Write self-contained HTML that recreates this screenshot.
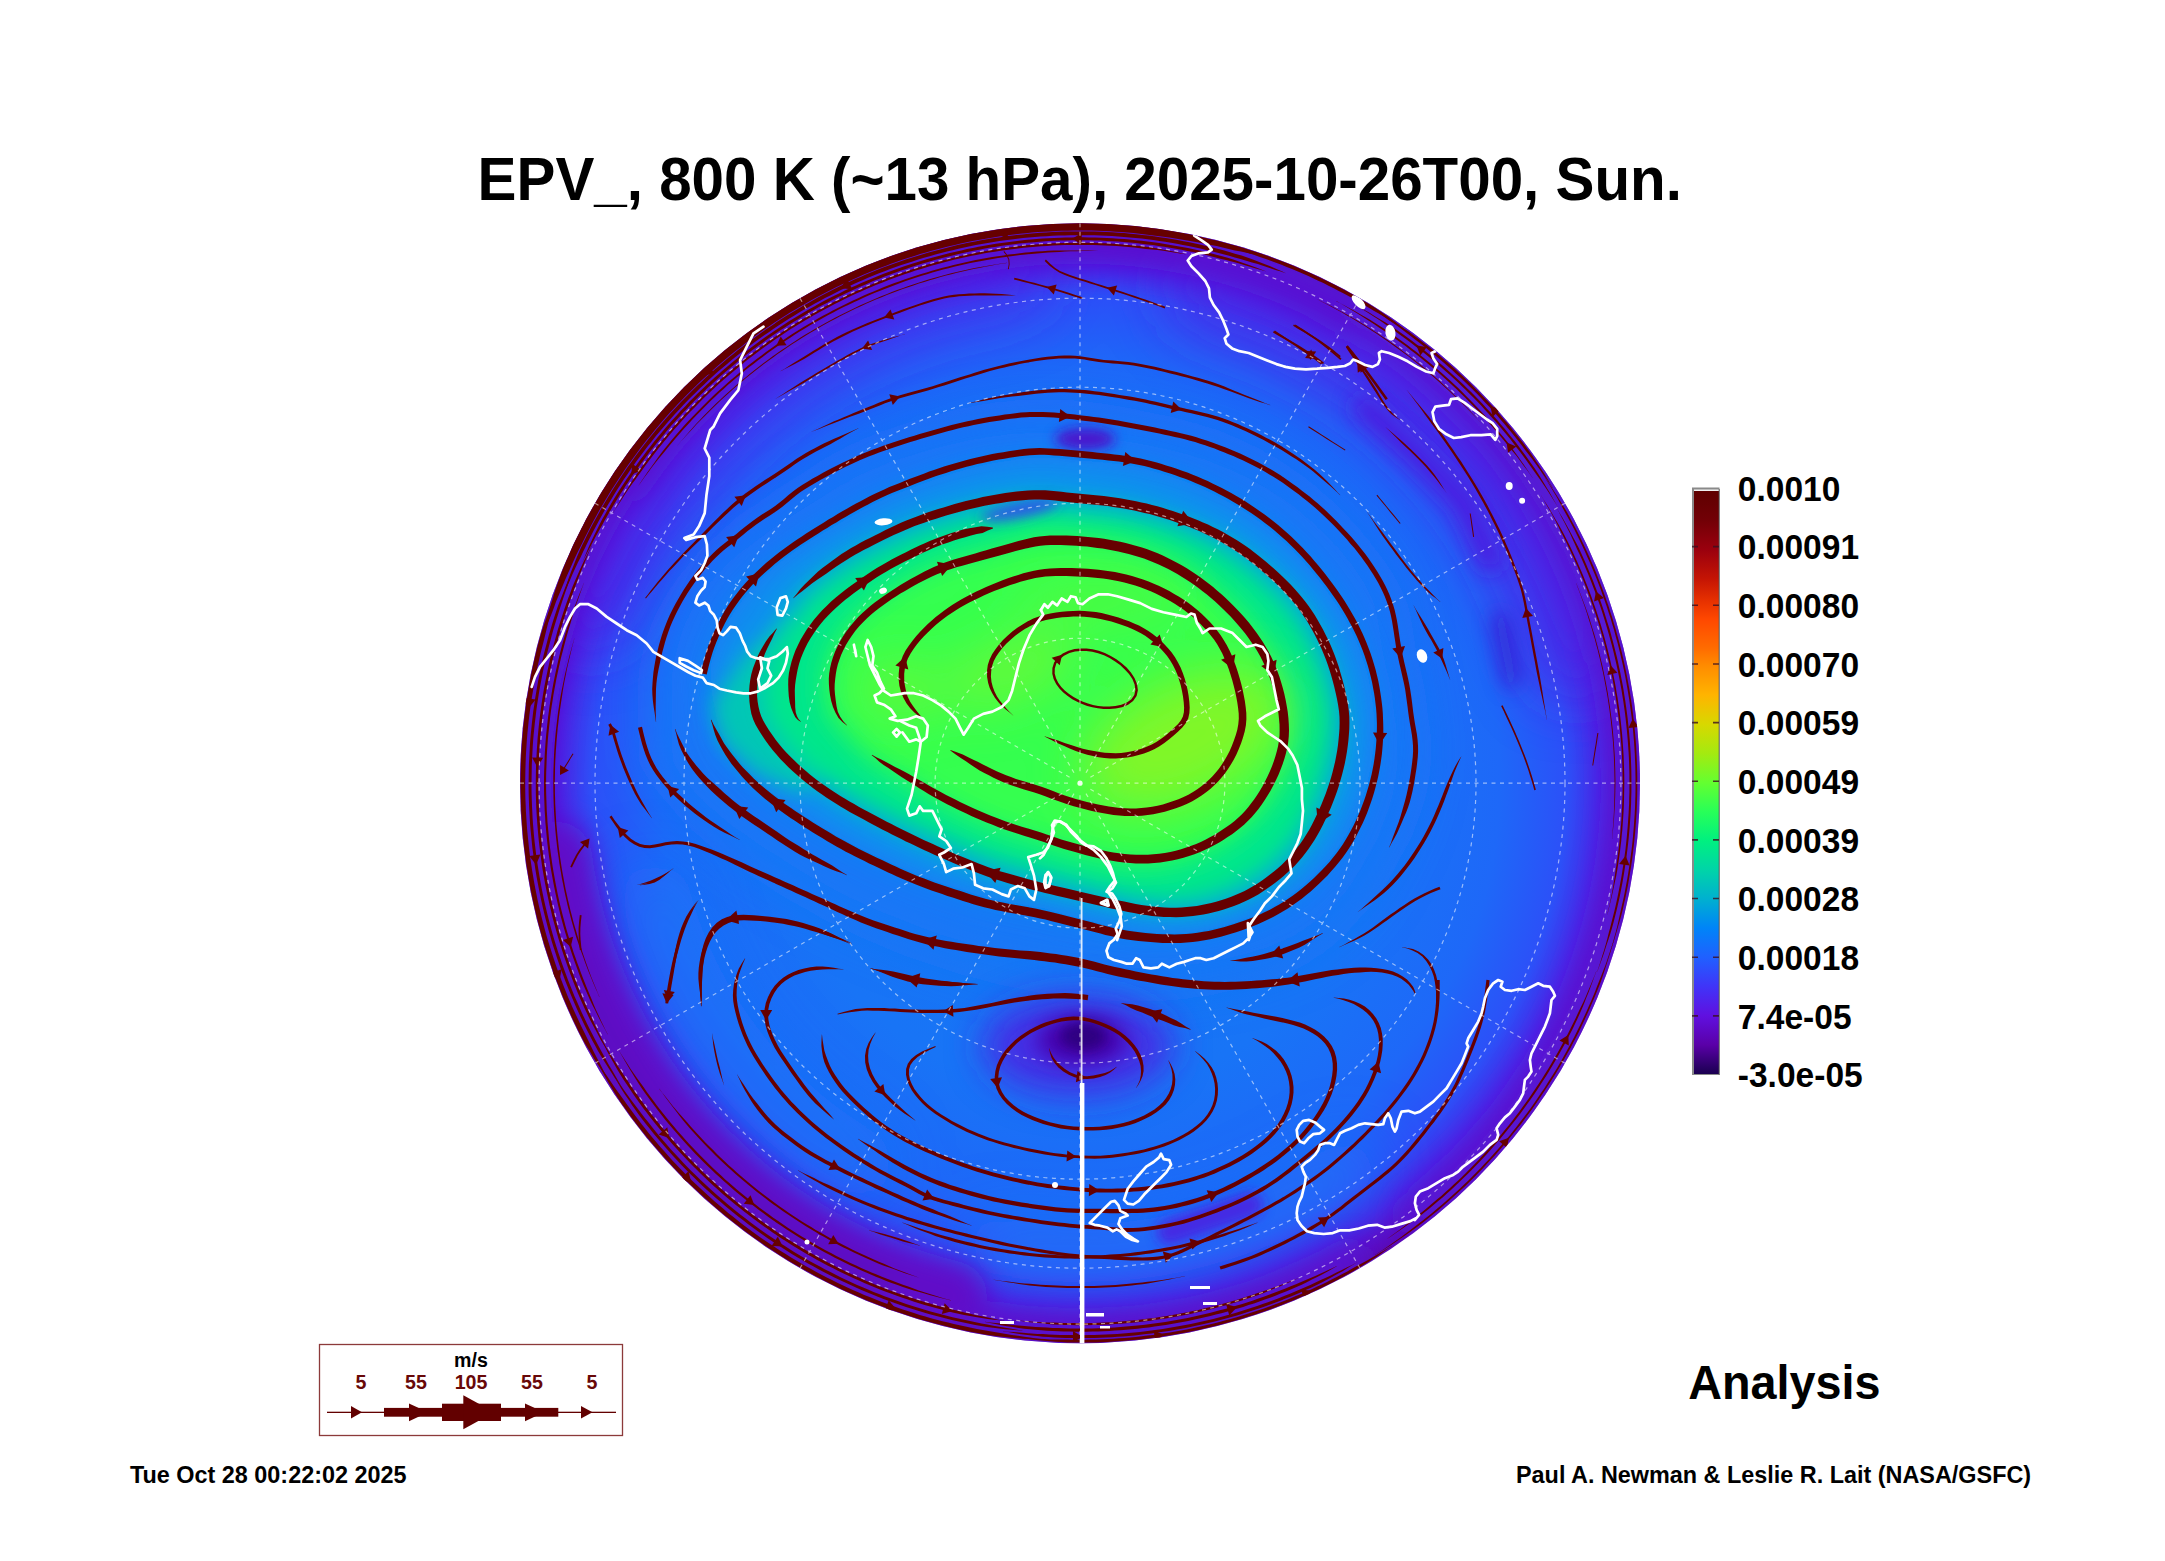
<!DOCTYPE html>
<html lang="en"><head><meta charset="utf-8"><title>EPV_, 800 K (~13 hPa), 2025-10-26T00, Sun.</title>
<style>
html,body{margin:0;padding:0;background:#fff;}
body{width:2165px;height:1561px;overflow:hidden;position:relative;font-family:"Liberation Sans",sans-serif;}
svg{position:absolute;left:0;top:0;display:block}
text{font-family:"Liberation Sans",sans-serif;font-weight:bold;fill:#000}
.title{font-size:61.2px}
.cb{font-size:35.8px}
.an{font-size:48.4px}
.ft{font-size:23.4px}
.lg{font-size:19.6px}
.lgr{fill:#680808}
</style></head><body>
<svg width="2165" height="1561" viewBox="0 0 2165 1561">
<defs>
<linearGradient id="cbg" x1="0" y1="0" x2="0" y2="1"><stop offset="0.00" stop-color="#5f0000"/><stop offset="0.05" stop-color="#720006"/><stop offset="0.10" stop-color="#9a000e"/><stop offset="0.15" stop-color="#c41404"/><stop offset="0.19" stop-color="#e83200"/><stop offset="0.22" stop-color="#ff4800"/><stop offset="0.27" stop-color="#ff6c00"/><stop offset="0.30" stop-color="#ff8c00"/><stop offset="0.35" stop-color="#ffb400"/><stop offset="0.40" stop-color="#d8d800"/><stop offset="0.45" stop-color="#a4ea10"/><stop offset="0.50" stop-color="#64ff30"/><stop offset="0.55" stop-color="#28ff58"/><stop offset="0.60" stop-color="#00f080"/><stop offset="0.65" stop-color="#00d4a8"/><stop offset="0.70" stop-color="#00b0d0"/><stop offset="0.75" stop-color="#0084f8"/><stop offset="0.80" stop-color="#2060ff"/><stop offset="0.85" stop-color="#4034f8"/><stop offset="0.90" stop-color="#6010e0"/><stop offset="0.95" stop-color="#5a00a8"/><stop offset="1.00" stop-color="#1a0050"/></linearGradient>
</defs>
<rect width="2165" height="1561" fill="#fff"/>
<text transform="translate(477.6 200) scale(.9533 1)" class="title">EPV_, 800 K (~13 hPa), 2025-10-26T00, Sun.</text>
<defs>
<clipPath id="disc"><circle cx="1080.0" cy="783.2" r="560.0"/></clipPath>
<radialGradient id="base" gradientUnits="userSpaceOnUse" cx="1080.0" cy="783.2" r="560.0">
<stop offset="0" stop-color="#1478f4"/><stop offset=".55" stop-color="#1874f6"/><stop offset=".75" stop-color="#1e68f8"/>
<stop offset=".87" stop-color="#2c50f8"/><stop offset=".93" stop-color="#4a26e6"/><stop offset=".965" stop-color="#5a10cc"/><stop offset="1" stop-color="#5c08b4"/>
</radialGradient>
<filter id="b6" x="-50%" y="-50%" width="200%" height="200%"><feGaussianBlur stdDeviation="6"/></filter>
<filter id="b10" x="-50%" y="-50%" width="200%" height="200%"><feGaussianBlur stdDeviation="10"/></filter>
<filter id="b14" x="-50%" y="-50%" width="200%" height="200%"><feGaussianBlur stdDeviation="14"/></filter>
<filter id="b18" x="-50%" y="-50%" width="200%" height="200%"><feGaussianBlur stdDeviation="18"/></filter>
<filter id="b25" x="-50%" y="-50%" width="200%" height="200%"><feGaussianBlur stdDeviation="25"/></filter>
<filter id="b30" x="-50%" y="-50%" width="200%" height="200%"><feGaussianBlur stdDeviation="30"/></filter>
</defs>
<g id="map" clip-path="url(#disc)">
<circle cx="1080.0" cy="783.2" r="561.0" fill="url(#base)"/>
<g filter="url(#b30)">
<path d="M591 605A520 520 0 0 1 1008 268" fill="none" stroke="#4a28e8" stroke-width="90" opacity="0.75" stroke-linecap="round"/>
<path d="M1213 286A515 515 0 0 1 1577 650" fill="none" stroke="#4a26e6" stroke-width="95" opacity="0.8" stroke-linecap="round"/>
<path d="M1350 1168A470 470 0 0 1 998 1246" fill="none" stroke="#1484f8" stroke-width="60" opacity="0.55" stroke-linecap="round"/>
<path d="M860 1164A440 440 0 0 1 655 897" fill="none" stroke="#1a7cf8" stroke-width="70" opacity="0.5" stroke-linecap="round"/>
</g><g filter="url(#b14)">
<path d="M952 1296A528 528 0 0 1 557 857" fill="none" stroke="#600cc8" stroke-width="70" opacity="1" stroke-linecap="round"/>
<path d="M878 1284A540 540 0 0 1 573 968" fill="none" stroke="#5c08c0" stroke-width="40" opacity="0.8" stroke-linecap="round"/>
<path d="M1612 651A548 548 0 0 1 1417 1215" fill="none" stroke="#5616d6" stroke-width="36" opacity="0.9" stroke-linecap="round"/>
<path d="M535 821A546 546 0 0 1 633 470" fill="none" stroke="#5a12d2" stroke-width="34" opacity="0.9" stroke-linecap="round"/>
<path d="M632 481A540 540 0 0 1 1350 316" fill="none" stroke="#5a12d2" stroke-width="40" opacity="0.95" stroke-linecap="round"/>
<path d="M1352 312A544 544 0 0 1 1608 652" fill="none" stroke="#5814d4" stroke-width="34" opacity="0.9" stroke-linecap="round"/>
<path d="M1354 1258A548 548 0 0 1 985 1323" fill="none" stroke="#5a14d4" stroke-width="28" opacity="0.9" stroke-linecap="round"/>
</g>
<g filter="url(#b25)">
<path d="M656.0 722.0C655.0 708.4 653.4 699.5 653.9 688.7C654.3 677.9 656.2 667.7 658.5 657.3C660.8 646.8 663.7 636.0 667.7 625.8C671.7 615.7 677.3 605.2 682.5 596.3C687.7 587.4 693.3 579.7 699.1 572.3C705.0 564.9 711.7 557.5 717.6 551.9C723.4 546.4 728.1 543.9 734.2 539.0C740.4 534.1 746.9 527.9 754.5 522.4C762.2 516.8 763.8 516.1 780.4 505.8C797.0 495.4 830.7 471.6 854.0 460.0C877.3 448.4 896.7 442.8 920.0 436.0C943.3 429.2 970.0 422.3 994.0 419.0C1018.0 415.7 1046.3 415.8 1064.0 416.0C1081.7 416.2 1084.9 417.7 1100.0 420.0C1115.1 422.3 1136.8 426.2 1154.5 430.0C1172.3 433.8 1188.4 436.8 1206.3 442.9C1224.1 449.1 1244.8 457.7 1261.7 467.0C1278.6 476.2 1294.0 487.3 1307.9 498.4C1321.8 509.4 1334.1 521.8 1344.8 533.5C1355.6 545.2 1364.9 556.6 1372.6 568.6C1380.3 580.6 1386.6 591.7 1391.0 605.5C1395.5 619.4 1396.6 637.9 1399.4 651.7C1402.1 665.6 1405.7 677.6 1407.7 688.7C1409.7 699.7 1410.0 708.5 1411.4 718.0C1412.7 727.5 1415.7 736.5 1416.0 745.7C1416.3 754.9 1414.6 764.2 1413.2 773.4C1411.8 782.7 1410.1 792.2 1407.7 801.1C1405.2 810.1 1401.5 819.3 1398.4 827.0C1395.4 834.7 1397.3 833.5 1389.2 847.3C1381.1 861.2 1368.2 891.2 1350.0 910.0C1331.8 928.8 1313.3 947.5 1280.0 960.0C1246.7 972.5 1196.7 983.7 1150.0 985.0C1103.3 986.3 1050.0 979.7 1000.0 968.0C950.0 956.3 896.7 937.2 850.0 915.0C803.3 892.8 751.7 859.2 720.0 835.0C688.3 810.8 670.7 788.8 660.0 770.0C649.3 751.2 657.0 735.6 656.0 722.0Z" fill="#1a78f6" opacity=".9"/>
</g><g filter="url(#b14)">
<path d="M709.7 674.3C709.4 663.2 712.9 659.5 715.2 652.5C717.5 645.6 720.6 638.9 723.5 632.6C726.4 626.2 729.0 620.5 732.6 614.5C736.3 608.4 740.9 602.1 745.5 596.4C750.0 590.6 754.6 585.5 760.1 580.1C765.6 574.7 771.7 569.3 778.4 563.9C785.1 558.4 792.4 553.1 800.3 547.7C808.2 542.3 817.1 536.9 825.9 531.5C834.7 526.1 843.5 520.8 853.2 515.4C862.9 510.0 873.7 504.0 884.0 499.3C894.3 494.5 904.3 490.8 914.8 486.8C925.4 482.8 935.9 478.8 947.3 475.2C958.8 471.6 971.4 468.0 983.4 465.3C995.5 462.6 1010.0 460.4 1019.5 459.0C1029.0 457.7 1030.8 457.1 1040.2 457.2C1049.7 457.4 1061.9 458.6 1076.3 460.0C1090.7 461.3 1113.3 463.2 1126.8 465.3C1140.3 467.3 1146.4 469.1 1157.5 472.4C1168.7 475.6 1181.6 479.8 1193.7 484.9C1205.8 489.9 1218.5 496.2 1229.9 502.8C1241.4 509.4 1252.3 516.5 1262.6 524.3C1272.9 532.1 1282.6 540.5 1291.7 549.5C1300.8 558.6 1309.3 568.5 1317.2 578.4C1325.1 588.4 1332.7 598.9 1339.1 609.1C1345.5 619.4 1351.0 629.7 1355.6 639.9C1360.2 650.2 1363.8 661.1 1366.6 670.7C1369.3 680.4 1370.9 690.1 1372.1 697.9C1373.3 705.7 1373.6 711.1 1374.0 717.7C1374.3 724.3 1374.4 730.1 1374.0 737.6C1373.6 745.2 1372.8 754.2 1371.3 763.0C1369.8 771.8 1367.8 780.9 1365.0 790.2C1362.1 799.6 1358.6 809.6 1354.1 819.3C1349.5 828.9 1344.0 839.2 1337.7 848.3C1331.3 857.3 1323.7 865.8 1315.8 873.6C1307.9 881.4 1299.1 889.0 1290.3 895.3C1281.5 901.6 1272.1 907.0 1263.0 911.5C1253.9 915.9 1245.1 919.1 1235.7 922.2C1226.3 925.3 1216.3 928.2 1206.6 930.1C1196.9 932.0 1187.2 933.1 1177.5 933.5C1167.9 933.9 1158.2 933.2 1148.5 932.3C1138.8 931.5 1129.2 930.3 1119.5 928.4C1109.9 926.5 1100.3 923.4 1090.6 920.9C1081.0 918.4 1070.2 915.6 1061.8 913.4C1053.4 911.2 1051.8 910.3 1040.3 907.8C1028.7 905.4 1006.6 902.1 992.7 898.8C978.8 895.5 968.7 892.0 956.7 888.1C944.7 884.3 932.7 880.5 920.7 875.7C908.6 871.0 896.6 865.4 884.5 859.8C872.4 854.2 860.3 848.5 848.1 842.0C836.0 835.5 822.6 827.4 811.6 820.6C800.7 813.7 790.9 807.1 782.3 800.9C773.8 794.6 767.3 789.5 760.3 782.8C753.3 776.2 745.9 768.4 740.1 761.2C734.3 753.9 729.2 746.4 725.4 739.4C721.6 732.5 719.7 730.3 717.1 719.5C714.5 708.6 710.0 685.5 709.7 674.3Z" fill="#0c90ee"/>
</g><g filter="url(#b10)">
<path d="M789.6 596.6C794.6 589.3 797.4 588.2 802.7 583.4C808.0 578.7 814.2 573.7 821.3 568.4C828.5 563.0 836.9 556.7 845.6 551.4C854.3 546.0 863.6 541.3 873.6 536.2C883.6 531.2 894.8 525.5 905.4 521.1C916.0 516.7 926.4 513.2 937.3 509.7C948.3 506.2 959.9 502.9 971.1 500.2C982.4 497.5 993.6 495.1 1005.0 493.5C1016.5 491.9 1027.8 490.5 1039.8 490.7C1051.9 490.8 1065.0 493.1 1077.5 494.4C1090.1 495.7 1102.6 496.3 1115.1 498.3C1127.7 500.2 1140.5 502.7 1152.7 505.9C1164.9 509.1 1177.4 513.2 1188.4 517.3C1199.3 521.5 1208.7 525.6 1218.3 530.6C1228.0 535.7 1237.0 541.0 1246.4 547.6C1255.7 554.2 1265.7 562.4 1274.4 570.2C1283.1 578.1 1291.5 586.2 1298.6 594.7C1305.8 603.2 1311.7 611.6 1317.3 621.0C1322.9 630.4 1328.1 641.3 1332.2 651.0C1336.2 660.7 1339.0 670.4 1341.4 679.1C1343.9 687.8 1345.8 696.9 1347.0 703.4C1348.2 710.0 1348.9 711.1 1348.8 718.2C1348.8 725.4 1348.2 736.9 1347.0 746.3C1345.7 755.6 1343.8 765.0 1341.3 774.4C1338.9 783.7 1336.0 792.5 1332.0 802.5C1327.9 812.5 1322.6 824.6 1317.0 834.3C1311.4 844.0 1305.2 852.7 1298.3 860.5C1291.5 868.4 1284.0 874.9 1275.9 881.2C1267.9 887.5 1259.1 893.4 1249.8 898.2C1240.5 902.9 1229.9 906.7 1219.9 909.5C1210.0 912.4 1200.0 914.3 1190.0 915.3C1180.1 916.3 1170.1 916.2 1160.1 915.5C1150.1 914.8 1140.8 913.0 1130.1 911.1C1119.5 909.2 1107.3 906.3 1096.4 903.9C1085.4 901.5 1073.8 898.7 1064.3 896.6C1054.9 894.4 1049.1 893.4 1039.8 891.0C1030.5 888.7 1017.0 885.0 1008.6 882.6C1000.3 880.3 999.2 880.5 989.8 877.0C980.3 873.5 964.6 867.2 952.0 861.8C939.5 856.5 926.9 850.7 914.4 844.7C901.9 838.7 889.4 832.3 876.9 825.6C864.5 819.0 850.5 811.4 839.6 804.7C828.8 798.1 820.4 792.4 811.7 785.8C803.1 779.2 794.7 772.0 787.6 765.1C780.5 758.2 774.0 750.7 769.1 744.5C764.1 738.2 760.7 732.0 758.0 727.6C755.2 723.2 753.9 723.5 752.4 718.2C750.9 712.9 749.0 703.1 748.7 696.0C748.4 688.8 749.3 681.9 750.6 675.4C751.8 668.8 754.0 662.2 756.1 656.6C758.3 651.0 760.8 646.5 763.6 641.6C766.4 636.8 768.5 635.1 772.9 627.6C777.2 620.1 784.7 604.0 789.6 596.6Z" fill="#04b4d0"/>
<path d="M712 705L745 655L790 615L835 640L840 760L800 792L755 772L722 742Z" fill="#06ccb0" opacity=".9"/>
</g><g filter="url(#b10)">
<path d="M806.3 603.5C811.1 596.6 813.8 595.6 818.9 591.3C824.0 587.0 829.9 582.4 836.8 577.6C843.7 572.7 851.7 567.0 860.0 562.2C868.3 557.4 877.2 553.2 886.6 548.7C896.0 544.2 906.6 539.1 916.6 535.2C926.5 531.3 936.1 528.3 946.3 525.3C956.5 522.2 967.2 519.3 977.6 517.0C987.9 514.6 998.2 512.5 1008.7 511.1C1019.2 509.8 1029.5 508.5 1040.6 508.7C1051.6 508.8 1063.5 511.1 1075.0 512.2C1086.5 513.3 1098.0 513.8 1109.6 515.4C1121.1 517.0 1133.0 519.1 1144.3 521.8C1155.6 524.5 1167.3 528.1 1177.5 531.7C1187.8 535.3 1196.6 538.9 1205.7 543.4C1214.8 547.9 1223.4 552.7 1232.2 558.7C1241.1 564.7 1250.6 572.2 1258.9 579.4C1267.2 586.5 1275.3 594.0 1282.1 601.8C1289.0 609.7 1294.7 617.5 1300.0 626.2C1305.4 635.0 1310.5 645.2 1314.5 654.2C1318.4 663.3 1321.1 672.4 1323.5 680.6C1325.9 688.8 1327.8 697.3 1329.0 703.4C1330.2 709.5 1330.8 710.6 1330.9 717.3C1330.9 724.0 1330.3 734.9 1329.1 743.7C1328.0 752.5 1326.2 761.3 1323.9 770.1C1321.5 778.9 1318.8 787.1 1315.0 796.5C1311.2 805.9 1306.2 817.3 1300.9 826.4C1295.5 835.5 1289.6 843.7 1283.1 850.9C1276.6 858.2 1269.5 864.3 1261.8 870.1C1254.1 875.9 1245.8 881.4 1236.9 885.6C1228.0 889.9 1217.9 893.2 1208.4 895.7C1199.0 898.1 1189.5 899.7 1180.0 900.3C1170.6 901.0 1161.1 900.6 1151.7 899.6C1142.3 898.6 1133.5 896.5 1123.6 894.3C1113.6 892.1 1102.3 889.0 1092.2 886.4C1082.1 883.8 1071.5 880.9 1062.9 878.6C1054.3 876.4 1049.0 875.3 1040.6 873.1C1032.3 870.8 1020.1 867.3 1012.5 865.1C1005.0 862.9 1004.0 863.0 995.5 859.9C987.0 856.8 972.8 851.2 961.4 846.4C949.9 841.7 938.4 836.8 926.8 831.6C915.1 826.4 903.4 821.0 891.6 815.2C879.7 809.4 866.3 802.7 855.8 796.9C845.3 791.0 837.2 785.9 828.7 779.9C820.3 773.9 812.1 767.3 805.1 760.9C798.1 754.6 791.7 747.6 786.9 741.8C782.0 736.0 778.6 730.1 775.9 726.1C773.1 722.0 771.9 722.2 770.4 717.3C768.8 712.3 767.0 703.1 766.7 696.4C766.4 689.7 767.3 683.2 768.5 677.0C769.7 670.9 771.8 664.7 773.9 659.4C776.0 654.2 778.5 649.9 781.2 645.4C783.9 640.9 786.0 639.3 790.2 632.3C794.4 625.3 801.5 610.3 806.3 603.5Z" fill="#02e68c"/>
</g><g filter="url(#b14)">
<path d="M841.0 726.0C835.2 719.6 834.2 723.8 831.7 718.4C829.2 713.1 827.1 701.5 826.2 693.9C825.2 686.4 825.3 680.0 826.2 673.1C827.1 666.1 829.0 659.2 831.8 652.2C834.7 645.3 838.4 638.0 843.1 631.3C847.8 624.7 853.1 618.6 860.0 612.2C866.8 605.9 875.6 599.1 884.4 593.1C893.1 587.0 903.2 580.8 912.6 575.7C922.1 570.5 930.9 566.0 941.0 562.1C951.1 558.2 962.2 555.5 973.3 552.2C984.5 549.0 996.7 545.4 1007.7 542.5C1018.7 539.6 1027.7 536.2 1039.3 534.9C1051.0 533.6 1064.9 534.1 1077.6 534.9C1090.4 535.7 1103.2 537.2 1115.9 539.8C1128.6 542.4 1142.0 545.9 1154.0 550.6C1166.1 555.2 1178.1 561.8 1188.3 567.9C1198.4 574.0 1206.3 580.1 1214.8 587.2C1223.3 594.2 1232.1 602.5 1239.3 610.2C1246.5 617.8 1252.5 625.1 1258.1 633.1C1263.8 641.0 1268.8 648.7 1273.1 657.8C1277.5 667.0 1281.5 678.2 1284.3 688.2C1287.1 698.3 1289.0 709.3 1289.9 718.4C1290.8 727.5 1291.1 734.5 1289.8 743.0C1288.5 751.5 1285.7 760.7 1282.2 769.6C1278.8 778.4 1274.4 787.6 1269.1 796.2C1263.7 804.7 1257.4 813.6 1250.2 820.9C1243.0 828.2 1234.5 834.4 1225.7 840.0C1216.9 845.6 1206.9 850.8 1197.4 854.5C1188.0 858.2 1178.9 860.7 1169.1 862.4C1159.3 864.1 1148.9 864.9 1138.8 864.7C1128.6 864.5 1118.5 863.1 1108.3 861.4C1098.2 859.6 1086.7 856.5 1077.7 854.2C1068.8 851.9 1061.1 849.8 1054.6 847.8C1048.2 845.8 1047.1 844.7 1039.2 842.2C1031.3 839.7 1019.0 836.8 1007.3 832.6C995.6 828.4 981.6 822.8 968.9 816.9C956.1 811.1 941.8 803.5 930.8 797.3C919.7 791.1 911.0 784.9 902.5 779.8C894.1 774.6 886.1 770.0 880.1 766.2C874.0 762.3 872.6 763.2 866.1 756.5C859.6 749.8 846.7 732.4 841.0 726.0Z" fill="#36ff50"/>
</g><g filter="url(#b25)">
<ellipse cx="1185" cy="740" rx="110" ry="60" transform="rotate(-25 1185 740)" fill="#88f622" opacity=".9"/>
<ellipse cx="1010" cy="670" rx="70" ry="30" transform="rotate(-20 1010 670)" fill="#7af82c" opacity=".7"/>
<ellipse cx="900" cy="690" rx="40" ry="30" fill="#74f830" opacity=".7"/>
<ellipse cx="1100" cy="600" rx="90" ry="20" fill="#6cfa34" opacity=".5"/>
</g>
<g filter="url(#b18)">
<ellipse cx="1078" cy="1046" rx="95" ry="50" fill="#4a22e2" opacity=".9"/>
</g><g filter="url(#b10)">
<ellipse cx="1082" cy="1040" rx="44" ry="24" fill="#4606ac"/>
<ellipse cx="1086" cy="1036" rx="16" ry="10" fill="#2a0478"/>
<path d="M1365 408L1420 458L1464 502L1490 560" fill="none" stroke="#4a20e0" stroke-width="24" stroke-linecap="round" stroke-linejoin="round" opacity=".9"/>
<path d="M1500 620L1512 680" fill="none" stroke="#3c14c8" stroke-width="14" stroke-linecap="round" opacity=".8"/>
</g><g filter="url(#b6)">
<ellipse cx="1085" cy="439" rx="30" ry="11" fill="#4a12cc"/>
<ellipse cx="1083" cy="1036" rx="22" ry="12" fill="#2e0480" opacity=".9"/>
<path d="M1170 1232L1250 1205" fill="none" stroke="#4a20e0" stroke-width="26" stroke-linecap="round" opacity=".85"/>
<ellipse cx="1020" cy="510" rx="40" ry="8" transform="rotate(-12 1020 510)" fill="#3a40f4" opacity=".8"/>
</g>
<g id="streams" fill="#660000" stroke="none">
<path d="M1054.8 668.5L1056.3 663.6L1059.5 659.3L1064.0 655.7L1069.4 653.1L1075.0 651.6L1080.6 650.9L1086.3 650.9L1092.2 651.7L1098.1 653.2L1104.0 655.3L1109.6 658.1L1115.1 661.4L1120.1 665.1L1124.8 669.4L1129.0 674.0L1132.4 679.1L1134.6 684.6L1135.4 690.1L1134.3 695.1L1131.4 699.3L1126.9 702.6L1121.3 704.8L1115.3 706.1L1109.4 706.5L1103.6 706.4L1098.2 705.9L1093.0 704.9L1088.0 703.6L1083.0 701.8L1078.2 699.6L1073.6 697.1L1069.1 694.1L1065.0 690.7L1061.3 687.0L1058.2 682.8L1056.0 678.3L1054.7 673.4ZM1052.3 673.7L1053.6 679.1L1056.1 684.1L1059.4 688.6L1063.3 692.6L1067.7 696.1L1072.3 699.2L1077.1 701.8L1082.1 704.1L1087.2 705.9L1092.4 707.3L1097.8 708.3L1103.5 708.9L1109.5 709.0L1115.7 708.5L1122.0 707.2L1128.1 704.8L1133.1 701.1L1136.6 696.1L1137.9 690.2L1137.0 684.0L1134.5 678.0L1130.9 672.5L1126.6 667.6L1121.7 663.2L1116.4 659.3L1110.8 655.9L1104.9 653.0L1098.8 650.8L1092.6 649.3L1086.5 648.5L1080.5 648.4L1074.5 649.1L1068.5 650.8L1062.7 653.6L1057.7 657.5L1054.1 662.5L1052.4 668.1Z"/>
<path d="M1062.1 654.7L1059.7 665.2L1051.7 657.7Z"/>
<path d="M1013.3 715.4L1009.9 712.2L1006.6 708.7L1003.2 704.8L999.9 700.7L997.0 696.4L994.6 691.8L992.8 687.0L991.5 682.0L990.9 676.6L991.2 671.2L992.1 666.0L993.8 661.1L996.2 656.6L999.1 652.2L1002.6 647.8L1006.5 643.6L1010.9 639.5L1015.5 635.6L1020.3 632.0L1025.2 628.8L1030.3 626.0L1035.4 623.6L1040.7 621.6L1045.9 620.0L1051.3 618.9L1056.8 618.0L1062.3 617.3L1067.8 616.9L1073.3 616.6L1078.8 616.6L1084.2 616.8L1089.6 617.3L1095.0 618.0L1100.5 619.0L1105.9 620.2L1111.4 621.6L1116.8 623.2L1122.0 625.0L1127.0 626.8L1131.8 628.8L1136.5 630.9L1140.9 633.2L1145.2 635.8L1149.2 638.7L1153.1 641.8L1156.9 645.1L1160.5 648.5L1163.9 652.2L1167.1 656.1L1170.2 660.4L1172.9 665.1L1175.4 670.0L1177.5 675.1L1179.2 680.3L1180.8 685.6L1182.0 691.1L1183.0 696.6L1183.7 702.1L1184.1 707.4L1183.9 712.3L1182.9 716.5L1181.0 720.3L1178.1 723.9L1174.4 727.6L1170.1 731.5L1165.5 735.4L1160.8 738.9L1156.3 741.9L1151.8 744.4L1147.1 746.6L1142.3 748.4L1137.2 750.0L1132.0 751.3L1126.6 752.3L1121.1 752.9L1115.7 753.2L1110.3 753.1L1104.9 752.7L1099.5 752.0L1094.0 751.1L1088.4 750.1L1082.8 748.7L1077.1 746.9L1071.0 745.0L1064.6 743.0L1058.1 740.6L1051.4 738.5L1044.7 736.3L1044.6 736.6L1050.9 739.7L1057.2 742.9L1063.6 745.7L1069.7 748.5L1075.7 750.9L1081.6 752.9L1087.3 754.7L1093.0 756.1L1098.7 757.2L1104.4 758.0L1110.1 758.4L1115.8 758.4L1121.6 758.1L1127.3 757.5L1133.0 756.5L1138.6 755.1L1144.0 753.5L1149.2 751.5L1154.2 749.3L1159.1 746.6L1164.0 743.3L1168.9 739.6L1173.7 735.6L1178.2 731.6L1182.3 727.6L1185.7 723.3L1188.2 718.4L1189.4 713.1L1189.7 707.4L1189.3 701.6L1188.6 695.7L1187.6 690.0L1186.3 684.2L1184.7 678.6L1182.8 673.0L1180.6 667.6L1178.0 662.4L1175.0 657.3L1171.7 652.6L1168.3 648.4L1164.6 644.5L1160.8 640.8L1156.9 637.3L1152.7 634.0L1148.4 631.0L1143.8 628.2L1139.0 625.6L1134.1 623.4L1129.1 621.3L1123.9 619.4L1118.5 617.6L1113.0 615.9L1107.4 614.4L1101.6 613.1L1095.9 612.1L1090.2 611.4L1084.5 611.0L1078.8 610.8L1073.2 610.9L1067.5 611.2L1061.7 611.7L1056.0 612.4L1050.2 613.4L1044.6 614.7L1038.9 616.4L1033.3 618.6L1027.8 621.3L1022.5 624.4L1017.3 627.8L1012.3 631.6L1007.5 635.8L1003.0 640.1L998.9 644.7L995.3 649.4L992.1 654.2L989.6 659.4L987.8 664.9L987.0 670.8L987.1 676.9L988.1 682.7L989.7 688.1L992.1 693.1L994.9 697.7L998.2 702.0L1001.8 706.1L1005.8 709.6L1009.6 712.6L1013.1 715.5Z"/>
<path d="M1163.5 647.2L1150.4 644.5L1159.7 634.4Z"/>
<path d="M926.1 721.9L922.9 718.6L919.7 714.8L916.3 710.6L913.0 706.1L910.0 701.4L907.5 696.2L905.9 690.6L904.8 684.9L904.2 679.4L904.2 674.0L904.8 668.7L906.0 663.5L907.9 658.4L910.6 653.4L913.7 648.7L917.0 644.3L920.5 640.1L924.2 636.1L928.0 632.2L931.9 628.5L935.7 625.0L939.6 621.8L943.5 618.8L947.5 615.8L951.7 612.9L955.9 610.2L960.3 607.5L964.7 605.0L969.3 602.5L974.0 600.2L978.7 597.9L983.7 595.6L988.8 593.3L994.1 591.1L999.6 589.0L1005.0 587.0L1010.3 585.1L1015.4 583.4L1020.4 581.8L1025.3 580.4L1030.3 579.2L1035.3 578.1L1040.4 577.3L1045.4 576.6L1050.5 576.3L1055.6 576.1L1060.9 576.1L1066.2 576.1L1071.5 576.3L1076.8 576.5L1082.1 576.7L1087.3 577.0L1092.6 577.5L1097.8 578.0L1103.0 578.6L1108.2 579.3L1113.5 580.3L1118.9 581.3L1124.3 582.6L1129.8 584.0L1135.2 585.6L1140.4 587.3L1145.6 589.2L1150.7 591.3L1155.7 593.5L1160.6 595.9L1165.4 598.4L1170.1 601.0L1174.7 603.8L1179.2 606.7L1183.7 609.8L1187.9 613.0L1192.1 616.3L1196.1 619.8L1200.0 623.5L1203.8 627.4L1207.4 631.3L1210.8 635.4L1214.0 639.6L1217.0 644.1L1219.7 648.8L1222.3 653.6L1224.6 658.7L1226.7 663.8L1228.7 669.1L1230.5 674.5L1232.2 680.1L1233.7 685.7L1235.1 691.3L1236.3 697.0L1237.3 702.6L1238.1 708.1L1238.7 713.4L1238.8 718.8L1238.3 724.2L1237.3 729.7L1235.8 735.1L1233.9 740.6L1231.8 746.0L1229.5 751.2L1227.0 756.1L1224.4 760.6L1221.7 764.8L1218.9 768.8L1215.8 772.6L1212.5 776.2L1209.0 779.7L1205.3 783.1L1201.4 786.3L1197.3 789.3L1193.0 792.1L1188.4 794.7L1183.6 797.0L1178.5 799.2L1173.4 801.1L1168.2 802.8L1162.9 804.4L1157.5 805.7L1152.1 806.7L1146.7 807.6L1141.3 808.1L1136.0 808.4L1130.6 808.5L1125.2 808.3L1119.8 807.9L1114.4 807.3L1108.9 806.6L1103.5 805.6L1098.1 804.5L1092.6 803.3L1087.0 801.9L1081.4 800.5L1075.8 798.9L1070.2 797.2L1064.8 795.4L1059.2 793.5L1053.6 791.3L1047.8 789.1L1042.2 787.1L1036.8 785.2L1031.5 783.6L1026.3 782.1L1021.1 780.5L1016.0 778.9L1011.0 777.1L1006.1 775.2L1001.3 773.2L996.6 771.2L992.0 769.1L987.5 766.8L982.9 764.5L978.2 762.0L973.3 759.7L968.2 757.2L962.8 754.4L956.8 752.3L950.5 750.1L950.3 750.6L955.7 754.4L960.8 758.1L965.9 761.2L970.5 764.4L975.0 767.6L979.6 770.4L984.3 772.9L988.9 775.3L993.5 777.7L998.3 780.0L1003.3 782.2L1008.3 784.2L1013.5 786.1L1018.8 787.8L1024.1 789.4L1029.3 790.9L1034.4 792.5L1039.7 794.2L1045.2 796.3L1050.9 798.5L1056.6 800.6L1062.3 802.6L1068.0 804.4L1073.7 806.2L1079.4 807.8L1085.1 809.3L1090.8 810.7L1096.5 812.0L1102.1 813.1L1107.8 814.1L1113.4 814.9L1119.1 815.5L1124.8 815.9L1130.5 816.1L1136.2 816.1L1141.9 815.7L1147.7 815.1L1153.4 814.2L1159.1 813.1L1164.8 811.7L1170.4 810.1L1175.9 808.3L1181.4 806.2L1186.7 803.9L1191.9 801.4L1196.9 798.6L1201.6 795.6L1206.1 792.3L1210.3 788.9L1214.3 785.2L1218.1 781.4L1221.6 777.5L1224.9 773.4L1228.0 769.1L1230.9 764.6L1233.7 759.7L1236.4 754.5L1238.8 748.9L1241.1 743.2L1243.0 737.4L1244.7 731.4L1245.9 725.2L1246.4 719.0L1246.3 713.0L1245.7 707.2L1244.9 701.3L1243.8 695.5L1242.6 689.6L1241.2 683.8L1239.6 678.0L1237.9 672.2L1236.0 666.5L1234.0 661.0L1231.8 655.5L1229.4 650.2L1226.7 644.9L1223.7 639.9L1220.5 635.0L1217.1 630.4L1213.5 626.1L1209.7 621.8L1205.7 617.7L1201.6 613.8L1197.3 610.1L1193.0 606.5L1188.5 603.1L1183.8 599.8L1179.1 596.8L1174.2 593.9L1169.3 591.1L1164.3 588.5L1159.2 586.0L1153.9 583.7L1148.6 581.5L1143.1 579.5L1137.6 577.7L1132.0 576.1L1126.3 574.6L1120.6 573.2L1115.0 572.1L1109.5 571.2L1104.1 570.4L1098.7 569.7L1093.3 569.2L1087.9 568.8L1082.5 568.4L1077.1 568.2L1071.7 568.0L1066.2 568.0L1060.8 568.1L1055.3 568.2L1050.0 568.6L1044.6 569.0L1039.2 569.7L1033.9 570.7L1028.5 571.9L1023.3 573.3L1018.2 574.9L1013.1 576.5L1007.9 578.3L1002.5 580.3L997.0 582.4L991.5 584.7L986.1 587.0L980.8 589.4L975.8 591.8L971.0 594.2L966.2 596.7L961.6 599.3L957.0 602.0L952.5 604.8L948.1 607.7L943.9 610.8L939.7 613.9L935.7 617.1L931.8 620.5L927.8 624.1L923.8 628.0L919.9 632.1L916.1 636.3L912.5 640.7L909.0 645.4L905.6 650.5L902.8 656.1L900.6 661.9L899.3 667.8L898.7 673.7L898.7 679.7L899.4 685.8L901.0 692.0L903.5 697.9L906.6 703.4L910.2 708.3L914.4 712.4L918.5 715.9L922.4 719.1L925.9 722.1Z"/>
<path d="M905.1 656.7L908.3 669.5L895.4 665.6Z"/>
<path d="M1232.9 669.0L1221.1 659.8L1235.4 654.2Z"/>
<path d="M847.0 725.3L843.3 721.3L840.2 716.8L837.8 711.8L836.5 706.1L835.7 700.2L835.0 694.4L834.6 689.0L834.7 683.9L835.2 679.1L835.8 674.3L836.6 669.5L837.8 664.6L839.4 659.7L841.2 654.8L843.4 649.9L845.9 645.0L848.8 640.2L852.0 635.4L855.4 630.8L859.2 626.3L863.3 622.1L867.3 618.1L871.2 614.6L875.1 611.3L879.0 608.3L883.1 605.2L887.3 602.2L891.5 599.3L895.9 596.4L900.4 593.6L905.0 590.9L909.6 588.2L914.3 585.6L918.9 583.1L923.4 580.7L927.9 578.5L932.5 576.3L937.0 574.3L941.6 572.4L946.4 570.6L951.3 568.9L956.3 567.3L961.4 565.9L966.7 564.4L972.0 563.0L977.5 561.5L983.0 560.0L988.5 558.4L994.1 557.0L999.7 555.5L1005.1 554.0L1010.5 552.6L1015.7 551.1L1020.8 549.8L1025.7 548.6L1030.6 547.5L1035.5 546.5L1040.4 545.8L1045.4 545.3L1050.4 545.1L1055.5 545.0L1060.7 545.1L1066.0 545.2L1071.3 545.5L1076.6 545.8L1081.8 546.2L1087.0 546.6L1092.2 547.2L1097.4 547.9L1102.6 548.6L1107.8 549.5L1113.0 550.5L1118.2 551.6L1123.4 552.8L1128.7 554.0L1133.9 555.4L1139.0 557.0L1144.0 558.6L1149.0 560.4L1153.9 562.4L1158.7 564.5L1163.5 566.7L1168.2 569.1L1172.8 571.5L1177.3 574.0L1181.7 576.7L1186.1 579.4L1190.4 582.3L1194.7 585.2L1198.8 588.2L1202.9 591.4L1206.9 594.6L1211.0 598.0L1215.1 601.6L1219.1 605.2L1223.0 608.9L1226.8 612.7L1230.6 616.6L1234.4 620.7L1238.1 624.9L1241.7 629.2L1245.2 633.5L1248.5 637.9L1251.6 642.4L1254.7 647.0L1257.5 651.6L1260.2 656.3L1262.6 661.0L1264.9 665.7L1266.9 670.5L1268.8 675.3L1270.6 680.2L1272.2 685.2L1273.7 690.4L1275.1 695.9L1276.4 701.6L1277.5 707.3L1278.4 713.1L1279.0 718.8L1279.5 724.5L1279.6 730.1L1279.5 735.6L1278.9 740.9L1278.1 746.1L1276.9 751.1L1275.5 756.1L1273.9 761.1L1272.0 766.2L1269.9 771.3L1267.6 776.3L1265.1 781.3L1262.5 786.2L1259.7 790.9L1257.0 795.2L1254.1 799.4L1251.2 803.3L1248.2 807.2L1245.0 810.9L1241.7 814.4L1238.2 817.7L1234.6 820.9L1230.8 823.9L1226.8 826.8L1222.7 829.6L1218.6 832.3L1214.3 834.9L1209.9 837.3L1205.4 839.7L1200.8 841.9L1196.2 843.9L1191.3 845.8L1186.3 847.6L1181.1 849.3L1175.7 850.7L1170.3 851.9L1164.8 852.9L1159.2 853.7L1153.5 854.3L1147.8 854.7L1142.0 854.8L1136.2 854.8L1130.5 854.5L1124.7 853.9L1119.0 853.2L1113.3 852.4L1107.8 851.4L1102.5 850.3L1097.4 849.2L1092.4 848.0L1087.5 846.7L1082.5 845.4L1077.3 844.0L1071.9 842.5L1066.5 841.0L1061.2 839.4L1056.3 837.8L1051.5 836.1L1046.7 834.4L1041.8 832.8L1037.0 831.2L1032.1 829.7L1027.0 828.2L1021.8 826.7L1016.4 825.0L1011.1 823.2L1005.9 821.4L1000.7 819.5L995.5 817.5L990.2 815.4L984.9 813.2L979.6 811.0L974.5 808.7L969.6 806.5L964.8 804.2L960.0 801.9L955.3 799.6L950.7 797.3L946.1 794.9L941.6 792.5L937.0 790.0L932.3 787.4L927.6 784.8L922.9 782.1L918.3 779.5L913.7 776.9L909.2 774.3L904.6 771.7L899.8 769.3L895.1 767.0L890.6 764.6L886.0 762.0L881.2 759.4L876.4 757.2L872.0 754.7L871.7 755.2L875.6 758.3L879.6 761.9L884.0 765.2L888.4 768.1L892.7 771.0L897.1 774.0L901.5 776.9L905.9 779.7L910.4 782.5L914.8 785.3L919.2 788.2L923.8 791.1L928.5 794.0L933.3 796.8L937.9 799.3L942.5 801.8L947.1 804.2L951.8 806.6L956.6 808.9L961.4 811.3L966.3 813.6L971.3 815.9L976.5 818.2L981.8 820.4L987.2 822.7L992.6 824.8L997.9 826.9L1003.2 828.9L1008.5 830.8L1014.0 832.6L1019.4 834.3L1024.7 835.9L1029.7 837.4L1034.5 838.9L1039.2 840.4L1044.0 842.1L1048.7 843.8L1053.6 845.6L1058.8 847.2L1064.1 848.9L1069.6 850.5L1075.1 852.1L1080.3 853.5L1085.3 854.9L1090.3 856.2L1095.5 857.5L1100.7 858.7L1106.2 859.8L1111.9 860.8L1117.8 861.7L1123.8 862.5L1129.9 863.1L1135.9 863.4L1142.1 863.5L1148.2 863.4L1154.2 863.0L1160.3 862.5L1166.2 861.6L1172.1 860.6L1177.8 859.3L1183.5 857.8L1189.1 856.1L1194.5 854.3L1199.6 852.2L1204.6 850.0L1209.4 847.7L1214.1 845.3L1218.8 842.7L1223.3 840.0L1227.7 837.1L1232.1 834.2L1236.3 831.1L1240.4 827.8L1244.3 824.4L1248.1 820.8L1251.8 817.0L1255.2 813.0L1258.5 808.9L1261.6 804.7L1264.6 800.3L1267.6 795.6L1270.5 790.7L1273.3 785.6L1275.9 780.3L1278.4 774.9L1280.6 769.6L1282.6 764.2L1284.4 758.8L1285.9 753.4L1287.2 747.9L1288.2 742.2L1288.8 736.2L1289.0 730.2L1288.8 724.0L1288.4 717.9L1287.7 711.8L1286.7 705.8L1285.6 699.7L1284.3 693.7L1282.8 688.0L1281.2 682.4L1279.5 677.1L1277.7 672.0L1275.7 666.9L1273.5 661.8L1271.2 656.8L1268.6 651.7L1265.7 646.7L1262.7 641.8L1259.5 637.0L1256.2 632.3L1252.8 627.7L1249.2 623.1L1245.4 618.6L1241.6 614.2L1237.6 609.9L1233.7 605.9L1229.7 601.9L1225.6 598.1L1221.5 594.3L1217.3 590.7L1213.1 587.1L1208.9 583.7L1204.6 580.5L1200.3 577.3L1195.9 574.2L1191.4 571.2L1186.8 568.3L1182.1 565.6L1177.5 562.9L1172.7 560.4L1167.8 557.9L1162.8 555.5L1157.7 553.3L1152.5 551.2L1147.3 549.3L1142.0 547.5L1136.6 545.9L1131.2 544.4L1125.7 543.0L1120.3 541.8L1114.9 540.7L1109.5 539.7L1104.1 538.8L1098.7 538.1L1093.3 537.4L1088.0 536.9L1082.6 536.5L1077.2 536.1L1071.8 535.8L1066.4 535.6L1060.9 535.5L1055.4 535.5L1050.0 535.6L1044.6 535.9L1039.3 536.5L1033.9 537.3L1028.6 538.4L1023.5 539.7L1018.4 541.1L1013.3 542.5L1008.1 544.0L1002.8 545.4L997.3 547.0L991.8 548.6L986.2 550.2L980.7 551.8L975.2 553.4L969.8 554.9L964.5 556.4L959.1 558.0L953.9 559.6L948.7 561.3L943.6 563.1L938.7 565.1L933.9 567.1L929.2 569.3L924.5 571.6L919.9 574.0L915.3 576.4L910.6 579.0L905.9 581.7L901.2 584.5L896.6 587.4L892.0 590.4L887.5 593.4L883.1 596.4L878.9 599.5L874.7 602.6L870.6 605.8L866.6 609.2L862.4 613.0L858.2 617.1L854.0 621.7L850.0 626.4L846.2 631.4L842.9 636.5L839.8 641.7L837.2 646.9L834.8 652.2L832.9 657.5L831.3 662.8L830.1 668.1L829.2 673.4L828.8 678.6L828.9 684.0L829.3 689.4L830.0 695.1L831.2 701.0L833.0 707.1L835.5 712.8L838.5 718.0L842.4 722.1L846.8 725.5Z"/>
<path d="M951.7 564.4L942.2 576.1L936.9 561.7Z"/>
<path d="M1274.2 675.8L1261.2 666.0L1276.6 659.7Z"/>
<path d="M793.5 598.3L797.8 594.6L802.5 591.1L807.2 587.3L811.9 583.5L816.8 580.1L821.7 576.8L826.5 573.5L831.3 570.0L836.0 566.7L840.9 563.5L845.7 560.4L850.4 557.5L855.0 554.8L859.6 552.2L864.1 549.8L868.8 547.4L873.5 545.0L878.4 542.5L883.4 540.0L888.5 537.6L893.7 535.1L899.0 532.7L904.2 530.4L909.4 528.2L914.6 526.1L919.7 524.2L924.9 522.4L930.1 520.6L935.4 518.9L940.7 517.2L946.1 515.6L951.5 514.0L957.0 512.5L962.5 511.0L968.1 509.6L973.6 508.3L979.1 507.0L984.5 505.8L990.0 504.8L995.5 503.8L1001.0 502.9L1006.5 502.0L1012.0 501.3L1017.6 500.7L1023.1 500.2L1028.7 499.8L1034.2 499.6L1039.6 499.6L1044.8 499.8L1050.0 500.1L1055.2 500.6L1060.5 501.2L1065.8 501.8L1071.1 502.4L1076.4 503.0L1081.8 503.5L1087.1 504.0L1092.4 504.5L1097.6 505.0L1102.8 505.5L1108.0 506.1L1113.2 506.9L1118.5 507.7L1123.7 508.5L1128.9 509.5L1134.2 510.6L1139.4 511.7L1144.5 512.9L1149.6 514.1L1154.7 515.5L1159.8 516.9L1164.9 518.5L1169.8 520.0L1174.8 521.7L1179.6 523.4L1184.5 525.2L1189.4 527.1L1194.3 529.0L1199.2 531.1L1203.9 533.3L1208.6 535.5L1213.3 537.8L1217.9 540.3L1222.5 542.8L1227.0 545.4L1231.5 548.2L1235.9 551.0L1240.2 554.0L1244.3 556.9L1248.3 559.9L1252.3 563.0L1256.2 566.1L1260.1 569.4L1264.0 572.7L1268.0 576.2L1272.0 579.8L1276.0 583.6L1280.0 587.5L1283.9 591.5L1287.6 595.4L1291.1 599.5L1294.5 603.5L1297.7 607.6L1300.7 611.8L1303.6 616.0L1306.5 620.3L1309.2 624.8L1311.9 629.4L1314.5 634.2L1316.9 639.0L1319.3 643.9L1321.6 648.9L1323.7 654.0L1325.8 659.2L1327.7 664.6L1329.5 670.1L1331.2 675.6L1332.8 681.3L1334.3 687.1L1335.7 693.1L1337.0 699.0L1338.1 705.0L1339.0 711.1L1339.5 717.1L1339.6 722.7L1339.5 728.2L1339.1 733.7L1338.6 739.3L1338.0 744.9L1337.2 750.4L1336.2 755.9L1335.2 761.3L1333.9 766.7L1332.6 772.1L1331.1 777.5L1329.4 782.9L1327.6 788.3L1325.7 793.7L1323.6 799.0L1321.5 804.3L1319.2 809.6L1316.8 814.8L1314.3 820.0L1311.8 825.0L1309.1 829.9L1306.3 834.5L1303.5 838.9L1300.6 843.2L1297.5 847.3L1294.4 851.2L1291.2 855.0L1287.9 858.6L1284.5 862.1L1281.0 865.4L1277.3 868.7L1273.6 871.8L1269.7 874.8L1265.8 877.8L1261.7 880.7L1257.6 883.4L1253.4 886.1L1249.1 888.6L1244.6 890.9L1240.1 893.1L1235.4 895.1L1230.6 896.9L1225.8 898.7L1221.0 900.3L1216.1 901.7L1211.3 903.0L1206.5 904.1L1201.7 905.1L1196.9 905.9L1192.0 906.6L1186.9 907.1L1181.5 907.5L1175.9 907.7L1170.2 907.7L1164.4 907.5L1158.7 907.1L1153.0 906.5L1147.2 905.8L1141.5 904.9L1135.7 903.9L1129.9 902.8L1124.3 901.6L1118.7 900.5L1113.2 899.3L1107.6 898.0L1102.0 896.7L1096.5 895.5L1091.1 894.2L1085.7 892.9L1080.3 891.7L1075.1 890.4L1069.8 889.2L1064.4 888.0L1058.8 886.7L1053.0 885.4L1047.3 884.0L1041.7 882.7L1036.3 881.3L1031.0 879.9L1025.7 878.5L1020.5 877.0L1015.3 875.6L1010.0 874.1L1004.6 872.6L999.0 870.9L993.6 869.1L988.3 867.2L983.2 865.3L977.9 863.2L972.5 861.1L967.0 858.8L961.5 856.6L956.3 854.4L951.4 852.3L946.7 850.3L942.1 848.2L937.5 846.2L932.9 844.1L928.3 842.0L923.7 839.9L919.1 837.7L914.5 835.5L909.9 833.3L905.3 831.0L900.7 828.7L896.1 826.4L891.5 824.1L886.8 821.7L882.2 819.3L877.5 816.8L872.8 814.3L868.1 811.8L863.3 809.2L858.7 806.7L854.2 804.1L849.6 801.5L845.1 798.8L840.4 796.0L835.8 793.0L831.2 790.1L826.8 787.1L822.5 784.0L818.2 780.9L814.0 777.7L809.9 774.4L805.9 771.1L802.0 767.7L798.2 764.3L794.4 760.6L790.5 756.8L786.8 752.9L783.1 748.9L779.6 744.7L776.0 740.2L772.5 735.3L769.0 730.2L765.9 725.3L763.3 720.8L761.2 716.3L759.7 711.7L758.5 706.7L757.6 701.4L757.1 696.2L757.1 691.1L757.3 686.1L757.8 681.1L758.8 675.8L759.9 670.2L761.2 664.4L763.0 658.8L765.0 653.5L767.2 648.4L769.7 643.4L772.2 638.4L774.4 633.4L776.9 628.8L776.5 628.5L773.2 632.5L769.4 636.6L766.0 641.2L763.0 646.2L760.1 651.2L757.5 656.6L755.2 662.4L753.0 668.3L751.3 674.2L750.2 679.9L749.5 685.4L749.1 690.9L749.1 696.5L749.5 702.3L750.3 708.2L751.4 713.9L753.2 719.4L755.6 724.7L758.5 729.8L761.8 735.0L765.3 740.3L769.1 745.4L772.8 750.2L776.5 754.6L780.3 758.9L784.3 763.0L788.2 766.9L792.2 770.7L796.2 774.3L800.2 777.8L804.4 781.2L808.6 784.6L812.9 787.9L817.3 791.2L821.7 794.3L826.3 797.4L831.0 800.5L835.8 803.5L840.5 806.4L845.2 809.2L849.7 811.9L854.4 814.5L859.1 817.1L863.8 819.6L868.6 822.2L873.3 824.7L878.1 827.2L882.7 829.7L887.4 832.1L892.0 834.4L896.7 836.8L901.3 839.1L905.9 841.4L910.6 843.6L915.2 845.8L919.8 848.0L924.5 850.2L929.1 852.3L933.8 854.4L938.4 856.5L943.1 858.6L947.8 860.6L952.8 862.8L958.1 865.0L963.5 867.2L969.1 869.5L974.6 871.7L979.9 873.8L985.2 875.8L990.6 877.7L996.3 879.6L1002.0 881.3L1007.5 882.9L1012.8 884.4L1018.0 885.9L1023.3 887.3L1028.6 888.8L1034.0 890.2L1039.5 891.6L1045.1 893.0L1050.9 894.3L1056.7 895.7L1062.3 897.0L1067.7 898.2L1072.9 899.5L1078.2 900.7L1083.5 902.0L1089.0 903.3L1094.4 904.5L1099.9 905.8L1105.5 907.1L1111.1 908.4L1116.8 909.6L1122.4 910.8L1128.1 912.0L1134.0 913.1L1139.9 914.2L1145.9 915.1L1151.9 915.9L1157.9 916.5L1163.9 916.9L1170.0 917.1L1176.0 917.2L1181.9 917.0L1187.7 916.6L1193.1 916.0L1198.3 915.3L1203.5 914.5L1208.5 913.4L1213.6 912.3L1218.7 910.9L1223.8 909.4L1228.9 907.8L1234.0 905.9L1239.1 904.0L1244.1 901.8L1248.9 899.5L1253.7 897.0L1258.3 894.4L1262.8 891.6L1267.2 888.6L1271.5 885.6L1275.6 882.5L1279.7 879.3L1283.7 876.0L1287.5 872.6L1291.3 869.1L1295.0 865.4L1298.5 861.5L1302.0 857.4L1305.3 853.2L1308.5 848.9L1311.7 844.3L1314.7 839.7L1317.6 834.8L1320.4 829.7L1323.1 824.4L1325.7 819.0L1328.2 813.6L1330.6 808.2L1332.8 802.7L1335.0 797.1L1337.0 791.5L1338.8 785.9L1340.5 780.3L1342.1 774.6L1343.5 769.0L1344.8 763.4L1345.9 757.7L1346.9 752.0L1347.7 746.2L1348.4 740.4L1348.9 734.5L1349.3 728.6L1349.4 722.7L1349.3 716.5L1348.7 710.0L1347.8 703.5L1346.6 697.1L1345.3 690.9L1343.8 684.8L1342.2 678.7L1340.5 672.9L1338.8 667.1L1336.9 661.5L1334.9 655.8L1332.7 650.3L1330.5 645.0L1328.1 639.8L1325.6 634.7L1323.0 629.6L1320.3 624.7L1317.5 619.8L1314.7 615.1L1311.7 610.6L1308.6 606.1L1305.4 601.8L1302.0 597.4L1298.4 593.2L1294.7 589.0L1290.8 584.8L1286.8 580.7L1282.7 576.7L1278.5 572.7L1274.4 569.0L1270.3 565.4L1266.3 562.0L1262.3 558.7L1258.3 555.4L1254.1 552.2L1250.0 549.1L1245.7 546.1L1241.2 543.0L1236.6 540.1L1231.9 537.2L1227.2 534.5L1222.5 531.8L1217.7 529.3L1212.8 526.9L1208.0 524.6L1203.0 522.4L1198.0 520.2L1192.9 518.2L1187.9 516.2L1182.8 514.4L1177.8 512.7L1172.8 511.0L1167.7 509.4L1162.5 507.8L1157.3 506.3L1152.0 504.9L1146.7 503.6L1141.4 502.4L1136.1 501.2L1130.7 500.2L1125.3 499.2L1120.0 498.3L1114.6 497.5L1109.2 496.7L1103.9 496.1L1098.5 495.6L1093.2 495.1L1087.9 494.6L1082.7 494.1L1077.4 493.6L1072.2 493.0L1066.9 492.4L1061.5 491.8L1056.2 491.2L1050.8 490.7L1045.3 490.3L1039.7 490.2L1034.0 490.2L1028.1 490.5L1022.3 490.9L1016.6 491.5L1010.9 492.2L1005.2 493.0L999.5 493.9L993.9 494.9L988.3 495.9L982.7 497.1L977.1 498.4L971.5 499.7L965.9 501.1L960.3 502.5L954.7 504.1L949.1 505.7L943.6 507.4L938.1 509.1L932.7 510.8L927.4 512.6L922.1 514.5L916.9 516.4L911.6 518.4L906.3 520.6L900.9 522.8L895.6 525.3L890.3 527.8L885.0 530.3L879.9 532.9L874.8 535.4L869.9 537.9L865.1 540.3L860.4 542.8L855.8 545.4L851.1 548.0L846.4 550.9L841.5 554.0L836.7 557.4L831.9 560.9L827.2 564.4L822.4 568.0L817.8 571.8L813.4 575.9L809.0 580.2L804.6 584.4L800.4 588.9L796.8 593.7L793.2 598.0Z"/>
<path d="M1193.4 523.4L1177.4 526.3L1183.2 510.7Z"/>
<path d="M1318.0 824.0L1316.3 807.5L1331.7 814.7Z"/>
<path d="M985.0 871.0L1000.6 867.7L995.3 883.1Z"/>
<path d="M800.9 721.6L798.7 719.2L797.0 716.3L795.7 712.3L795.2 707.3L795.1 701.7L794.9 696.1L794.8 690.5L795.1 685.1L795.8 679.8L796.7 674.5L797.7 669.2L799.1 663.8L800.8 658.6L802.8 653.4L805.1 648.3L807.6 643.3L810.4 638.4L813.5 633.7L816.7 629.0L820.2 624.5L823.9 620.1L827.9 615.7L832.1 611.5L836.4 607.4L840.9 603.5L845.3 599.8L849.6 596.5L853.7 593.3L857.9 590.3L862.1 587.3L866.6 584.2L871.3 580.9L876.4 577.6L881.3 574.5L886.1 571.7L890.7 569.1L895.3 566.6L900.1 564.1L904.8 561.6L909.6 559.2L914.2 556.9L918.8 554.7L923.4 552.5L928.0 550.4L932.7 548.3L937.7 546.3L942.9 544.3L948.4 542.4L953.9 540.5L959.5 538.8L965.2 537.2L971.0 535.6L976.8 534.1L982.6 532.9L987.8 530.6L993.0 528.4L992.8 527.4L987.3 526.8L981.4 526.2L975.5 527.2L969.3 528.2L963.2 529.6L957.3 531.3L951.5 533.0L945.8 534.9L940.2 536.9L934.8 539.0L929.7 541.0L924.8 543.2L920.1 545.3L915.4 547.6L910.7 549.8L906.0 552.2L901.3 554.6L896.4 557.1L891.6 559.6L886.9 562.2L882.1 564.9L877.2 567.8L872.1 571.0L867.0 574.4L862.1 577.7L857.6 580.9L853.3 583.9L849.1 587.0L844.8 590.2L840.4 593.7L835.8 597.5L831.1 601.6L826.6 605.9L822.2 610.3L818.0 614.9L814.1 619.6L810.4 624.4L806.9 629.3L803.7 634.4L800.7 639.6L798.0 644.9L795.5 650.3L793.4 655.9L791.6 661.6L790.1 667.4L788.9 673.2L788.3 679.0L788.2 684.8L788.4 690.6L788.8 696.5L789.7 702.4L791.2 708.0L793.2 713.1L795.3 717.2L797.9 720.0L800.6 721.8Z"/>
<path d="M870.2 577.0L863.9 590.6L855.2 578.0Z"/>
<path d="M706.7 674.6L707.9 669.6L709.2 664.3L710.7 658.7L712.4 653.1L714.2 647.7L716.2 642.6L718.3 637.6L720.4 632.8L722.6 628.1L724.8 623.5L727.2 619.0L729.8 614.5L732.6 609.9L735.7 605.4L738.9 600.9L742.3 596.5L745.8 592.3L749.3 588.2L753.1 584.1L757.0 580.0L761.2 575.9L765.6 571.9L770.2 567.9L774.7 564.1L779.1 560.5L783.5 557.1L787.9 553.8L792.3 550.6L796.7 547.5L801.0 544.5L805.3 541.7L809.6 538.9L813.9 536.2L818.3 533.4L822.8 530.6L827.2 527.9L831.7 525.1L836.3 522.4L840.9 519.6L845.5 516.9L850.1 514.3L854.6 511.7L859.1 509.3L863.6 506.8L868.1 504.4L872.6 502.1L877.2 499.8L881.9 497.5L886.8 495.3L891.9 493.1L897.0 491.0L902.2 488.9L907.4 486.9L912.4 484.9L917.3 483.1L922.0 481.3L926.7 479.5L931.4 477.8L936.2 476.1L941.0 474.5L946.0 472.9L951.0 471.3L956.1 469.8L961.4 468.3L966.6 466.8L971.9 465.4L977.3 464.1L982.6 462.9L988.0 461.7L993.5 460.6L998.9 459.6L1004.3 458.7L1009.6 457.8L1014.7 457.1L1019.7 456.3L1024.7 455.7L1029.6 455.2L1034.5 454.9L1039.4 454.8L1044.2 454.8L1049.0 455.0L1054.0 455.4L1059.3 455.8L1064.8 456.2L1070.4 456.8L1076.0 457.3L1081.3 457.8L1086.6 458.3L1091.9 458.8L1097.3 459.3L1102.8 459.8L1108.3 460.4L1113.6 461.0L1118.7 461.6L1123.8 462.3L1128.9 463.1L1134.1 464.0L1139.3 465.0L1144.3 466.1L1149.2 467.3L1154.1 468.7L1159.1 470.1L1164.2 471.7L1169.3 473.3L1174.6 475.0L1179.8 476.9L1185.1 478.8L1190.3 480.8L1195.4 482.9L1200.3 485.0L1205.0 487.1L1209.6 489.3L1214.3 491.5L1218.9 493.9L1223.4 496.3L1228.0 498.8L1232.6 501.4L1237.3 504.2L1242.1 507.2L1246.8 510.2L1251.5 513.3L1256.2 516.6L1260.7 519.8L1265.2 523.2L1269.6 526.6L1273.9 530.1L1278.2 533.7L1282.4 537.4L1286.5 541.1L1290.5 544.9L1294.4 548.8L1298.3 552.7L1302.1 556.8L1305.9 560.9L1309.5 565.1L1313.1 569.4L1316.6 573.7L1320.1 578.0L1323.5 582.4L1326.8 586.8L1330.0 591.2L1333.2 595.7L1336.2 600.1L1339.2 604.6L1342.0 609.0L1344.7 613.5L1347.3 617.9L1349.7 622.4L1352.1 626.8L1354.3 631.2L1356.5 635.8L1358.6 640.5L1360.7 645.4L1362.7 650.5L1364.6 655.7L1366.3 660.9L1367.9 666.1L1369.4 671.4L1370.8 676.9L1372.1 682.4L1373.1 687.9L1374.1 693.2L1374.9 698.5L1375.5 703.6L1376.1 708.5L1376.5 713.4L1376.7 718.2L1376.9 723.1L1376.9 728.0L1376.8 732.9L1376.6 737.9L1376.2 743.0L1375.8 748.0L1375.2 753.2L1374.5 758.4L1373.7 763.7L1372.7 769.0L1371.6 774.4L1370.3 779.8L1368.9 785.2L1367.3 790.5L1365.8 795.5L1364.1 800.5L1362.3 805.3L1360.4 810.2L1358.4 815.1L1356.2 820.0L1353.8 824.9L1351.3 829.8L1348.7 834.6L1345.8 839.4L1342.9 844.2L1339.8 848.8L1336.5 853.2L1333.1 857.6L1329.5 861.9L1325.8 866.0L1322.0 870.1L1318.0 874.1L1314.0 878.0L1309.9 881.8L1305.6 885.5L1301.4 889.0L1297.0 892.5L1292.6 895.7L1288.2 898.8L1283.7 901.7L1279.2 904.5L1274.6 907.1L1269.9 909.7L1265.0 912.1L1259.9 914.5L1254.6 916.7L1249.3 918.8L1243.9 920.8L1238.6 922.6L1233.5 924.3L1228.6 925.8L1223.7 927.3L1218.8 928.6L1213.8 929.7L1208.6 930.9L1203.2 931.8L1197.5 932.7L1191.8 933.4L1186.0 933.9L1180.2 934.2L1174.5 934.4L1168.7 934.3L1162.9 934.2L1157.0 933.9L1151.2 933.4L1145.4 932.9L1139.5 932.3L1133.7 931.6L1128.1 930.8L1122.6 929.8L1117.5 928.8L1112.5 927.7L1107.6 926.4L1102.7 925.2L1097.7 923.9L1092.7 922.6L1087.7 921.3L1082.7 920.0L1077.6 918.8L1072.7 917.5L1067.8 916.3L1063.0 915.1L1058.0 913.8L1052.9 912.5L1047.5 911.2L1041.9 910.0L1036.5 908.8L1031.1 907.8L1025.7 906.8L1020.0 905.8L1014.2 904.8L1008.4 903.7L1002.7 902.6L997.2 901.5L991.8 900.2L986.3 898.9L981.0 897.4L975.8 895.9L970.6 894.4L965.6 892.7L960.5 891.1L955.3 889.4L950.1 887.7L944.9 886.0L939.6 884.2L934.4 882.4L929.2 880.5L924.1 878.6L919.1 876.7L914.3 874.7L909.6 872.7L905.0 870.7L900.4 868.7L895.8 866.6L891.2 864.4L886.6 862.3L882.0 860.1L877.4 857.9L872.8 855.7L868.2 853.5L863.6 851.2L859.0 848.9L854.4 846.6L849.8 844.1L845.2 841.6L840.6 839.1L835.9 836.4L831.2 833.6L826.6 830.8L821.9 828.0L817.4 825.2L812.9 822.4L808.4 819.6L804.0 816.7L799.5 813.8L795.2 811.0L791.0 808.1L786.9 805.3L782.8 802.4L778.6 799.3L774.3 796.0L769.9 792.6L765.6 789.1L761.4 785.5L757.5 781.9L753.7 778.4L750.1 774.8L746.6 771.3L743.1 767.7L739.8 763.9L736.6 760.0L733.4 755.9L730.1 751.8L727.0 747.6L724.0 743.2L721.4 738.5L718.7 733.6L715.9 728.7L713.4 724.2L711.4 719.8L710.9 719.9L712.3 724.6L713.7 729.7L715.3 735.1L717.5 740.4L720.1 745.4L722.7 750.2L725.5 755.0L728.5 759.5L731.6 763.9L734.9 768.0L738.2 772.0L741.5 775.9L744.9 779.8L748.5 783.6L752.3 787.4L756.4 791.2L760.6 794.9L764.9 798.7L769.4 802.3L773.8 805.7L778.0 808.9L782.1 811.9L786.3 814.9L790.5 817.9L794.9 820.8L799.3 823.8L803.8 826.7L808.3 829.6L812.9 832.5L817.5 835.3L822.2 838.1L826.9 841.0L831.7 843.8L836.4 846.5L841.1 849.1L845.8 851.7L850.5 854.1L855.2 856.5L859.8 858.8L864.5 861.1L869.1 863.4L873.7 865.6L878.4 867.8L883.0 870.0L887.6 872.2L892.2 874.3L896.9 876.5L901.5 878.6L906.2 880.6L911.0 882.6L915.9 884.6L921.0 886.6L926.2 888.6L931.5 890.5L936.9 892.3L942.2 894.1L947.4 895.9L952.7 897.6L957.8 899.3L963.0 900.9L968.1 902.6L973.3 904.2L978.7 905.7L984.2 907.2L989.8 908.6L995.4 909.9L1001.0 911.0L1006.8 912.2L1012.7 913.3L1018.5 914.3L1024.1 915.3L1029.5 916.3L1034.8 917.3L1040.1 918.4L1045.5 919.6L1050.8 920.9L1055.9 922.2L1060.8 923.5L1065.7 924.7L1070.6 925.9L1075.5 927.2L1080.6 928.5L1085.6 929.7L1090.6 931.0L1095.5 932.3L1100.5 933.6L1105.4 934.9L1110.5 936.1L1115.6 937.3L1121.0 938.4L1126.7 939.4L1132.6 940.2L1138.5 941.0L1144.5 941.6L1150.5 942.1L1156.5 942.6L1162.5 942.9L1168.5 943.1L1174.6 943.1L1180.6 942.9L1186.7 942.6L1192.7 942.0L1198.7 941.2L1204.6 940.3L1210.3 939.2L1215.7 938.0L1220.9 936.7L1226.0 935.3L1231.0 933.8L1236.1 932.2L1241.3 930.5L1246.7 928.6L1252.2 926.5L1257.8 924.2L1263.2 921.8L1268.5 919.3L1273.6 916.8L1278.5 914.1L1283.2 911.3L1287.9 908.4L1292.6 905.3L1297.2 902.1L1301.8 898.7L1306.3 895.1L1310.7 891.4L1315.0 887.5L1319.3 883.6L1323.4 879.5L1327.5 875.4L1331.4 871.1L1335.2 866.8L1338.9 862.3L1342.5 857.7L1345.9 853.0L1349.1 848.2L1352.2 843.2L1355.1 838.2L1357.8 833.1L1360.3 828.1L1362.8 823.0L1365.0 817.9L1367.1 812.9L1369.0 807.8L1370.8 802.8L1372.5 797.7L1374.1 792.5L1375.6 787.0L1377.0 781.5L1378.3 775.9L1379.4 770.3L1380.4 764.8L1381.2 759.3L1381.9 753.9L1382.4 748.6L1382.8 743.4L1383.1 738.3L1383.3 733.1L1383.3 728.0L1383.2 722.9L1383.0 717.9L1382.8 713.0L1382.4 708.0L1381.8 702.8L1381.1 697.6L1380.3 692.2L1379.4 686.7L1378.3 681.1L1377.0 675.4L1375.6 669.8L1374.0 664.3L1372.4 658.9L1370.6 653.6L1368.6 648.3L1366.6 643.0L1364.5 637.9L1362.3 633.1L1360.1 628.4L1357.8 623.8L1355.4 619.3L1352.8 614.8L1350.2 610.2L1347.5 605.7L1344.6 601.1L1341.6 596.5L1338.5 592.0L1335.3 587.4L1332.0 582.9L1328.6 578.4L1325.2 574.0L1321.6 569.6L1318.1 565.2L1314.4 560.9L1310.7 556.6L1306.9 552.4L1303.0 548.3L1299.0 544.2L1295.0 540.2L1290.9 536.3L1286.7 532.5L1282.4 528.8L1278.1 525.1L1273.7 521.5L1269.2 518.0L1264.6 514.6L1259.9 511.2L1255.2 508.0L1250.4 504.8L1245.6 501.6L1240.7 498.6L1235.9 495.8L1231.2 493.1L1226.5 490.5L1221.9 488.1L1217.2 485.7L1212.5 483.4L1207.7 481.1L1202.9 479.0L1197.9 476.8L1192.8 474.7L1187.4 472.6L1182.1 470.7L1176.7 468.8L1171.4 467.1L1166.1 465.4L1161.0 463.8L1155.9 462.3L1150.9 461.0L1145.9 459.7L1140.7 458.5L1135.4 457.5L1130.0 456.5L1124.7 455.7L1119.6 455.0L1114.3 454.4L1109.0 453.8L1103.5 453.2L1098.0 452.7L1092.5 452.1L1087.2 451.6L1081.9 451.1L1076.6 450.6L1071.0 450.1L1065.4 449.6L1059.8 449.1L1054.5 448.7L1049.4 448.4L1044.4 448.2L1039.4 448.1L1034.3 448.2L1029.1 448.5L1023.9 449.1L1018.8 449.8L1013.7 450.5L1008.5 451.3L1003.3 452.2L997.8 453.1L992.2 454.1L986.7 455.2L981.2 456.4L975.7 457.7L970.3 459.0L964.9 460.5L959.6 461.9L954.3 463.5L949.1 465.0L944.0 466.6L939.0 468.3L934.0 469.9L929.2 471.6L924.4 473.4L919.7 475.2L914.9 477.0L910.0 478.8L905.0 480.8L899.8 482.9L894.6 485.0L889.3 487.1L884.2 489.4L879.2 491.7L874.3 494.0L869.7 496.3L865.1 498.7L860.5 501.2L856.0 503.6L851.5 506.1L846.9 508.7L842.3 511.3L837.6 514.1L833.0 516.9L828.4 519.6L823.9 522.4L819.4 525.2L814.9 528.0L810.5 530.8L806.1 533.5L801.8 536.4L797.5 539.2L793.1 542.2L788.6 545.4L784.1 548.7L779.6 552.0L775.2 555.5L770.6 559.2L766.0 563.1L761.4 567.2L756.9 571.4L752.6 575.6L748.5 579.8L744.6 584.0L740.9 588.3L737.4 592.7L733.9 597.2L730.6 601.8L727.4 606.5L724.5 611.3L721.8 616.0L719.3 620.7L717.0 625.4L714.8 630.2L712.6 635.2L710.4 640.3L708.4 645.6L706.5 651.2L704.8 657.0L703.3 662.8L701.9 668.1L700.8 673.2Z"/>
<path d="M759.4 573.2L756.0 586.5L746.1 576.6Z"/>
<path d="M1136.0 460.9L1122.9 466.0L1125.3 451.9Z"/>
<path d="M1379.5 744.7L1373.0 732.4L1387.2 733.1Z"/>
<path d="M770.5 798.2L785.5 799.9L776.2 812.2Z"/>
<path d="M656.1 722.0L655.9 717.4L655.7 712.4L655.7 706.8L655.8 700.8L655.9 694.8L656.0 689.1L656.4 683.6L657.0 678.3L657.8 673.2L658.8 668.1L659.9 662.9L661.0 657.8L662.2 652.6L663.6 647.4L665.0 642.2L666.6 637.0L668.3 631.9L670.2 626.8L672.3 621.8L674.6 616.8L677.0 611.8L679.5 607.0L682.2 602.1L685.0 597.3L687.9 592.5L691.1 587.7L694.4 583.0L697.7 578.4L701.2 573.9L704.7 569.6L708.4 565.4L712.1 561.3L715.8 557.5L719.5 553.9L723.4 550.5L727.4 547.3L731.5 544.2L735.5 541.0L739.5 537.7L743.5 534.5L747.6 531.1L751.7 527.9L755.9 524.7L760.3 521.7L764.7 518.8L769.1 516.0L773.6 513.1L778.0 510.1L782.4 506.8L786.9 503.0L791.4 499.2L795.9 495.5L800.5 492.1L805.2 489.0L810.1 485.9L815.2 483.0L820.3 480.0L825.4 477.2L830.4 474.5L835.3 471.9L840.2 469.4L845.1 467.0L850.0 464.7L854.9 462.5L859.7 460.3L864.5 458.3L869.3 456.3L874.1 454.4L879.1 452.5L884.2 450.7L889.3 448.9L894.4 447.2L899.7 445.5L905.0 443.8L910.4 442.1L915.7 440.5L921.1 438.8L926.4 437.3L931.7 435.7L936.9 434.2L942.2 432.7L947.5 431.3L952.7 429.9L958.0 428.6L963.2 427.3L968.5 426.2L973.7 425.1L979.0 424.0L984.2 423.0L989.5 422.1L994.8 421.2L1000.1 420.4L1005.4 419.6L1010.7 418.8L1016.0 418.2L1021.2 417.6L1026.4 417.2L1031.8 416.9L1037.3 416.9L1042.9 416.9L1048.4 417.2L1053.8 417.5L1059.0 417.9L1064.2 418.4L1069.4 419.0L1074.4 419.6L1079.1 420.2L1083.6 420.7L1088.2 421.2L1093.1 421.8L1098.2 422.5L1103.1 423.2L1107.7 424.0L1112.4 424.7L1117.2 425.6L1122.4 426.5L1127.6 427.4L1133.0 428.4L1138.4 429.4L1143.7 430.4L1149.0 431.4L1154.1 432.5L1159.3 433.6L1164.5 434.7L1169.6 435.8L1174.7 436.9L1179.8 438.1L1184.9 439.3L1190.0 440.7L1195.1 442.1L1200.1 443.7L1205.1 445.3L1209.9 446.9L1214.6 448.6L1219.2 450.4L1223.9 452.2L1228.6 454.2L1233.3 456.1L1238.0 458.2L1242.7 460.3L1247.2 462.5L1251.8 464.7L1256.2 466.9L1260.6 469.3L1265.0 471.8L1269.4 474.4L1273.8 477.1L1278.1 479.8L1282.4 482.6L1286.5 485.5L1290.6 488.4L1294.7 491.4L1298.6 494.3L1302.5 497.4L1306.4 500.5L1310.4 503.7L1314.3 507.1L1318.2 510.5L1322.0 514.0L1325.7 517.5L1329.3 521.0L1332.9 524.6L1336.3 528.1L1339.8 531.8L1343.3 535.6L1347.0 539.6L1350.6 543.9L1354.3 548.1L1357.8 552.5L1361.1 556.8L1364.3 561.2L1367.4 565.5L1370.3 569.9L1373.1 574.3L1375.8 578.7L1378.3 583.1L1380.6 587.6L1382.8 592.1L1384.9 596.7L1386.7 601.4L1388.4 606.2L1389.8 611.1L1391.0 616.0L1392.0 621.1L1392.9 626.4L1393.7 631.6L1394.5 636.9L1395.3 642.1L1396.1 647.4L1397.1 652.7L1398.2 658.1L1399.4 663.6L1400.7 669.0L1401.9 674.2L1403.1 679.4L1404.2 684.5L1405.2 689.8L1406.0 695.4L1406.8 701.2L1407.6 707.0L1408.3 712.7L1409.1 718.4L1410.0 724.0L1411.0 729.6L1411.9 735.1L1412.6 740.5L1413.0 745.8L1413.1 751.2L1412.8 756.6L1412.2 762.1L1411.5 767.5L1410.7 773.1L1409.8 778.6L1408.8 784.1L1407.7 789.6L1406.5 795.0L1405.1 800.4L1403.6 805.8L1402.1 811.1L1400.5 816.4L1398.8 821.7L1396.8 827.0L1394.7 832.4L1392.7 837.8L1391.0 842.8L1389.1 847.3L1389.3 847.4L1391.6 843.0L1394.2 838.4L1396.9 833.4L1399.4 828.1L1401.7 822.8L1403.9 817.6L1406.1 812.5L1408.1 807.2L1409.9 801.8L1411.3 796.2L1412.6 790.7L1413.7 785.1L1414.7 779.4L1415.6 773.8L1416.5 768.2L1417.2 762.6L1417.8 757.0L1418.1 751.3L1418.0 745.6L1417.6 740.0L1416.9 734.3L1415.9 728.8L1414.9 723.2L1414.0 717.6L1413.2 712.0L1412.5 706.3L1411.8 700.5L1411.0 694.7L1410.1 689.0L1409.1 683.5L1408.0 678.3L1406.8 673.1L1405.6 667.9L1404.3 662.5L1403.1 657.0L1402.0 651.7L1401.1 646.5L1400.2 641.4L1399.4 636.2L1398.6 630.9L1397.8 625.6L1396.9 620.2L1395.8 615.0L1394.6 609.8L1393.1 604.7L1391.4 599.7L1389.5 594.8L1387.4 590.0L1385.1 585.3L1382.7 580.7L1380.1 576.2L1377.4 571.7L1374.5 567.2L1371.5 562.7L1368.4 558.2L1365.1 553.8L1361.7 549.4L1358.1 545.0L1354.4 540.6L1350.7 536.3L1347.0 532.2L1343.4 528.4L1339.9 524.7L1336.4 521.1L1332.8 517.5L1329.2 513.9L1325.4 510.3L1321.5 506.8L1317.6 503.3L1313.6 499.9L1309.6 496.6L1305.6 493.4L1301.6 490.4L1297.6 487.3L1293.6 484.4L1289.4 481.4L1285.2 478.5L1280.9 475.6L1276.5 472.8L1272.0 470.1L1267.5 467.5L1263.0 464.9L1258.5 462.5L1254.0 460.2L1249.4 458.0L1244.8 455.8L1240.1 453.6L1235.3 451.6L1230.5 449.5L1225.8 447.6L1221.0 445.7L1216.3 443.9L1211.6 442.2L1206.7 440.5L1201.6 438.9L1196.5 437.3L1191.3 435.8L1186.1 434.5L1180.9 433.2L1175.8 432.0L1170.7 430.9L1165.5 429.8L1160.3 428.7L1155.1 427.6L1149.9 426.5L1144.7 425.5L1139.3 424.5L1133.9 423.4L1128.5 422.5L1123.2 421.5L1118.1 420.6L1113.2 419.8L1108.5 419.0L1103.8 418.3L1098.9 417.6L1093.8 416.9L1088.8 416.3L1084.2 415.8L1079.7 415.2L1075.0 414.6L1070.0 414.0L1064.7 413.4L1059.5 412.9L1054.1 412.5L1048.7 412.2L1043.0 411.9L1037.3 411.9L1031.6 411.9L1026.1 412.2L1020.7 412.6L1015.4 413.2L1010.0 413.9L1004.7 414.6L999.3 415.4L993.9 416.3L988.6 417.1L983.3 418.1L978.0 419.1L972.7 420.2L967.4 421.3L962.1 422.5L956.8 423.7L951.5 425.0L946.2 426.4L940.9 427.9L935.6 429.4L930.3 430.9L925.0 432.5L919.6 434.1L914.3 435.7L908.9 437.3L903.5 439.0L898.1 440.7L892.8 442.5L887.6 444.2L882.5 446.0L877.4 447.9L872.3 449.8L867.4 451.7L862.5 453.7L857.7 455.7L852.8 457.9L847.9 460.2L843.0 462.5L838.0 464.9L833.0 467.5L828.1 470.1L823.0 472.8L817.9 475.7L812.7 478.6L807.5 481.7L802.5 484.8L797.6 488.0L792.9 491.5L788.2 495.3L783.7 499.2L779.3 502.8L775.1 506.1L770.8 509.0L766.4 511.8L761.9 514.6L757.5 517.6L753.0 520.7L748.7 523.9L744.5 527.2L740.4 530.6L736.4 533.9L732.4 537.1L728.4 540.2L724.3 543.4L720.2 546.7L716.2 550.2L712.3 553.9L708.4 557.9L704.6 562.0L700.9 566.3L697.3 570.8L693.7 575.4L690.3 580.0L686.9 584.9L683.7 589.8L680.7 594.7L677.8 599.7L675.1 604.6L672.5 609.6L670.0 614.6L667.7 619.8L665.6 625.0L663.6 630.2L661.8 635.5L660.2 640.8L658.7 646.1L657.4 651.4L656.1 656.7L655.1 662.0L654.2 667.2L653.4 672.5L652.9 677.9L652.5 683.3L652.2 689.0L652.4 694.9L652.9 701.0L653.7 706.9L654.6 712.5L655.3 717.5L655.9 722.0Z"/>
<path d="M738.7 535.3L734.2 547.2L726.1 537.0Z"/>
<path d="M1070.5 416.5L1058.9 421.9L1060.2 408.9Z"/>
<path d="M1400.7 658.1L1392.3 648.6L1405.0 646.1Z"/>
<path d="M645.9 598.4L648.7 595.0L651.8 591.4L655.3 587.3L658.9 583.1L662.5 578.9L666.0 574.9L669.4 571.1L672.9 567.4L676.4 563.7L679.9 560.0L683.6 556.1L687.5 552.2L691.5 548.3L695.6 544.3L699.8 540.3L703.9 536.3L708.0 532.2L712.1 528.1L716.2 524.1L720.4 520.0L724.6 516.0L728.9 511.9L733.4 507.8L738.0 503.9L742.7 500.1L747.5 496.4L752.4 492.9L757.3 489.5L762.1 486.3L766.9 483.2L771.7 480.1L776.4 477.1L780.9 474.1L785.4 471.1L789.8 468.0L794.2 464.8L798.6 461.8L803.0 459.0L807.3 456.4L811.6 453.9L816.0 451.6L820.5 449.3L825.3 446.8L830.3 444.2L835.4 441.3L840.5 438.4L845.3 435.6L849.7 433.1L853.4 431.1L856.2 429.6L858.4 428.4L858.3 428.2L856.0 429.2L853.1 430.5L849.3 432.3L844.7 434.3L839.5 436.5L834.1 438.8L828.7 441.2L823.7 443.6L818.9 446.1L814.3 448.4L809.9 450.8L805.5 453.2L801.1 455.9L796.6 458.8L792.1 461.9L787.7 465.0L783.3 468.1L778.9 471.1L774.4 474.1L769.7 477.1L764.9 480.1L760.1 483.3L755.2 486.6L750.3 490.0L745.3 493.5L740.5 497.3L735.7 501.2L731.1 505.3L726.6 509.4L722.3 513.6L718.1 517.7L714.0 521.8L709.9 526.0L705.9 530.1L701.8 534.2L697.8 538.3L693.8 542.4L689.8 546.5L685.9 550.6L682.0 554.6L678.4 558.5L674.8 562.3L671.4 566.0L668.0 569.8L664.6 573.7L661.2 577.7L657.6 582.0L654.1 586.4L650.8 590.6L647.9 594.4L645.2 597.8Z"/>
<path d="M745.9 495.3L741.7 506.1L734.4 496.8Z"/>
<path d="M811.1 432.1L814.9 430.5L819.1 428.9L823.8 427.1L828.9 425.1L834.2 423.1L839.3 421.1L844.4 419.0L849.4 417.1L854.4 415.2L859.4 413.4L864.4 411.5L869.5 409.5L874.6 407.4L879.8 405.4L885.0 403.3L890.2 401.4L895.5 399.6L900.7 397.9L906.0 396.4L911.4 395.0L916.9 393.5L922.4 392.0L927.9 390.4L933.4 388.8L938.8 387.1L944.2 385.4L949.6 383.7L954.9 381.9L960.1 380.2L965.3 378.6L970.4 377.0L975.4 375.4L980.3 373.9L985.1 372.5L989.9 371.1L994.7 369.8L999.6 368.6L1004.5 367.4L1009.4 366.2L1014.4 365.2L1019.4 364.1L1024.7 363.1L1030.3 362.1L1036.1 361.1L1041.9 360.2L1047.7 359.5L1053.4 358.9L1059.0 358.6L1064.5 358.4L1069.8 358.4L1074.9 358.6L1079.8 359.0L1084.5 359.6L1089.2 360.4L1094.1 361.3L1098.9 362.0L1103.6 362.6L1108.1 363.0L1112.6 363.4L1117.4 363.7L1122.5 364.2L1127.9 364.8L1133.5 365.5L1138.9 366.4L1144.1 367.4L1149.1 368.4L1154.2 369.5L1159.4 370.8L1164.8 372.0L1170.3 373.4L1175.9 374.8L1181.4 376.2L1186.8 377.6L1192.1 379.1L1197.1 380.5L1202.1 381.9L1207.3 383.5L1212.7 385.2L1218.3 387.0L1223.7 388.9L1228.8 390.7L1233.6 392.5L1238.2 394.2L1243.0 396.0L1248.2 398.0L1254.0 400.0L1259.8 401.9L1265.2 403.6L1270.1 405.2L1270.2 405.0L1265.4 403.2L1260.1 401.1L1254.4 398.8L1248.7 396.6L1243.5 394.6L1238.8 392.6L1234.3 390.7L1229.6 388.7L1224.5 386.6L1219.1 384.6L1213.6 382.6L1208.1 380.8L1202.9 379.2L1197.9 377.8L1192.8 376.4L1187.5 375.0L1182.1 373.6L1176.6 372.1L1171.0 370.7L1165.5 369.4L1160.0 368.1L1154.8 366.8L1149.7 365.7L1144.6 364.7L1139.4 363.7L1133.9 362.8L1128.2 362.0L1122.8 361.4L1117.6 361.0L1112.8 360.6L1108.3 360.3L1103.9 359.9L1099.3 359.3L1094.5 358.5L1089.7 357.7L1084.9 356.9L1080.1 356.3L1075.0 355.8L1069.8 355.6L1064.4 355.6L1058.9 355.8L1053.2 356.2L1047.4 356.7L1041.6 357.5L1035.6 358.4L1029.8 359.4L1024.2 360.4L1018.9 361.4L1013.8 362.5L1008.8 363.5L1003.9 364.7L998.9 365.9L994.0 367.2L989.2 368.5L984.3 369.8L979.5 371.3L974.6 372.8L969.6 374.4L964.4 376.0L959.3 377.6L954.0 379.3L948.7 381.0L943.3 382.8L937.9 384.5L932.6 386.2L927.1 387.8L921.7 389.3L916.2 390.8L910.7 392.3L905.3 393.8L900.0 395.3L894.6 396.9L889.3 398.8L884.0 400.7L878.7 402.8L873.6 404.9L868.4 406.9L863.4 409.0L858.5 411.0L853.6 413.1L848.6 415.2L843.7 417.3L838.6 419.4L833.5 421.6L828.4 423.9L823.5 426.2L818.9 428.4L814.8 430.3L811.0 431.9Z"/>
<path d="M900.0 396.6L892.8 404.9L889.3 394.3Z"/>
<path d="M969.2 403.3L973.4 402.4L978.1 401.7L983.2 400.9L988.8 400.0L994.5 399.0L1000.3 398.1L1006.1 397.3L1012.1 396.6L1018.1 395.9L1024.1 395.2L1030.0 394.4L1036.0 393.8L1041.9 393.2L1047.7 392.8L1053.4 392.5L1059.0 392.3L1064.4 392.3L1069.7 392.5L1074.9 392.7L1079.8 393.0L1084.6 393.4L1089.3 393.9L1094.1 394.5L1099.0 395.1L1103.9 395.8L1108.7 396.5L1113.7 397.3L1118.9 398.1L1124.1 399.0L1129.4 399.9L1134.7 400.8L1139.9 401.8L1145.0 402.8L1150.1 403.9L1155.2 405.0L1160.3 406.2L1165.5 407.4L1170.7 408.7L1176.0 409.9L1181.1 411.1L1186.2 412.2L1191.2 413.3L1196.4 414.4L1201.6 415.7L1206.9 417.0L1212.2 418.4L1217.4 420.0L1222.4 421.7L1227.2 423.4L1231.9 425.2L1236.5 427.2L1241.2 429.2L1245.8 431.3L1250.5 433.5L1255.1 435.7L1259.6 438.0L1264.1 440.3L1268.5 442.7L1273.0 445.2L1277.7 447.8L1282.4 450.6L1287.1 453.5L1291.7 456.4L1296.3 459.3L1300.6 462.3L1304.8 465.3L1309.0 468.3L1313.2 471.6L1317.6 475.2L1322.0 478.9L1326.4 482.7L1330.5 486.3L1334.1 489.5L1337.3 492.5L1340.1 495.2L1340.2 495.1L1337.5 492.3L1334.6 489.1L1331.2 485.5L1327.4 481.6L1323.3 477.5L1319.0 473.5L1314.7 469.8L1310.5 466.4L1306.3 463.2L1302.1 460.1L1297.8 457.1L1293.4 454.0L1288.8 450.9L1284.1 447.9L1279.3 445.0L1274.7 442.3L1270.1 439.8L1265.6 437.4L1261.1 435.1L1256.6 432.8L1251.9 430.5L1247.2 428.3L1242.5 426.2L1237.8 424.1L1233.1 422.2L1228.4 420.3L1223.5 418.5L1218.4 416.8L1213.1 415.2L1207.7 413.8L1202.4 412.4L1197.1 411.2L1191.9 410.1L1186.9 409.0L1181.8 407.8L1176.7 406.7L1171.5 405.4L1166.2 404.2L1161.0 403.0L1155.9 401.8L1150.8 400.7L1145.7 399.6L1140.5 398.5L1135.3 397.6L1130.0 396.6L1124.7 395.7L1119.4 394.9L1114.2 394.0L1109.2 393.3L1104.4 392.5L1099.5 391.8L1094.5 391.2L1089.7 390.6L1084.9 390.1L1080.0 389.7L1075.1 389.4L1069.9 389.2L1064.5 389.0L1058.9 389.0L1053.3 389.1L1047.5 389.5L1041.6 390.0L1035.6 390.6L1029.7 391.3L1023.7 392.0L1017.7 392.9L1011.7 393.9L1005.8 395.0L999.9 396.1L994.1 397.2L988.5 398.3L983.0 399.6L977.9 400.9L973.3 402.1L969.2 403.1Z"/>
<path d="M1181.6 409.5L1170.7 413.0L1173.3 401.6Z"/>
<path d="M674.9 729.1L676.2 733.7L677.4 738.8L678.9 744.2L681.0 749.5L683.5 754.5L686.1 759.4L688.8 764.1L691.9 768.8L695.3 773.3L699.0 777.7L702.9 782.0L706.8 786.3L710.9 790.5L715.2 794.4L719.4 798.3L723.8 802.0L728.2 805.7L732.7 809.3L737.2 812.7L741.5 815.9L745.8 819.0L750.1 821.9L754.5 824.9L758.8 827.8L763.2 830.8L767.6 833.8L772.2 836.8L776.7 839.9L781.4 843.1L786.0 846.1L790.7 849.1L795.4 852.0L800.1 854.7L805.0 857.2L809.8 859.5L814.7 861.7L819.6 864.0L824.8 866.6L830.4 869.1L836.3 871.2L841.8 873.1L846.8 875.2L847.0 874.9L842.3 872.2L837.4 868.9L832.2 865.5L826.9 862.4L821.8 859.7L817.1 857.1L812.5 854.4L808.0 851.7L803.4 848.9L798.9 846.1L794.3 843.3L789.7 840.4L785.2 837.4L780.6 834.3L776.0 831.1L771.5 828.0L767.1 825.0L762.7 822.1L758.4 819.1L754.1 816.2L749.9 813.2L745.7 810.2L741.4 807.1L737.1 803.7L732.7 800.2L728.4 796.6L724.2 792.9L720.0 789.1L715.7 785.3L711.5 781.5L707.3 777.7L703.4 773.7L699.7 769.6L696.2 765.5L692.9 761.3L689.7 757.1L686.8 752.7L684.2 747.9L681.7 743.0L679.2 738.1L677.0 733.5L675.3 729.0Z"/>
<path d="M733.9 805.8L748.2 807.4L739.3 819.1Z"/>
<path d="M638.0 727.7L639.2 732.7L640.5 738.1L642.0 743.8L643.8 749.6L645.7 755.1L648.0 760.4L650.4 765.5L653.2 770.3L656.2 774.8L659.4 779.1L662.8 783.3L666.4 787.4L670.1 791.4L674.0 795.3L677.9 799.1L682.0 802.8L686.2 806.4L690.5 810.0L694.8 813.5L699.2 816.8L703.8 820.1L708.5 823.3L713.5 826.6L718.9 829.8L724.6 832.7L730.1 835.3L735.2 837.7L739.7 840.0L739.8 839.8L735.4 837.2L730.7 834.2L725.7 830.8L720.4 827.2L715.3 823.8L710.4 820.6L705.9 817.2L701.5 813.8L697.3 810.4L693.0 806.9L688.8 803.4L684.7 799.8L680.7 796.1L676.8 792.4L673.0 788.6L669.3 784.7L665.9 780.7L662.6 776.7L659.5 772.5L656.6 768.2L654.0 763.6L651.6 758.7L649.5 753.7L647.6 748.3L645.9 742.7L644.4 737.1L643.1 731.8L642.0 726.8Z"/>
<path d="M667.6 785.9L679.1 789.1L670.3 797.5Z"/>
<path d="M609.5 816.9L612.8 821.8L616.3 826.9L620.2 832.0L624.5 836.8L629.1 841.0L634.0 844.3L639.2 846.7L644.5 848.1L649.9 848.3L655.3 847.6L660.6 846.5L665.9 845.3L671.4 844.5L676.9 844.2L682.6 844.5L688.3 845.6L694.0 847.1L699.6 849.1L705.1 851.3L710.7 853.6L716.2 856.0L721.5 858.4L726.4 860.6L731.0 862.8L735.5 865.0L740.1 867.2L744.7 869.5L749.3 871.7L753.9 873.8L758.5 875.9L763.1 878.0L767.7 880.1L772.4 882.2L777.2 884.4L781.9 886.6L786.6 888.7L791.3 890.8L795.9 892.9L800.5 895.0L805.1 897.1L809.7 899.2L814.3 901.3L818.9 903.4L823.5 905.5L828.1 907.6L832.7 909.7L837.3 911.9L842.0 914.1L846.6 916.2L851.3 918.3L856.0 920.3L860.9 922.4L866.1 924.4L871.4 926.4L876.7 928.4L882.1 930.3L887.3 932.1L892.6 933.9L897.7 935.6L902.9 937.3L908.0 938.9L913.1 940.6L918.3 942.1L923.6 943.6L928.9 944.9L934.2 946.1L939.5 947.1L944.9 948.2L950.4 949.2L955.9 950.1L961.4 951.1L966.8 951.9L972.2 952.8L977.7 953.5L983.1 954.3L988.5 955.1L993.8 955.8L999.0 956.4L1004.2 957.0L1009.3 957.6L1014.4 958.1L1019.4 958.6L1024.4 959.1L1029.3 959.6L1034.3 960.1L1039.4 960.7L1044.5 961.3L1049.6 961.9L1054.9 962.6L1060.2 963.4L1065.5 964.2L1070.8 965.2L1076.1 966.2L1081.3 967.3L1086.5 968.5L1091.7 969.8L1097.0 971.2L1102.3 972.6L1107.6 973.9L1112.9 975.2L1118.3 976.4L1123.6 977.5L1128.9 978.6L1134.2 979.7L1139.5 980.7L1144.8 981.6L1150.1 982.6L1155.4 983.5L1160.7 984.4L1166.0 985.3L1171.4 986.1L1176.7 986.8L1182.0 987.5L1187.4 988.1L1192.7 988.6L1198.1 989.0L1203.4 989.3L1208.7 989.5L1214.1 989.7L1219.4 989.8L1224.8 989.8L1230.2 989.7L1235.6 989.5L1241.0 989.3L1246.4 989.0L1251.7 988.6L1257.0 988.2L1262.2 987.8L1267.5 987.3L1272.8 986.7L1278.0 986.0L1283.2 985.2L1288.5 984.4L1293.8 983.5L1299.3 982.6L1304.9 981.4L1310.5 980.2L1316.1 979.0L1321.6 977.9L1327.1 976.8L1332.6 975.8L1338.1 974.9L1343.6 974.0L1349.0 973.3L1354.4 972.8L1359.9 972.4L1365.5 972.0L1371.0 971.8L1376.4 971.9L1381.8 972.5L1387.0 973.4L1392.1 974.7L1396.8 976.4L1401.2 978.8L1405.2 981.7L1408.7 984.8L1411.2 988.0L1413.2 990.8L1414.6 993.5L1415.5 993.1L1414.6 990.1L1413.1 986.8L1410.4 983.3L1407.0 979.6L1402.8 976.4L1398.1 973.7L1393.1 971.6L1387.8 970.0L1382.3 968.9L1376.7 968.2L1371.1 967.8L1365.4 967.5L1359.7 967.6L1354.1 967.8L1348.5 968.3L1342.9 968.8L1337.3 969.4L1331.7 970.1L1326.1 971.0L1320.5 972.0L1314.9 973.0L1309.3 974.0L1303.7 975.0L1298.2 976.0L1292.8 976.9L1287.5 977.7L1282.3 978.3L1277.2 978.9L1272.0 979.3L1266.8 979.8L1261.6 980.2L1256.4 980.6L1251.2 981.0L1246.0 981.3L1240.7 981.5L1235.4 981.7L1230.1 981.8L1224.8 981.9L1219.5 981.8L1214.3 981.7L1209.1 981.5L1203.9 981.2L1198.7 980.8L1193.4 980.3L1188.2 979.8L1183.0 979.3L1177.8 978.6L1172.6 977.9L1167.3 977.0L1162.1 976.2L1156.8 975.3L1151.6 974.4L1146.3 973.4L1141.1 972.4L1135.8 971.4L1130.6 970.3L1125.3 969.3L1120.1 968.1L1114.9 966.9L1109.6 965.7L1104.4 964.4L1099.1 963.0L1093.8 961.6L1088.5 960.3L1083.2 959.0L1077.8 957.8L1072.3 956.8L1066.9 955.8L1061.5 954.9L1056.1 954.1L1050.8 953.4L1045.5 952.7L1040.4 952.1L1035.2 951.6L1030.1 951.1L1025.1 950.7L1020.1 950.4L1015.1 950.0L1010.1 949.5L1005.0 949.0L999.9 948.4L994.8 947.9L989.5 947.3L984.1 946.6L978.7 945.9L973.3 945.1L967.9 944.3L962.5 943.5L957.1 942.7L951.6 941.8L946.2 940.9L940.9 940.0L935.7 939.0L930.5 937.8L925.3 936.6L920.2 935.3L915.1 933.9L910.0 932.4L905.0 930.8L899.8 929.1L894.7 927.5L889.5 925.8L884.2 924.0L878.9 922.2L873.6 920.4L868.3 918.5L863.3 916.5L858.4 914.5L853.7 912.6L849.1 910.5L844.5 908.5L839.9 906.4L835.3 904.3L830.6 902.2L826.0 900.1L821.4 898.0L816.7 895.9L812.1 893.9L807.5 891.8L802.8 889.8L798.2 887.7L793.6 885.6L788.9 883.5L784.2 881.4L779.5 879.3L774.7 877.2L769.9 875.1L765.3 873.1L760.7 871.0L756.1 869.0L751.6 866.9L746.9 864.8L742.2 862.6L737.6 860.6L733.0 858.5L728.3 856.5L723.3 854.3L717.9 852.0L712.2 849.8L706.5 847.7L700.8 845.7L695.0 843.8L689.0 842.3L683.0 841.4L677.0 841.0L671.1 841.4L665.3 842.2L659.9 843.5L654.7 844.6L649.8 845.3L644.9 845.1L640.2 843.9L635.5 841.8L630.9 838.7L626.6 834.7L622.4 830.2L618.5 825.3L614.8 820.4L611.5 815.6Z"/>
<path d="M617.8 827.1L628.4 830.6L619.8 838.0Z"/>
<path d="M923.0 939.8L936.8 935.4L933.5 949.8Z"/>
<path d="M1286.7 981.3L1297.5 972.2L1299.8 986.4Z"/>
<path d="M1136.1 1088.1L1138.4 1084.8L1140.6 1080.8L1142.5 1076.2L1143.6 1071.0L1143.5 1065.7L1142.5 1060.3L1140.6 1055.0L1137.8 1049.8L1134.4 1044.9L1130.3 1040.2L1125.7 1035.9L1120.9 1032.2L1115.9 1028.9L1110.8 1026.2L1105.8 1023.9L1100.8 1021.9L1095.8 1020.2L1090.6 1018.7L1085.2 1017.5L1079.4 1016.7L1073.3 1016.6L1067.1 1017.1L1061.0 1018.1L1055.5 1019.4L1050.3 1020.9L1045.2 1022.6L1040.2 1024.6L1035.1 1027.0L1029.9 1029.7L1024.7 1032.9L1019.6 1036.4L1014.7 1040.4L1010.1 1044.9L1005.8 1049.7L1002.2 1054.8L999.2 1060.0L996.9 1065.3L995.4 1071.0L994.7 1077.0L995.0 1082.9L996.5 1088.7L999.0 1094.1L1002.4 1099.1L1006.6 1103.8L1011.4 1108.1L1016.5 1111.8L1021.7 1114.9L1026.9 1117.6L1032.2 1119.9L1037.6 1122.0L1043.1 1123.9L1048.8 1125.6L1054.6 1127.1L1060.6 1128.4L1066.9 1129.3L1073.4 1130.0L1080.0 1130.4L1086.6 1130.6L1093.1 1130.6L1099.6 1130.3L1106.0 1129.7L1112.2 1128.9L1118.3 1127.8L1124.1 1126.5L1129.7 1125.0L1135.1 1123.2L1140.4 1121.1L1145.7 1118.6L1151.1 1115.7L1156.5 1112.3L1161.4 1108.5L1165.7 1104.4L1169.2 1099.9L1172.0 1095.1L1173.9 1090.0L1175.0 1084.7L1175.3 1079.3L1174.6 1074.0L1173.0 1068.9L1170.9 1064.4L1168.4 1060.3L1168.3 1060.4L1170.0 1064.8L1171.5 1069.4L1172.4 1074.3L1172.5 1079.3L1172.0 1084.2L1170.7 1088.9L1168.8 1093.5L1166.2 1097.8L1163.0 1101.9L1159.0 1105.8L1154.4 1109.4L1149.3 1112.6L1144.1 1115.4L1138.9 1117.8L1133.8 1119.8L1128.7 1121.6L1123.2 1123.0L1117.6 1124.3L1111.7 1125.3L1105.6 1126.1L1099.4 1126.7L1093.0 1127.0L1086.6 1127.0L1080.1 1126.8L1073.7 1126.4L1067.4 1125.8L1061.2 1124.8L1055.4 1123.6L1049.8 1122.2L1044.3 1120.5L1038.8 1118.6L1033.6 1116.6L1028.4 1114.3L1023.4 1111.8L1018.5 1108.8L1013.7 1105.3L1009.2 1101.3L1005.2 1096.9L1002.1 1092.3L999.9 1087.5L998.6 1082.4L998.3 1077.1L998.9 1071.7L1000.3 1066.5L1002.5 1061.6L1005.2 1056.7L1008.7 1052.0L1012.7 1047.4L1017.1 1043.1L1021.8 1039.3L1026.6 1035.9L1031.7 1032.8L1036.7 1030.2L1041.6 1027.9L1046.5 1026.0L1051.3 1024.3L1056.4 1022.8L1061.7 1021.6L1067.5 1020.7L1073.4 1020.2L1079.2 1020.3L1084.6 1021.0L1089.7 1022.1L1094.7 1023.6L1099.6 1025.3L1104.4 1027.2L1109.2 1029.4L1114.0 1032.0L1118.8 1035.1L1123.4 1038.7L1127.7 1042.7L1131.5 1047.1L1134.8 1051.7L1137.3 1056.5L1139.3 1061.3L1140.6 1066.1L1141.0 1070.9L1140.7 1075.8L1139.7 1080.4L1137.9 1084.5L1135.9 1088.0Z"/>
<path d="M997.6 1088.1L990.2 1079.1L1002.0 1077.3Z"/>
<path d="M1049.1 1048.4L1050.0 1053.1L1051.6 1057.9L1054.4 1062.8L1058.4 1067.4L1063.3 1071.4L1068.8 1074.8L1074.6 1077.3L1080.8 1078.8L1087.2 1079.0L1093.7 1078.4L1100.0 1077.1L1105.6 1075.0L1110.2 1072.5L1113.8 1069.8L1116.7 1066.9L1116.6 1066.8L1113.3 1069.1L1109.5 1071.2L1104.8 1072.9L1099.3 1074.3L1093.3 1075.5L1087.1 1076.2L1081.1 1075.9L1075.5 1074.6L1070.1 1072.2L1065.0 1069.1L1060.3 1065.3L1056.3 1061.3L1053.2 1057.1L1050.9 1052.7L1049.3 1048.3Z"/>
<path d="M1086.1 1078.1L1075.9 1082.3L1077.5 1071.1Z"/>
<path d="M1088.3 994.9L1082.7 994.2L1076.8 993.7L1070.7 993.3L1064.7 993.1L1058.9 993.2L1053.2 993.4L1047.4 993.8L1041.7 994.2L1036.0 994.8L1030.4 995.5L1024.9 996.4L1019.3 997.3L1013.7 998.3L1008.2 999.3L1002.6 1000.5L997.1 1001.7L991.6 1002.9L986.1 1004.0L980.7 1005.1L975.3 1006.1L969.9 1007.1L964.5 1007.9L959.1 1008.5L953.8 1009.0L948.5 1009.3L943.3 1009.5L937.9 1009.7L932.5 1009.8L927.1 1009.8L921.7 1009.7L916.3 1009.6L910.9 1009.4L905.5 1009.2L900.2 1008.9L894.9 1008.6L889.6 1008.4L884.2 1008.1L878.6 1008.0L872.9 1008.0L867.3 1008.1L861.6 1008.4L855.6 1009.1L849.4 1010.4L843.4 1012.1L837.5 1013.8L837.7 1014.6L843.7 1013.3L849.8 1012.3L855.9 1011.4L861.8 1010.8L867.3 1010.6L872.9 1010.7L878.5 1010.8L884.0 1011.0L889.4 1011.3L894.7 1011.6L900.0 1011.9L905.4 1012.2L910.8 1012.5L916.2 1012.8L921.7 1012.9L927.1 1013.0L932.6 1013.0L938.0 1013.0L943.4 1012.9L948.7 1012.7L954.0 1012.4L959.4 1012.0L964.9 1011.3L970.5 1010.6L976.0 1009.7L981.4 1008.7L986.8 1007.7L992.3 1006.6L997.9 1005.5L1003.4 1004.5L1008.9 1003.5L1014.5 1002.5L1020.0 1001.7L1025.5 1000.9L1031.0 1000.3L1036.6 999.8L1042.1 999.3L1047.7 998.9L1053.4 998.6L1059.0 998.5L1064.6 998.5L1070.4 998.7L1076.4 999.1L1082.1 999.6L1087.7 1000.3Z"/>
<path d="M943.2 1011.3L952.8 1004.9L953.4 1016.7Z"/>
<path d="M935.4 1046.1L928.6 1048.7L922.0 1051.5L916.1 1054.9L911.2 1058.9L907.8 1063.7L906.1 1069.0L906.0 1074.7L907.2 1080.3L909.2 1085.5L911.9 1090.4L915.1 1094.9L918.5 1099.0L922.1 1102.9L926.1 1106.7L930.4 1110.3L935.1 1113.8L940.1 1117.1L945.3 1120.3L950.6 1123.4L956.0 1126.4L961.5 1129.2L967.0 1131.9L972.4 1134.3L977.7 1136.5L982.9 1138.5L988.2 1140.4L993.4 1142.1L998.6 1143.8L1003.7 1145.3L1008.7 1146.6L1013.7 1147.9L1018.8 1149.1L1023.8 1150.3L1028.9 1151.4L1034.2 1152.5L1039.5 1153.5L1044.7 1154.4L1049.9 1155.3L1055.0 1156.0L1060.2 1156.7L1065.6 1157.3L1071.1 1157.8L1076.8 1158.1L1082.6 1158.4L1088.5 1158.6L1094.5 1158.7L1100.5 1158.6L1106.4 1158.2L1112.3 1157.7L1118.0 1157.0L1123.4 1156.2L1128.8 1155.3L1134.0 1154.4L1139.3 1153.4L1144.5 1152.2L1149.6 1150.9L1154.6 1149.6L1159.5 1148.0L1164.3 1146.4L1169.3 1144.5L1174.4 1142.3L1179.5 1139.9L1184.4 1137.2L1189.3 1134.4L1193.9 1131.4L1198.3 1128.1L1202.4 1124.6L1206.3 1120.6L1209.8 1116.1L1212.8 1111.2L1215.2 1105.9L1216.9 1100.4L1217.8 1094.7L1218.0 1088.9L1217.5 1083.2L1216.2 1077.6L1214.4 1072.3L1211.8 1067.4L1208.5 1062.9L1204.7 1058.7L1200.1 1054.8L1195.2 1051.1L1195.1 1051.2L1199.5 1055.5L1203.5 1059.8L1207.0 1064.1L1209.6 1068.6L1211.8 1073.4L1213.5 1078.4L1214.6 1083.6L1215.1 1089.0L1214.9 1094.4L1214.1 1099.7L1212.5 1104.9L1210.3 1109.8L1207.4 1114.5L1204.1 1118.7L1200.4 1122.5L1196.5 1125.8L1192.2 1129.0L1187.7 1131.9L1183.0 1134.7L1178.1 1137.3L1173.2 1139.7L1168.2 1141.8L1163.4 1143.6L1158.6 1145.3L1153.8 1146.8L1148.9 1148.1L1143.9 1149.4L1138.7 1150.5L1133.5 1151.5L1128.3 1152.5L1123.0 1153.3L1117.6 1154.1L1112.0 1154.8L1106.2 1155.3L1100.4 1155.7L1094.5 1155.8L1088.6 1155.7L1082.7 1155.5L1076.9 1155.2L1071.3 1154.9L1065.9 1154.4L1060.6 1153.8L1055.4 1153.2L1050.3 1152.4L1045.2 1151.6L1040.0 1150.6L1034.8 1149.6L1029.5 1148.6L1024.4 1147.5L1019.4 1146.3L1014.4 1145.1L1009.5 1143.8L1004.5 1142.5L999.4 1141.0L994.3 1139.4L989.1 1137.7L984.0 1135.8L978.8 1133.8L973.6 1131.6L968.2 1129.2L962.8 1126.6L957.4 1123.8L952.0 1120.9L946.8 1117.8L941.7 1114.7L936.8 1111.4L932.2 1108.0L928.0 1104.5L924.2 1100.9L920.6 1097.1L917.4 1093.1L914.4 1088.9L911.9 1084.3L909.9 1079.4L908.9 1074.4L909.0 1069.5L910.4 1065.0L913.3 1060.9L917.6 1057.0L923.1 1053.4L929.3 1050.0L935.7 1046.9Z"/>
<path d="M1076.4 1156.7L1066.5 1161.6L1067.3 1150.4Z"/>
<path d="M875.4 1032.6L871.8 1037.6L868.5 1043.0L866.2 1049.1L865.0 1055.7L865.2 1062.4L866.7 1069.2L869.3 1075.7L872.6 1081.8L876.4 1087.3L880.5 1092.3L884.7 1096.8L889.1 1101.1L893.8 1105.4L899.0 1109.5L904.4 1113.5L909.9 1117.1L915.2 1120.5L915.3 1120.3L910.5 1116.3L905.6 1112.0L900.7 1107.5L895.9 1103.0L891.3 1098.7L887.1 1094.5L883.1 1090.0L879.2 1085.2L875.5 1080.0L872.4 1074.2L870.0 1068.2L868.5 1062.0L868.1 1055.8L868.6 1049.7L870.3 1043.8L872.7 1038.1L875.6 1032.7Z"/>
<path d="M885.3 1095.3L874.4 1091.6L883.4 1084.0Z"/>
<path d="M821.8 1034.5L821.5 1040.2L821.4 1045.8L822.0 1051.3L822.9 1056.7L824.3 1061.9L826.4 1067.0L828.9 1072.1L831.8 1077.1L835.1 1082.1L838.7 1086.9L842.4 1091.4L846.1 1095.6L849.9 1099.6L853.7 1103.3L857.7 1107.1L861.7 1110.8L865.8 1114.5L870.1 1118.2L874.5 1121.8L879.0 1125.3L883.6 1128.6L888.2 1131.8L892.9 1134.8L897.5 1137.5L902.1 1140.2L906.7 1142.7L911.4 1145.1L916.1 1147.4L920.9 1149.7L925.8 1151.9L930.7 1154.1L935.8 1156.3L940.9 1158.5L946.0 1160.6L951.2 1162.6L956.4 1164.6L961.6 1166.5L966.8 1168.3L971.9 1170.0L977.1 1171.7L982.3 1173.3L987.4 1174.8L992.4 1176.2L997.4 1177.5L1002.3 1178.8L1007.3 1180.0L1012.3 1181.2L1017.3 1182.3L1022.2 1183.4L1027.1 1184.4L1032.1 1185.3L1037.0 1186.2L1042.1 1187.1L1047.3 1187.9L1052.7 1188.6L1058.3 1189.3L1064.0 1190.0L1069.6 1190.6L1075.2 1191.1L1081.1 1191.6L1087.3 1192.0L1093.6 1192.3L1099.8 1192.5L1105.9 1192.6L1111.9 1192.6L1117.6 1192.5L1123.1 1192.3L1128.4 1192.0L1133.7 1191.6L1139.1 1191.2L1144.7 1190.6L1150.4 1189.9L1156.3 1189.1L1162.2 1188.2L1168.1 1187.2L1173.8 1186.0L1179.2 1184.8L1184.3 1183.5L1189.4 1182.2L1194.4 1180.7L1199.4 1179.1L1204.5 1177.4L1209.6 1175.5L1214.9 1173.4L1220.1 1171.1L1225.1 1168.8L1230.1 1166.4L1234.8 1164.0L1239.5 1161.4L1244.0 1158.8L1248.5 1156.0L1253.0 1152.9L1257.6 1149.6L1262.3 1146.0L1266.8 1142.2L1271.0 1138.3L1274.8 1134.2L1278.3 1129.9L1281.6 1125.5L1284.6 1120.7L1287.3 1115.5L1289.7 1110.0L1291.6 1104.3L1292.8 1098.6L1293.5 1092.8L1293.5 1087.0L1292.8 1081.3L1291.5 1075.6L1289.6 1070.0L1287.0 1064.7L1283.9 1059.6L1280.3 1054.9L1276.1 1050.8L1271.4 1047.3L1266.7 1044.1L1261.8 1041.6L1257.0 1039.8L1252.5 1038.1L1252.4 1038.3L1256.6 1040.5L1260.9 1043.3L1265.3 1046.2L1269.7 1049.5L1273.6 1053.3L1277.3 1057.4L1280.7 1061.8L1283.6 1066.5L1286.0 1071.5L1287.8 1076.6L1289.0 1081.9L1289.6 1087.2L1289.6 1092.6L1289.0 1097.9L1287.8 1103.3L1286.1 1108.6L1283.8 1113.8L1281.2 1118.7L1278.4 1123.3L1275.3 1127.5L1271.9 1131.6L1268.2 1135.5L1264.2 1139.3L1259.8 1143.0L1255.3 1146.5L1250.8 1149.8L1246.3 1152.7L1242.0 1155.5L1237.5 1158.0L1233.0 1160.5L1228.3 1163.0L1223.5 1165.3L1218.5 1167.6L1213.4 1169.8L1208.3 1171.9L1203.2 1173.7L1198.2 1175.5L1193.3 1177.0L1188.3 1178.4L1183.4 1179.8L1178.3 1181.0L1173.0 1182.2L1167.4 1183.3L1161.6 1184.4L1155.7 1185.3L1149.9 1186.1L1144.3 1186.7L1138.8 1187.3L1133.4 1187.8L1128.2 1188.1L1122.9 1188.4L1117.5 1188.6L1111.9 1188.7L1106.0 1188.7L1099.9 1188.6L1093.8 1188.4L1087.5 1188.1L1081.4 1187.7L1075.6 1187.3L1070.0 1186.7L1064.4 1186.1L1058.8 1185.5L1053.3 1184.8L1047.9 1184.0L1042.7 1183.2L1037.7 1182.4L1032.8 1181.5L1027.9 1180.6L1023.0 1179.6L1018.1 1178.5L1013.2 1177.4L1008.2 1176.2L1003.3 1175.0L998.4 1173.8L993.4 1172.4L988.4 1171.1L983.4 1169.6L978.3 1168.0L973.2 1166.4L968.1 1164.6L962.9 1162.8L957.8 1161.0L952.6 1159.0L947.5 1157.0L942.4 1154.9L937.3 1152.8L932.3 1150.6L927.4 1148.4L922.6 1146.2L917.8 1143.9L913.2 1141.6L908.5 1139.2L904.0 1136.8L899.4 1134.2L894.9 1131.5L890.4 1128.5L885.8 1125.4L881.3 1122.2L876.9 1118.8L872.6 1115.2L868.4 1111.6L864.3 1107.9L860.3 1104.2L856.4 1100.6L852.7 1096.8L849.0 1093.0L845.3 1088.9L841.7 1084.5L838.3 1079.8L835.1 1075.0L832.2 1070.2L829.8 1065.4L827.8 1060.6L826.0 1055.8L824.4 1050.8L823.5 1045.6L822.6 1040.1L822.0 1034.5Z"/>
<path d="M1099.3 1190.6L1088.8 1196.2L1089.3 1184.1Z"/>
<path d="M843.5 969.3L838.9 968.7L833.9 967.8L828.4 967.0L822.5 966.5L816.4 966.6L810.3 967.3L804.2 968.5L798.4 970.1L792.9 972.2L787.8 974.7L783.1 977.7L778.7 981.4L774.7 985.8L771.0 991.0L768.0 996.9L765.8 1003.0L764.6 1008.9L764.3 1014.6L764.7 1020.0L765.6 1025.3L767.1 1030.7L769.1 1036.1L771.6 1041.7L774.5 1047.4L777.8 1052.9L781.4 1058.4L784.9 1063.6L788.3 1068.6L791.7 1073.4L795.0 1078.0L798.2 1082.6L801.4 1086.9L804.7 1091.2L808.1 1095.4L811.6 1099.5L815.4 1103.4L819.4 1107.0L823.3 1110.4L827.0 1113.8L830.5 1116.8L833.9 1119.6L834.0 1119.4L831.2 1116.1L828.2 1112.6L824.8 1109.0L821.3 1105.1L817.9 1101.0L814.4 1097.0L810.9 1093.0L807.7 1088.9L804.4 1084.7L801.2 1080.3L798.0 1075.9L794.7 1071.3L791.4 1066.5L788.0 1061.5L784.5 1056.3L781.0 1051.0L777.8 1045.5L775.0 1040.1L772.6 1034.7L770.7 1029.5L769.3 1024.5L768.4 1019.5L768.0 1014.6L768.3 1009.4L769.4 1004.0L771.4 998.4L774.2 993.0L777.6 988.1L781.3 984.1L785.3 980.7L789.7 978.0L794.4 975.6L799.6 973.7L805.1 972.0L810.8 970.8L816.7 970.0L822.5 969.6L828.3 969.3L833.8 969.2L838.8 969.2L843.5 969.5Z"/>
<path d="M766.1 1020.2L760.2 1010.0L772.2 1010.1Z"/>
<path d="M745.0 958.3L741.7 963.4L738.7 968.7L736.7 974.0L735.1 979.3L733.9 984.6L733.2 989.9L732.9 995.3L733.2 1000.9L734.1 1006.5L735.4 1012.2L736.9 1018.1L738.7 1024.0L740.7 1029.8L742.9 1035.4L745.2 1040.7L747.6 1045.9L750.3 1051.1L753.3 1056.2L756.4 1061.3L759.6 1066.3L762.8 1071.0L765.8 1075.5L768.8 1079.7L771.8 1083.8L774.9 1087.9L778.2 1092.1L781.6 1096.2L785.2 1100.3L788.9 1104.4L792.8 1108.4L796.7 1112.4L800.6 1116.3L804.6 1120.1L808.7 1123.8L812.9 1127.5L817.2 1131.0L821.5 1134.5L825.9 1137.9L830.4 1141.3L834.8 1144.5L839.3 1147.7L843.8 1150.9L848.2 1153.9L852.7 1156.9L857.1 1159.8L861.6 1162.6L866.0 1165.3L870.5 1168.0L875.0 1170.6L879.6 1173.2L884.5 1175.8L889.6 1178.5L895.0 1181.2L900.3 1183.9L905.4 1186.6L910.1 1189.1L914.6 1191.6L919.0 1194.0L923.6 1196.3L928.3 1198.4L933.1 1200.3L938.0 1201.8L943.0 1203.3L948.1 1204.6L953.1 1205.9L958.1 1207.2L963.1 1208.5L968.0 1209.8L973.0 1211.0L977.9 1212.3L982.9 1213.4L987.8 1214.6L992.8 1215.6L997.7 1216.6L1002.7 1217.5L1007.6 1218.4L1012.7 1219.3L1018.0 1220.3L1023.5 1221.2L1029.2 1222.1L1035.1 1223.0L1041.0 1223.9L1046.8 1224.7L1052.6 1225.5L1058.3 1226.2L1064.0 1226.8L1069.6 1227.4L1075.2 1228.0L1081.0 1228.4L1087.0 1228.8L1093.1 1229.2L1099.1 1229.6L1104.9 1230.1L1110.5 1230.7L1116.2 1231.3L1121.9 1231.7L1127.6 1231.9L1133.3 1231.8L1138.9 1231.4L1144.6 1230.9L1150.1 1230.2L1155.7 1229.4L1161.3 1228.5L1166.9 1227.5L1172.4 1226.3L1178.0 1225.1L1183.6 1223.7L1189.2 1222.1L1194.8 1220.3L1200.4 1218.5L1205.9 1216.5L1211.5 1214.5L1217.1 1212.5L1222.6 1210.3L1228.2 1208.1L1233.6 1205.8L1238.9 1203.4L1244.0 1201.0L1249.0 1198.6L1253.8 1196.1L1258.4 1193.5L1263.1 1190.9L1267.7 1188.1L1272.3 1185.1L1277.0 1182.0L1281.5 1178.7L1286.0 1175.3L1290.5 1171.9L1295.0 1168.3L1299.6 1164.6L1304.2 1160.9L1308.7 1157.2L1313.3 1153.4L1317.7 1149.7L1322.2 1145.9L1326.4 1142.2L1330.5 1138.4L1334.4 1134.7L1338.2 1130.9L1341.8 1127.1L1345.5 1123.0L1349.3 1118.7L1353.0 1114.2L1356.6 1109.5L1360.0 1104.9L1363.1 1100.2L1366.1 1095.4L1368.9 1090.5L1371.5 1085.2L1374.1 1079.6L1376.5 1073.6L1378.5 1067.7L1380.2 1061.8L1381.4 1056.1L1382.3 1050.4L1382.7 1044.7L1382.7 1039.0L1382.0 1033.5L1380.8 1028.1L1378.8 1023.0L1376.2 1018.2L1373.0 1013.9L1369.2 1010.0L1364.9 1006.6L1360.0 1003.8L1354.8 1001.5L1349.5 999.7L1344.0 998.5L1338.7 998.0L1333.7 997.4L1333.7 997.7L1338.6 998.8L1343.6 1000.3L1348.7 1002.0L1353.7 1004.1L1358.4 1006.7L1362.7 1009.6L1366.7 1012.8L1370.1 1016.3L1373.1 1020.3L1375.4 1024.5L1377.2 1029.2L1378.3 1034.1L1378.9 1039.3L1379.0 1044.6L1378.6 1049.9L1377.8 1055.4L1376.6 1060.9L1374.9 1066.5L1373.0 1072.3L1370.7 1078.1L1368.2 1083.6L1365.6 1088.8L1362.9 1093.5L1360.0 1098.1L1356.9 1102.7L1353.6 1107.3L1350.1 1111.8L1346.4 1116.3L1342.7 1120.5L1339.1 1124.5L1335.5 1128.3L1331.8 1132.0L1327.9 1135.7L1323.9 1139.4L1319.7 1143.1L1315.3 1146.8L1310.9 1150.6L1306.4 1154.3L1301.8 1158.0L1297.3 1161.7L1292.7 1165.3L1288.2 1168.9L1283.7 1172.4L1279.3 1175.7L1274.8 1178.9L1270.3 1182.0L1265.7 1184.9L1261.2 1187.6L1256.6 1190.2L1252.0 1192.8L1247.3 1195.2L1242.4 1197.7L1237.4 1200.1L1232.1 1202.4L1226.7 1204.7L1221.3 1206.8L1215.7 1209.0L1210.2 1211.0L1204.7 1213.0L1199.2 1214.9L1193.7 1216.8L1188.2 1218.5L1182.7 1220.0L1177.2 1221.4L1171.7 1222.7L1166.2 1223.8L1160.7 1224.8L1155.1 1225.7L1149.6 1226.5L1144.1 1227.2L1138.6 1227.7L1133.2 1228.1L1127.6 1228.1L1122.1 1228.0L1116.5 1227.5L1110.9 1227.0L1105.2 1226.4L1099.4 1225.9L1093.4 1225.5L1087.2 1225.1L1081.2 1224.7L1075.5 1224.3L1069.9 1223.7L1064.4 1223.1L1058.7 1222.5L1053.1 1221.8L1047.3 1221.0L1041.5 1220.2L1035.6 1219.3L1029.8 1218.4L1024.1 1217.5L1018.6 1216.6L1013.3 1215.7L1008.3 1214.8L1003.3 1213.9L998.4 1212.9L993.5 1211.9L988.6 1210.9L983.7 1209.8L978.8 1208.6L973.9 1207.4L969.0 1206.2L964.0 1204.9L959.1 1203.6L954.0 1202.3L949.0 1201.0L944.0 1199.7L939.1 1198.3L934.4 1196.7L929.7 1195.0L925.2 1193.0L920.8 1190.7L916.4 1188.3L911.9 1185.8L907.1 1183.3L902.0 1180.6L896.7 1177.9L891.4 1175.2L886.2 1172.5L881.4 1169.9L876.9 1167.4L872.4 1164.8L868.0 1162.1L863.6 1159.4L859.2 1156.6L854.7 1153.7L850.3 1150.8L845.9 1147.8L841.5 1144.7L837.0 1141.5L832.6 1138.3L828.2 1135.0L823.8 1131.6L819.5 1128.1L815.3 1124.6L811.2 1121.0L807.2 1117.3L803.2 1113.6L799.3 1109.8L795.5 1105.8L791.7 1101.9L788.0 1097.8L784.5 1093.8L781.1 1089.7L777.9 1085.6L774.8 1081.6L771.9 1077.5L768.9 1073.3L765.9 1068.9L762.7 1064.2L759.6 1059.3L756.5 1054.3L753.6 1049.3L751.0 1044.2L748.6 1039.2L746.3 1034.0L744.2 1028.5L742.3 1022.9L740.5 1017.1L739.0 1011.3L737.8 1005.8L737.0 1000.5L736.6 995.3L736.7 990.1L737.1 985.0L737.8 979.9L738.9 974.7L740.7 969.5L742.8 964.0L745.2 958.4Z"/>
<path d="M934.2 1198.8L922.5 1200.5L927.1 1189.4Z"/>
<path d="M1378.4 1061.8L1381.1 1073.2L1369.6 1069.6Z"/>
<path d="M857.9 1139.0L863.3 1142.9L868.5 1146.7L873.7 1150.1L878.6 1153.6L883.4 1156.8L888.1 1159.7L892.7 1162.7L897.5 1165.6L902.5 1168.5L907.7 1171.3L913.1 1174.1L918.6 1176.8L923.9 1179.2L929.0 1181.5L934.0 1183.5L938.8 1185.4L943.8 1187.2L948.9 1188.9L954.3 1190.7L959.7 1192.4L965.3 1194.1L970.9 1195.7L976.5 1197.2L982.1 1198.7L987.7 1200.1L993.3 1201.4L998.9 1202.6L1004.4 1203.7L1010.0 1204.8L1015.6 1205.8L1021.1 1206.7L1026.7 1207.6L1032.3 1208.4L1038.0 1209.3L1043.7 1210.1L1049.4 1210.8L1055.1 1211.5L1061.0 1212.1L1067.2 1212.5L1073.5 1212.8L1079.9 1213.0L1086.2 1213.1L1092.5 1213.1L1098.6 1213.1L1104.3 1213.1L1109.8 1213.2L1115.3 1213.2L1120.8 1213.3L1126.4 1213.2L1131.9 1213.1L1137.5 1213.0L1143.1 1212.7L1148.7 1212.2L1154.2 1211.7L1159.7 1211.0L1165.1 1210.1L1170.7 1209.1L1176.3 1207.9L1181.9 1206.6L1187.4 1205.2L1192.9 1203.7L1198.3 1202.0L1203.6 1200.2L1208.9 1198.3L1214.2 1196.3L1219.5 1194.1L1224.9 1191.6L1230.4 1189.0L1235.8 1186.2L1240.9 1183.5L1245.8 1180.9L1250.4 1178.2L1254.9 1175.6L1259.3 1172.9L1263.7 1170.2L1267.9 1167.3L1272.1 1164.4L1276.3 1161.4L1280.4 1158.2L1284.7 1154.8L1289.2 1151.1L1293.8 1147.0L1298.3 1142.8L1302.7 1138.4L1306.8 1133.8L1310.7 1129.2L1314.3 1124.5L1317.7 1119.8L1320.9 1115.1L1323.8 1110.4L1326.6 1105.4L1329.2 1100.1L1331.6 1094.4L1333.7 1088.3L1335.3 1082.1L1336.5 1075.7L1337.1 1069.4L1337.0 1063.2L1336.1 1057.1L1334.4 1051.3L1331.8 1045.9L1328.3 1040.9L1324.1 1036.5L1319.6 1032.7L1314.9 1029.5L1310.1 1026.9L1305.1 1024.6L1299.9 1022.6L1294.2 1020.9L1288.4 1019.4L1282.4 1018.0L1276.4 1016.8L1270.5 1015.7L1264.7 1014.7L1259.1 1013.8L1253.4 1012.8L1247.7 1011.6L1242.0 1010.5L1236.4 1009.5L1231.3 1008.6L1226.6 1007.6L1226.5 1007.8L1231.1 1009.3L1236.0 1011.0L1241.4 1012.9L1247.1 1014.4L1252.8 1015.8L1258.4 1017.1L1264.0 1018.4L1269.7 1019.8L1275.5 1021.0L1281.4 1022.2L1287.4 1023.6L1293.1 1025.0L1298.5 1026.7L1303.5 1028.5L1308.2 1030.7L1312.7 1033.2L1317.0 1036.1L1321.2 1039.6L1325.0 1043.6L1328.1 1048.0L1330.4 1052.9L1331.9 1058.0L1332.7 1063.5L1332.8 1069.2L1332.2 1075.1L1331.1 1081.1L1329.6 1087.1L1327.6 1092.9L1325.3 1098.4L1322.8 1103.4L1320.1 1108.2L1317.3 1112.8L1314.2 1117.4L1310.9 1121.9L1307.3 1126.5L1303.6 1131.0L1299.6 1135.4L1295.3 1139.7L1290.9 1143.9L1286.4 1147.8L1282.0 1151.5L1277.8 1154.9L1273.7 1158.0L1269.6 1160.9L1265.5 1163.8L1261.3 1166.6L1257.0 1169.3L1252.7 1171.9L1248.2 1174.5L1243.7 1177.1L1238.9 1179.7L1233.8 1182.4L1228.5 1185.1L1223.1 1187.7L1217.8 1190.1L1212.6 1192.3L1207.4 1194.3L1202.2 1196.2L1197.0 1197.9L1191.7 1199.5L1186.3 1201.1L1180.9 1202.5L1175.4 1203.7L1169.9 1204.9L1164.4 1205.9L1159.1 1206.7L1153.7 1207.4L1148.3 1208.0L1142.8 1208.4L1137.3 1208.7L1131.8 1208.8L1126.4 1208.9L1120.8 1209.0L1115.3 1208.9L1109.9 1208.9L1104.4 1208.8L1098.6 1208.8L1092.5 1208.8L1086.2 1208.8L1080.0 1208.7L1073.7 1208.5L1067.5 1208.2L1061.4 1207.8L1055.5 1207.2L1049.9 1206.6L1044.3 1205.8L1038.6 1205.0L1033.0 1204.2L1027.4 1203.3L1021.8 1202.5L1016.3 1201.5L1010.8 1200.6L1005.3 1199.5L999.8 1198.4L994.2 1197.2L988.7 1195.9L983.2 1194.5L977.6 1193.1L972.1 1191.6L966.5 1190.0L961.0 1188.3L955.6 1186.6L950.3 1184.9L945.3 1183.1L940.3 1181.3L935.5 1179.5L930.7 1177.5L925.7 1175.3L920.5 1172.9L915.1 1170.3L909.7 1167.5L904.5 1164.7L899.6 1162.0L894.7 1159.3L890.0 1156.5L885.3 1153.7L880.3 1150.8L875.1 1148.0L869.7 1144.9L863.9 1141.9L858.0 1138.8Z"/>
<path d="M1218.7 1192.2L1211.3 1201.9L1206.7 1190.3Z"/>
<path d="M736.9 1074.3L739.5 1079.6L742.0 1085.1L745.0 1090.6L748.1 1095.8L751.2 1100.9L754.4 1105.7L757.7 1110.3L761.3 1114.7L764.9 1119.0L768.8 1123.2L772.9 1127.2L777.3 1131.1L781.8 1134.9L786.5 1138.6L791.1 1142.1L795.7 1145.5L800.3 1148.8L805.0 1151.9L809.7 1155.0L814.5 1157.8L819.4 1160.5L824.3 1163.2L829.3 1165.8L834.4 1168.5L839.7 1171.2L845.1 1173.9L850.5 1176.6L855.8 1179.1L860.9 1181.5L865.8 1183.8L870.7 1186.1L875.6 1188.4L880.7 1190.7L886.0 1193.1L891.4 1195.6L896.8 1198.0L902.0 1200.4L907.1 1202.6L912.1 1204.8L917.0 1206.8L921.9 1208.9L927.0 1210.9L932.4 1212.9L937.9 1214.8L943.6 1216.7L949.3 1218.8L955.2 1220.8L961.0 1222.5L966.5 1224.1L971.6 1225.8L971.6 1225.6L966.7 1223.6L961.5 1221.2L956.0 1218.7L950.2 1216.3L944.5 1214.1L939.0 1211.9L933.6 1209.6L928.4 1207.5L923.3 1205.4L918.4 1203.4L913.5 1201.3L908.6 1199.2L903.5 1197.0L898.3 1194.6L892.9 1192.2L887.5 1189.7L882.3 1187.3L877.2 1185.0L872.3 1182.7L867.4 1180.4L862.5 1178.1L857.4 1175.7L852.2 1173.2L846.8 1170.5L841.4 1167.8L836.1 1165.1L831.0 1162.5L826.0 1159.9L821.2 1157.3L816.4 1154.6L811.7 1151.8L807.1 1148.8L802.5 1145.7L797.9 1142.5L793.4 1139.1L788.8 1135.6L784.2 1132.0L779.7 1128.3L775.5 1124.5L771.5 1120.6L767.7 1116.5L764.1 1112.3L760.7 1108.0L757.2 1103.6L753.7 1099.2L750.2 1094.5L746.9 1089.4L743.5 1084.3L740.1 1079.2L737.0 1074.2Z"/>
<path d="M840.2 1169.3L828.5 1170.0L834.0 1159.4Z"/>
<path d="M797.9 1170.4L802.9 1173.4L808.0 1176.7L813.2 1179.8L818.2 1182.5L822.9 1185.2L827.5 1187.7L832.1 1190.1L836.8 1192.3L841.6 1194.6L846.4 1196.8L851.4 1199.1L856.6 1201.3L861.9 1203.6L867.4 1205.8L872.9 1208.1L878.6 1210.2L884.2 1212.3L889.8 1214.3L895.3 1216.3L900.9 1218.1L906.4 1219.9L911.9 1221.7L917.3 1223.4L922.7 1225.0L928.2 1226.7L933.7 1228.3L939.2 1229.8L944.6 1231.3L949.8 1232.6L955.1 1234.0L960.5 1235.3L965.9 1236.7L971.3 1238.0L976.7 1239.3L982.0 1240.5L987.3 1241.8L992.6 1243.0L997.9 1244.2L1003.2 1245.4L1008.5 1246.5L1013.8 1247.6L1019.2 1248.6L1024.6 1249.6L1030.0 1250.6L1035.4 1251.6L1040.7 1252.4L1046.0 1253.3L1051.6 1254.2L1057.3 1255.0L1063.2 1255.8L1069.0 1256.5L1074.8 1257.2L1080.6 1257.7L1086.6 1258.1L1092.7 1258.4L1098.6 1258.7L1104.2 1259.0L1109.6 1259.3L1115.0 1259.7L1120.5 1260.0L1126.1 1260.3L1131.6 1260.4L1137.0 1260.5L1142.4 1260.5L1147.7 1260.5L1153.0 1260.2L1158.4 1259.7L1163.7 1258.8L1169.0 1257.6L1173.9 1256.0L1178.7 1254.2L1183.4 1252.2L1188.1 1250.0L1192.9 1247.6L1197.7 1245.3L1202.4 1242.9L1207.0 1240.5L1211.7 1238.2L1216.4 1235.9L1221.0 1233.6L1225.7 1231.3L1230.3 1229.0L1234.9 1226.8L1239.4 1224.4L1244.0 1222.1L1248.6 1219.7L1253.2 1217.3L1257.9 1214.8L1262.6 1212.3L1267.2 1209.8L1271.9 1207.2L1276.5 1204.6L1281.2 1201.9L1285.9 1199.1L1290.8 1196.0L1295.8 1192.9L1300.8 1189.6L1305.7 1186.3L1310.4 1183.1L1315.0 1179.9L1319.6 1176.5L1324.2 1173.0L1328.8 1169.4L1333.3 1165.8L1337.7 1162.0L1342.2 1158.1L1346.8 1154.1L1351.3 1150.0L1355.6 1146.0L1359.6 1142.1L1363.4 1138.4L1367.2 1134.6L1370.9 1130.8L1374.6 1127.0L1378.3 1123.1L1382.1 1119.1L1385.8 1115.0L1389.5 1110.8L1393.1 1106.6L1396.6 1102.2L1400.0 1097.8L1403.4 1093.3L1406.6 1088.9L1409.7 1084.4L1412.6 1079.9L1415.4 1075.4L1418.0 1070.9L1420.5 1066.3L1423.0 1061.4L1425.5 1056.2L1427.8 1050.8L1430.0 1045.2L1432.0 1039.6L1433.7 1033.9L1435.3 1028.2L1436.6 1022.5L1437.6 1016.7L1438.5 1010.7L1439.1 1004.5L1439.5 998.2L1439.7 991.9L1439.7 985.8L1439.7 980.0L1436.5 980.0L1436.5 985.8L1436.5 991.8L1436.3 998.0L1435.9 1004.3L1435.3 1010.3L1434.5 1016.2L1433.5 1021.9L1432.2 1027.5L1430.7 1033.0L1429.0 1038.6L1427.0 1044.1L1424.9 1049.6L1422.6 1054.9L1420.2 1060.0L1417.7 1064.8L1415.2 1069.3L1412.7 1073.8L1409.9 1078.2L1407.1 1082.6L1404.0 1087.0L1400.8 1091.5L1397.5 1095.9L1394.1 1100.2L1390.6 1104.5L1387.1 1108.7L1383.4 1112.9L1379.7 1116.9L1376.0 1120.9L1372.3 1124.8L1368.6 1128.6L1364.9 1132.4L1361.2 1136.1L1357.4 1139.8L1353.4 1143.7L1349.1 1147.6L1344.6 1151.7L1340.1 1155.7L1335.7 1159.6L1331.3 1163.3L1326.8 1167.0L1322.3 1170.5L1317.7 1174.0L1313.1 1177.3L1308.5 1180.5L1303.9 1183.7L1299.0 1186.9L1294.1 1190.2L1289.1 1193.4L1284.3 1196.4L1279.6 1199.2L1274.9 1201.8L1270.3 1204.4L1265.7 1207.0L1261.1 1209.5L1256.4 1212.0L1251.7 1214.5L1247.1 1216.9L1242.5 1219.3L1238.0 1221.6L1233.4 1223.9L1228.9 1226.2L1224.3 1228.5L1219.6 1230.8L1215.0 1233.1L1210.3 1235.4L1205.6 1237.7L1200.9 1240.0L1196.2 1242.4L1191.5 1244.8L1186.8 1247.1L1182.1 1249.3L1177.5 1251.3L1172.9 1253.0L1168.1 1254.5L1163.1 1255.7L1158.0 1256.5L1152.8 1257.0L1147.6 1257.3L1142.3 1257.4L1137.0 1257.3L1131.6 1257.3L1126.2 1257.1L1120.7 1256.8L1115.2 1256.5L1109.8 1256.2L1104.4 1255.9L1098.8 1255.6L1092.9 1255.3L1086.8 1254.9L1080.8 1254.5L1075.1 1254.0L1069.4 1253.4L1063.6 1252.7L1057.8 1251.9L1052.0 1251.0L1046.5 1250.2L1041.2 1249.3L1035.9 1248.4L1030.6 1247.5L1025.2 1246.5L1019.8 1245.5L1014.5 1244.5L1009.2 1243.4L1003.9 1242.2L998.6 1241.1L993.3 1239.9L988.1 1238.7L982.8 1237.4L977.4 1236.2L972.1 1234.9L966.7 1233.6L961.3 1232.2L955.9 1230.9L950.6 1229.6L945.4 1228.2L940.0 1226.8L934.6 1225.2L929.1 1223.6L923.7 1222.0L918.3 1220.3L912.8 1218.6L907.4 1216.9L901.9 1215.1L896.4 1213.2L890.8 1211.3L885.3 1209.3L879.7 1207.3L874.1 1205.1L868.6 1202.9L863.1 1200.7L857.8 1198.4L852.7 1196.2L847.7 1193.9L842.9 1191.7L838.2 1189.5L833.5 1187.2L828.8 1185.0L824.0 1182.9L819.1 1180.7L814.1 1178.1L808.7 1175.4L803.2 1172.9L798.0 1170.2Z"/>
<path d="M1173.7 1254.6L1165.8 1262.7L1162.8 1251.6Z"/>
<path d="M1220.6 1269.6L1225.1 1268.2L1230.1 1266.6L1235.7 1264.8L1241.5 1262.8L1247.1 1260.8L1252.3 1258.8L1257.0 1256.9L1261.6 1254.9L1266.3 1252.8L1271.0 1250.7L1275.8 1248.4L1280.5 1246.2L1285.2 1243.9L1289.8 1241.5L1294.3 1239.2L1298.8 1236.8L1303.3 1234.4L1307.8 1231.9L1312.3 1229.4L1316.7 1226.8L1321.1 1224.1L1325.5 1221.3L1329.8 1218.3L1334.2 1215.3L1338.5 1212.1L1342.7 1208.9L1346.9 1205.6L1351.1 1202.3L1355.3 1199.0L1359.5 1195.7L1363.7 1192.5L1367.9 1189.3L1372.1 1186.0L1376.4 1182.8L1380.6 1179.4L1384.8 1176.1L1388.9 1172.7L1392.8 1169.2L1396.7 1165.7L1400.5 1162.0L1404.2 1158.3L1407.7 1154.5L1411.2 1150.6L1414.5 1146.7L1417.9 1142.7L1421.2 1138.6L1424.5 1134.4L1427.7 1130.3L1430.9 1126.1L1434.2 1121.9L1437.4 1117.6L1440.6 1113.2L1443.7 1108.8L1446.7 1104.3L1449.6 1099.7L1452.4 1095.0L1455.1 1090.1L1457.7 1085.1L1460.2 1079.9L1462.5 1074.8L1464.8 1069.6L1466.9 1064.5L1469.0 1059.4L1471.1 1054.2L1473.2 1049.0L1475.2 1043.7L1477.2 1038.4L1479.1 1033.1L1480.8 1027.9L1482.4 1022.5L1483.8 1017.0L1485.1 1011.4L1486.1 1005.5L1487.1 999.6L1487.8 994.0L1488.5 988.9L1489.1 984.3L1489.6 980.2L1486.4 979.8L1485.9 983.9L1485.3 988.5L1484.7 993.6L1483.9 999.2L1483.0 1005.0L1481.9 1010.7L1480.7 1016.3L1479.3 1021.7L1477.8 1026.9L1476.1 1032.1L1474.2 1037.3L1472.2 1042.6L1470.2 1047.8L1468.1 1053.1L1466.1 1058.2L1464.0 1063.3L1461.8 1068.4L1459.6 1073.5L1457.3 1078.6L1454.9 1083.7L1452.3 1088.6L1449.6 1093.4L1446.9 1098.0L1444.0 1102.5L1441.1 1107.0L1438.0 1111.4L1434.8 1115.7L1431.6 1120.0L1428.4 1124.2L1425.2 1128.3L1422.0 1132.5L1418.7 1136.6L1415.4 1140.6L1412.1 1144.6L1408.8 1148.5L1405.4 1152.3L1401.9 1156.1L1398.3 1159.8L1394.5 1163.4L1390.7 1166.9L1386.8 1170.3L1382.8 1173.6L1378.6 1176.9L1374.4 1180.2L1370.2 1183.5L1366.0 1186.7L1361.8 1190.0L1357.6 1193.2L1353.3 1196.5L1349.1 1199.8L1344.9 1203.1L1340.8 1206.4L1336.6 1209.6L1332.3 1212.7L1328.0 1215.7L1323.7 1218.6L1319.4 1221.4L1315.1 1224.1L1310.7 1226.6L1306.2 1229.2L1301.8 1231.6L1297.3 1234.0L1292.8 1236.4L1288.3 1238.7L1283.8 1241.0L1279.2 1243.3L1274.4 1245.6L1269.7 1247.8L1265.0 1249.9L1260.4 1252.0L1255.8 1253.9L1251.1 1255.9L1246.0 1257.8L1240.4 1259.8L1234.7 1261.8L1229.1 1263.6L1224.2 1265.1L1219.6 1266.5Z"/>
<path d="M1329.1 1217.0L1324.1 1227.2L1317.8 1217.5Z"/>
<path d="M869.0 1230.4L873.9 1232.0L879.0 1234.0L884.7 1235.8L890.7 1237.6L896.8 1239.5L902.9 1241.4L908.9 1243.0L914.6 1244.3L919.8 1245.7L919.9 1245.6L914.7 1243.8L909.3 1241.7L903.4 1239.7L897.3 1237.8L891.2 1236.0L885.2 1234.2L879.4 1232.7L874.0 1231.5L869.1 1230.3Z"/>
<path d="M712.0 1033.6L712.6 1038.8L713.2 1044.4L714.1 1050.1L715.2 1055.8L716.5 1061.6L718.0 1067.6L719.9 1073.7L722.0 1079.6L724.0 1085.3L724.1 1085.3L722.5 1079.4L721.1 1073.3L719.7 1067.2L718.1 1061.2L716.8 1055.5L715.6 1049.8L714.4 1044.2L713.1 1038.8L712.1 1033.6Z"/>
<path d="M1121.2 1003.3L1125.9 1005.3L1130.8 1008.0L1136.3 1010.4L1142.1 1012.5L1147.8 1014.9L1153.3 1017.2L1158.5 1019.2L1163.5 1021.1L1168.5 1023.1L1173.7 1025.3L1179.3 1027.0L1185.0 1028.1L1190.4 1029.7L1190.6 1029.3L1185.7 1026.5L1180.9 1023.2L1175.9 1020.3L1170.8 1017.9L1166.0 1015.5L1161.1 1013.2L1155.8 1010.9L1150.0 1008.9L1143.9 1007.2L1137.9 1005.4L1132.0 1004.2L1126.4 1003.7L1121.3 1002.9Z"/>
<path d="M1148.4 1011.6L1162.3 1009.3L1157.0 1022.7Z"/>
<path d="M870.1 968.5L875.4 969.9L880.9 971.7L886.7 973.5L892.5 975.1L898.1 976.4L903.6 977.7L909.0 978.9L914.3 980.0L919.6 981.1L925.0 982.0L930.3 983.0L935.8 983.8L941.3 984.5L946.8 985.1L952.4 985.3L958.0 985.3L963.4 985.0L968.4 984.6L972.8 984.3L976.9 984.2L976.9 984.0L972.9 983.8L968.4 983.5L963.4 983.0L958.1 982.4L952.6 981.9L947.1 981.3L941.7 980.8L936.3 980.1L930.9 979.3L925.6 978.4L920.3 977.4L915.1 976.4L909.7 975.3L904.4 974.1L898.9 972.8L893.3 971.6L887.3 970.5L881.3 969.8L875.5 969.2L870.2 968.3Z"/>
<path d="M909.2 977.1L920.3 973.2L918.0 985.0Z"/>
<path d="M851.9 943.3L848.0 941.6L843.8 939.6L839.0 937.4L833.8 934.9L828.4 932.5L822.9 930.2L817.3 928.2L811.7 926.5L806.1 924.9L800.5 923.4L795.0 922.1L789.3 920.9L783.6 919.9L777.8 919.0L772.0 918.2L766.2 917.6L760.5 917.1L755.0 916.7L749.5 916.3L743.9 916.2L738.3 916.4L732.6 917.4L727.0 919.2L721.5 922.0L716.6 925.7L712.4 930.1L708.9 935.0L706.1 940.3L703.8 945.7L702.0 951.1L700.6 956.5L699.6 962.0L698.8 967.5L698.4 973.1L698.4 978.8L698.9 984.3L699.6 989.8L700.4 994.8L701.2 999.3L701.6 1003.4L701.9 1003.4L701.7 999.3L701.6 994.7L701.7 989.6L701.9 984.2L702.2 978.8L702.4 973.4L702.8 968.0L703.6 962.6L704.5 957.4L705.9 952.2L707.6 947.1L709.7 942.0L712.4 937.1L715.5 932.6L719.2 928.7L723.6 925.4L728.5 922.9L733.6 921.3L738.7 920.4L743.9 920.2L749.3 920.4L754.7 920.7L760.2 921.1L765.8 921.6L771.5 922.2L777.3 923.0L783.0 923.8L788.6 924.9L794.1 926.0L799.6 927.3L805.1 928.8L810.6 930.4L816.1 932.1L821.6 933.8L827.2 935.5L832.9 937.3L838.4 939.0L843.4 940.6L847.8 942.0L851.8 943.5Z"/>
<path d="M727.6 920.7L736.0 912.2L739.1 924.1Z"/>
<path d="M698.4 900.0L695.6 904.1L692.4 908.6L689.2 913.6L686.4 918.8L684.1 924.0L682.1 929.0L680.2 934.1L678.5 939.3L676.9 944.5L675.5 949.6L674.1 954.8L672.8 960.0L671.7 965.1L670.6 970.2L669.6 975.4L668.6 980.9L667.6 986.8L666.7 992.6L666.0 998.1L665.3 1003.2L668.2 1003.6L668.9 998.5L669.6 993.1L670.5 987.2L671.4 981.4L672.4 975.9L673.4 970.8L674.5 965.7L675.7 960.6L676.9 955.5L678.3 950.4L679.7 945.3L681.2 940.1L682.8 935.0L684.5 929.9L686.4 924.9L688.6 919.8L691.1 914.5L693.5 909.3L696.0 904.4L698.5 900.1Z"/>
<path d="M666.7 1003.5L662.4 993.3L673.6 994.9Z"/>
<path d="M636.7 885.1L641.3 884.3L646.3 883.4L651.6 882.2L656.8 880.3L661.7 877.6L666.1 874.5L669.9 871.3L673.4 868.4L673.4 868.3L669.6 870.9L665.4 873.5L660.8 876.0L655.9 878.3L651.0 880.5L646.0 882.3L641.2 883.8L636.7 885.0Z"/>
<path d="M1461.1 756.5L1458.1 761.3L1455.1 766.4L1452.4 772.0L1449.7 777.7L1447.2 783.5L1444.8 789.2L1442.7 794.8L1440.5 800.2L1438.4 805.4L1436.2 810.6L1434.0 815.7L1431.6 820.9L1429.1 826.1L1426.4 831.3L1423.6 836.4L1420.7 841.4L1417.7 846.3L1414.5 851.3L1411.3 856.1L1408.0 860.8L1404.6 865.4L1401.1 869.8L1397.6 874.1L1393.9 878.3L1390.0 882.5L1386.0 886.5L1381.8 890.5L1377.4 894.5L1373.0 898.6L1368.7 902.5L1364.7 906.1L1361.1 909.2L1357.7 911.9L1357.8 912.1L1361.3 909.5L1365.2 906.8L1369.6 903.7L1374.4 900.4L1379.3 896.8L1384.0 893.0L1388.5 889.1L1392.6 885.0L1396.6 880.8L1400.4 876.5L1404.0 872.1L1407.5 867.6L1411.0 863.0L1414.4 858.2L1417.6 853.3L1420.8 848.3L1423.9 843.3L1426.8 838.2L1429.7 833.1L1432.4 827.8L1435.0 822.5L1437.4 817.2L1439.7 812.0L1441.9 806.8L1444.0 801.5L1446.0 796.1L1448.1 790.4L1450.2 784.6L1452.1 778.7L1454.2 772.8L1456.6 767.1L1458.9 761.8L1461.3 756.6Z"/>
<path d="M1439.5 886.8L1434.9 888.6L1429.9 890.7L1424.5 893.2L1419.1 895.9L1414.0 898.8L1409.1 901.8L1404.4 904.9L1399.7 908.1L1395.0 911.4L1390.4 914.6L1386.0 917.8L1381.6 921.0L1377.3 924.2L1373.0 927.4L1368.6 930.4L1363.9 933.4L1358.7 936.4L1353.5 939.5L1348.3 942.3L1343.6 944.9L1339.3 947.0L1339.3 947.2L1343.8 945.2L1348.7 943.1L1354.1 940.7L1359.7 938.1L1364.9 935.2L1369.8 932.2L1374.3 929.2L1378.7 926.2L1383.1 923.1L1387.5 919.9L1391.9 916.7L1396.5 913.5L1401.2 910.3L1405.9 907.1L1410.5 904.0L1415.3 901.1L1420.3 898.2L1425.6 895.6L1430.9 893.1L1435.9 891.0L1440.5 889.2Z"/>
<path d="M1322.6 933.1L1318.4 935.0L1313.6 936.8L1308.4 938.7L1302.9 940.7L1297.5 942.9L1292.1 945.1L1286.6 947.1L1281.1 948.9L1275.4 950.6L1269.7 952.3L1263.9 954.1L1258.0 955.6L1252.0 956.7L1246.1 957.8L1240.5 959.1L1235.2 960.1L1230.3 960.8L1230.3 961.1L1235.3 961.1L1240.7 961.4L1246.5 961.5L1252.7 961.0L1258.8 960.0L1265.0 959.0L1271.1 957.8L1277.1 956.2L1282.9 954.3L1288.5 952.1L1294.0 949.8L1299.5 947.4L1304.8 944.7L1309.8 941.6L1314.5 938.5L1318.7 935.7L1322.8 933.4Z"/>
<path d="M1270.2 955.2L1279.3 945.4L1283.2 958.5Z"/>
<path d="M1402.1 947.2L1407.3 948.4L1412.5 950.4L1417.6 953.0L1422.3 956.6L1426.2 961.0L1429.4 965.9L1431.8 970.9L1433.6 975.9L1434.7 981.0L1435.5 986.2L1436.0 991.5L1436.1 996.7L1436.0 1001.5L1435.9 1006.0L1438.5 1006.1L1438.7 1001.5L1438.7 996.7L1438.6 991.4L1438.1 985.9L1437.3 980.5L1436.1 975.2L1434.2 969.9L1431.7 964.6L1428.1 959.5L1423.6 955.1L1418.5 951.4L1413.0 949.1L1407.5 947.9L1402.1 947.0Z"/>
<path d="M851.6 944.2L847.1 942.0L842.3 939.3L837.1 936.4L831.4 933.4L825.7 930.9L820.0 928.6L814.3 926.6L808.7 924.7L803.2 923.0L797.6 921.5L792.1 920.2L786.6 919.1L781.1 918.2L775.5 917.4L770.0 916.7L764.6 916.2L759.3 915.7L754.0 915.3L748.7 915.0L743.4 914.8L738.2 914.9L732.8 915.6L727.2 917.0L721.8 919.3L716.8 922.8L712.4 927.3L708.7 932.6L705.8 938.3L703.7 944.1L702.2 949.8L701.2 955.6L700.4 961.5L699.8 967.4L699.5 973.3L699.5 979.1L699.7 984.9L699.9 990.4L700.1 995.9L700.6 1001.1L701.0 1006.2L701.6 1006.2L701.8 1001.1L701.9 995.8L701.8 990.4L701.8 984.9L702.0 979.2L702.3 973.4L702.7 967.6L703.4 961.9L704.3 956.2L705.6 950.6L707.2 945.2L709.2 939.8L711.9 934.5L715.3 929.7L719.2 925.6L723.6 922.6L728.4 920.5L733.5 919.3L738.5 918.7L743.4 918.5L748.5 918.7L753.7 919.0L759.0 919.4L764.3 919.9L769.6 920.4L775.0 921.1L780.5 921.9L785.9 922.8L791.3 923.9L796.7 925.1L802.1 926.6L807.6 928.3L813.1 930.1L818.7 932.1L824.3 934.3L830.1 936.5L836.1 938.6L841.7 940.6L846.9 942.5L851.5 944.4Z"/>
<path d="M727.7 918.5L736.4 910.6L738.8 922.4Z"/>
<path d="M697.2 900.9L693.5 905.8L689.7 911.0L686.3 916.5L683.6 922.2L681.3 927.8L679.4 933.4L677.8 939.0L676.4 944.7L675.2 950.3L674.1 955.9L673.0 961.6L672.0 967.4L670.9 973.4L669.9 979.4L669.0 985.0L668.1 990.2L667.3 994.9L669.9 995.3L670.7 990.6L671.5 985.5L672.5 979.8L673.5 973.9L674.5 967.9L675.6 962.1L676.6 956.4L677.8 950.8L679.0 945.2L680.3 939.7L681.8 934.1L683.5 928.5L685.5 923.0L688.1 917.4L691.0 911.8L694.0 906.2L697.3 901.0Z"/>
<path d="M667.8 1000.2L663.8 990.1L674.8 991.9Z"/>
<path d="M870.9 968.5L875.8 970.2L881.1 972.3L886.7 974.5L892.3 976.7L897.7 978.5L902.9 980.0L907.7 981.5L912.6 982.6L917.6 983.5L922.6 984.2L928.0 984.8L933.5 985.3L939.1 985.8L945.0 986.1L950.9 986.2L957.0 985.9L963.0 985.4L968.6 984.9L973.6 984.4L978.1 984.2L978.1 983.9L973.6 983.8L968.6 983.5L963.0 983.0L957.1 982.5L951.1 982.0L945.2 981.6L939.5 981.2L933.9 980.7L928.5 980.0L923.3 979.3L918.4 978.5L913.6 977.6L908.8 976.8L904.0 975.8L898.9 974.6L893.4 973.2L887.5 971.9L881.6 970.7L876.0 969.5L871.0 968.2Z"/>
<path d="M907.1 979.0L919.2 974.6L916.7 987.5Z"/>
<path d="M640.0 885.3L644.7 884.8L649.6 884.1L654.7 882.5L659.6 879.7L663.9 876.3L667.8 872.8L671.4 869.5L671.4 869.5L667.5 872.5L663.2 875.4L658.6 878.1L653.8 880.5L649.1 882.5L644.5 884.1L640.0 885.1Z"/>
<path d="M1366.8 511.8L1369.5 515.8L1372.3 520.1L1375.4 525.0L1378.8 530.2L1382.3 535.4L1385.9 540.5L1389.3 545.2L1392.7 549.8L1396.1 554.4L1399.4 558.8L1402.8 563.1L1406.1 567.4L1409.6 571.7L1413.0 575.8L1416.5 579.9L1420.0 583.7L1423.6 587.6L1427.4 591.5L1431.7 595.2L1436.1 598.6L1440.2 601.9L1440.3 601.8L1436.4 598.3L1432.5 594.3L1428.6 590.3L1424.8 586.4L1421.3 582.6L1417.9 578.6L1414.5 574.6L1411.1 570.4L1407.7 566.2L1404.4 561.9L1401.0 557.5L1397.7 553.1L1394.4 548.6L1391.0 544.0L1387.5 539.3L1383.9 534.3L1380.1 529.3L1376.3 524.4L1372.8 519.8L1369.7 515.6L1366.9 511.8Z"/>
<path d="M1413.5 605.2L1415.6 609.6L1417.8 614.4L1420.2 619.7L1422.8 625.2L1425.6 630.5L1428.4 635.4L1431.2 640.1L1433.8 644.8L1436.4 649.6L1438.9 654.7L1441.4 660.0L1443.9 665.5L1446.3 670.8L1448.4 675.7L1450.2 680.2L1450.3 680.2L1448.8 675.5L1447.3 670.4L1445.6 664.8L1443.7 659.0L1441.4 653.5L1438.9 648.3L1436.2 643.5L1433.5 638.8L1430.8 634.0L1428.0 629.1L1425.0 624.0L1421.8 618.8L1418.8 613.9L1416.0 609.4L1413.6 605.2Z"/>
<path d="M1442.3 658.8L1433.3 652.6L1443.4 647.9Z"/>
<path d="M1376.5 495.5L1379.4 499.0L1382.7 503.0L1386.3 507.3L1390.0 511.9L1393.6 516.3L1396.9 520.2L1399.8 523.8L1400.6 523.2L1397.6 519.6L1394.4 515.6L1390.8 511.3L1387.0 506.7L1383.4 502.3L1380.2 498.4L1377.3 494.8Z"/>
<path d="M1308.2 427.2L1312.1 429.7L1316.5 432.4L1321.3 435.5L1326.6 438.9L1331.8 442.2L1336.7 445.3L1341.0 448.1L1344.9 450.5L1345.5 449.7L1341.5 447.2L1337.2 444.5L1332.4 441.4L1327.1 438.0L1321.9 434.7L1317.0 431.6L1312.7 428.8L1308.8 426.3Z"/>
<path d="M1385.2 426.8L1388.8 430.2L1392.6 434.0L1396.9 438.3L1401.3 442.7L1405.8 447.0L1410.1 451.1L1414.2 455.0L1418.2 458.9L1422.1 462.9L1425.9 467.0L1429.7 471.4L1433.6 476.0L1437.4 480.8L1440.9 485.4L1444.1 489.6L1446.9 493.5L1446.9 493.4L1444.3 489.4L1441.5 485.0L1438.3 480.1L1434.8 475.0L1431.1 470.2L1427.2 465.8L1423.4 461.7L1419.4 457.7L1415.4 453.7L1411.3 449.8L1407.0 445.7L1402.4 441.5L1397.7 437.4L1393.1 433.5L1389.0 430.0L1385.2 426.7Z"/>
<path d="M1469.7 513.5L1470.6 519.3L1471.4 525.2L1472.3 531.1L1473.1 536.9L1474.1 536.8L1473.3 531.0L1472.4 525.1L1471.6 519.2L1470.7 513.4Z"/>
<path d="M1406.8 390.1L1409.2 393.2L1411.7 396.5L1414.6 400.4L1417.7 404.6L1421.2 409.3L1424.7 414.2L1428.4 419.2L1432.0 424.2L1435.6 429.0L1438.9 433.6L1442.0 437.9L1444.9 442.1L1447.8 446.2L1450.6 450.3L1453.5 454.5L1456.3 458.7L1459.1 462.9L1461.9 467.2L1464.7 471.4L1467.4 475.7L1470.0 479.9L1472.6 484.3L1475.3 488.7L1477.9 493.2L1480.4 497.7L1483.0 502.2L1485.4 506.8L1487.9 511.3L1490.2 515.8L1492.5 520.4L1494.8 524.9L1497.0 529.5L1499.3 534.3L1501.5 539.3L1503.8 544.4L1506.0 549.6L1508.2 554.9L1510.3 560.1L1512.3 565.2L1514.2 570.2L1516.0 575.0L1517.6 579.7L1519.2 584.5L1520.7 589.3L1521.9 594.0L1522.9 598.6L1523.9 603.3L1524.8 608.1L1525.7 613.1L1526.7 618.2L1527.6 623.2L1528.6 628.3L1529.6 633.6L1530.6 639.1L1531.6 644.7L1532.7 650.4L1533.7 656.0L1534.8 661.6L1535.8 667.2L1536.9 672.9L1538.1 678.7L1539.4 684.7L1540.6 690.7L1541.9 696.6L1543.1 702.2L1544.3 707.4L1545.3 712.0L1546.1 716.2L1546.9 719.9L1547.0 719.9L1546.3 716.1L1545.6 712.0L1544.9 707.3L1544.0 702.0L1543.1 696.3L1542.2 690.4L1541.2 684.4L1540.2 678.4L1539.2 672.5L1538.1 666.8L1537.1 661.2L1536.0 655.6L1535.0 649.9L1533.9 644.3L1532.9 638.7L1531.9 633.2L1530.9 627.9L1529.9 622.7L1529.0 617.7L1528.0 612.7L1527.1 607.7L1526.2 602.8L1525.2 598.1L1524.2 593.4L1522.9 588.6L1521.4 583.8L1519.9 579.0L1518.2 574.2L1516.4 569.4L1514.5 564.4L1512.5 559.2L1510.4 554.0L1508.2 548.7L1505.9 543.4L1503.7 538.3L1501.4 533.3L1499.2 528.5L1496.9 523.9L1494.6 519.3L1492.3 514.8L1489.9 510.2L1487.5 505.6L1485.0 501.1L1482.5 496.5L1479.9 492.0L1477.3 487.5L1474.6 483.0L1472.0 478.7L1469.3 474.4L1466.6 470.2L1463.9 465.9L1461.1 461.6L1458.3 457.4L1455.4 453.2L1452.6 449.0L1449.7 444.9L1446.8 440.7L1443.9 436.6L1440.8 432.3L1437.4 427.7L1433.7 422.9L1429.9 418.0L1426.0 413.2L1422.1 408.5L1418.4 404.1L1415.0 400.0L1412.0 396.3L1409.3 393.1L1406.9 390.0Z"/>
<path d="M1525.9 608.0L1533.0 616.0L1522.3 618.0Z"/>
<path d="M1345.9 347.3L1348.9 351.8L1352.1 356.6L1355.6 361.8L1359.0 367.0L1362.5 372.1L1365.8 377.1L1369.0 382.0L1372.2 386.9L1375.3 391.7L1378.3 396.5L1381.2 401.2L1384.3 405.8L1387.5 410.1L1391.2 414.1L1395.6 417.3L1400.2 420.2L1400.2 420.1L1396.1 416.7L1392.3 413.0L1388.8 409.1L1385.7 404.8L1382.8 400.2L1380.0 395.5L1377.1 390.6L1374.1 385.7L1370.9 380.8L1367.6 375.8L1364.3 370.9L1360.9 365.8L1357.4 360.5L1354.0 355.4L1350.8 350.6L1347.8 346.1Z"/>
<path d="M1357.2 362.2L1366.7 366.8L1357.8 372.8Z"/>
<path d="M1273.0 332.5L1277.6 335.2L1282.5 338.0L1287.8 341.1L1293.3 344.3L1298.8 347.6L1304.2 350.9L1309.5 354.3L1314.4 357.7L1318.8 361.0L1323.0 364.1L1324.0 362.7L1319.9 359.6L1315.4 356.3L1310.5 352.9L1305.2 349.4L1299.7 346.1L1294.2 342.8L1288.7 339.5L1283.4 336.5L1278.5 333.6L1273.9 331.0Z"/>
<path d="M1305.9 350.9L1316.2 351.5L1310.4 360.1Z"/>
<path d="M1293.1 325.8L1296.6 327.9L1300.5 330.2L1304.9 332.8L1309.6 335.7L1314.3 338.6L1319.0 341.6L1323.6 344.7L1328.1 348.1L1332.4 351.4L1336.2 354.5L1339.7 357.4L1340.7 356.1L1337.3 353.2L1333.4 350.1L1329.1 346.8L1324.5 343.4L1319.9 340.2L1315.2 337.2L1310.4 334.3L1305.7 331.4L1301.4 328.8L1297.5 326.5L1293.9 324.4Z"/>
<path d="M1501.1 705.9L1503.6 711.1L1506.1 716.5L1508.7 721.9L1511.1 727.1L1513.3 732.0L1515.4 736.8L1517.5 741.7L1519.5 746.5L1521.4 751.3L1523.3 756.1L1525.1 760.9L1526.8 765.7L1528.5 770.8L1530.1 775.9L1531.7 781.0L1533.1 785.8L1534.3 790.2L1535.9 789.8L1534.6 785.3L1533.2 780.6L1531.7 775.4L1530.0 770.2L1528.3 765.2L1526.6 760.3L1524.8 755.5L1522.9 750.7L1521.0 745.9L1519.0 741.0L1516.9 736.2L1514.8 731.3L1512.6 726.4L1510.2 721.2L1507.6 715.8L1505.1 710.4L1502.6 705.2Z"/>
<path d="M1597.4 732.9L1596.6 737.8L1595.8 743.3L1594.8 749.1L1593.9 755.0L1593.0 760.4L1592.3 765.4L1593.2 765.5L1594.0 760.5L1594.9 755.1L1595.8 749.3L1596.8 743.4L1597.6 738.0L1598.4 733.0Z"/>
<path d="M1020.1 295.7L1016.2 295.4L1011.8 295.0L1006.9 294.6L1001.5 294.1L995.9 293.7L990.3 293.4L984.9 293.3L979.6 293.3L974.3 293.4L969.1 293.6L964.0 293.9L958.9 294.3L953.9 294.8L948.8 295.6L943.8 296.5L938.8 297.7L933.9 299.0L929.0 300.5L924.1 302.1L919.2 303.7L914.1 305.4L909.0 307.2L903.8 309.0L898.6 311.0L893.4 312.9L888.2 314.9L883.0 316.9L877.8 318.9L872.6 320.9L867.4 323.0L862.3 325.2L857.1 327.4L852.0 329.7L847.0 332.1L841.9 334.6L837.0 337.1L832.1 339.7L827.3 342.4L822.5 345.2L817.7 348.2L813.0 351.1L808.3 354.1L803.5 357.0L798.6 360.1L793.6 363.1L788.9 366.1L784.7 368.7L780.7 371.1L780.7 371.2L784.8 369.0L789.3 366.8L794.3 364.3L799.4 361.6L804.5 358.7L809.4 355.7L814.1 352.8L818.8 349.9L823.5 347.0L828.3 344.2L833.1 341.5L838.0 338.9L842.9 336.4L847.9 334.0L852.9 331.6L858.0 329.3L863.1 327.1L868.2 324.9L873.4 322.8L878.6 320.8L883.8 318.8L889.0 316.8L894.2 314.8L899.3 312.9L904.5 311.0L909.7 309.1L914.8 307.3L919.8 305.6L924.8 304.0L929.6 302.5L934.5 301.0L939.3 299.7L944.2 298.5L949.2 297.6L954.1 296.9L959.1 296.3L964.1 296.0L969.2 295.7L974.4 295.5L979.6 295.4L984.9 295.4L990.3 295.4L995.9 295.4L1001.5 295.4L1006.9 295.4L1011.8 295.5L1016.2 295.6L1020.1 295.8Z"/>
<path d="M884.0 317.6L890.5 309.4L894.3 319.4Z"/>
<path d="M904.8 334.1L901.1 335.2L897.0 336.3L892.4 337.6L887.3 339.0L881.9 340.5L876.5 342.2L871.2 344.0L866.1 346.0L861.2 348.1L856.3 350.4L851.6 352.8L847.0 355.3L842.4 357.9L837.8 360.5L833.1 363.2L828.3 366.0L823.4 368.9L818.5 371.8L813.6 374.8L808.7 377.8L803.6 380.8L798.4 384.1L793.1 387.4L787.9 390.8L783.1 393.9L778.7 396.7L774.8 399.2L774.8 399.2L778.8 396.9L783.3 394.4L788.4 391.6L793.8 388.6L799.2 385.5L804.5 382.4L809.6 379.3L814.5 376.3L819.4 373.3L824.3 370.4L829.2 367.5L834.0 364.7L838.7 362.0L843.3 359.4L847.8 356.9L852.4 354.4L857.1 352.0L861.9 349.7L866.8 347.6L871.8 345.6L877.0 343.6L882.3 341.7L887.6 339.9L892.6 338.2L897.1 336.7L901.2 335.3L904.9 334.2Z"/>
<path d="M862.0 348.6L868.1 340.5L872.1 350.1Z"/>
<path d="M1014.0 279.4L1018.2 280.5L1022.8 281.7L1028.1 283.1L1033.7 284.6L1039.6 286.1L1045.4 287.7L1051.2 289.3L1056.9 291.0L1062.7 292.8L1068.2 294.5L1073.3 296.2L1077.8 297.6L1081.9 298.9L1082.5 297.2L1078.4 295.9L1073.9 294.5L1068.8 292.8L1063.2 291.1L1057.4 289.3L1051.6 287.6L1045.9 286.0L1040.0 284.4L1034.2 282.8L1028.5 281.4L1023.3 280.0L1018.7 278.8L1014.4 277.7Z"/>
<path d="M1046.8 287.1L1056.6 284.6L1053.8 294.6Z"/>
<path d="M1044.7 260.9L1049.3 265.4L1054.2 269.3L1059.2 272.4L1064.2 274.8L1069.3 276.7L1074.5 278.4L1079.8 280.2L1085.0 281.8L1090.2 283.5L1095.5 285.1L1100.7 286.7L1106.0 288.4L1111.4 290.1L1116.9 291.9L1122.5 293.7L1128.0 295.6L1133.6 297.5L1139.1 299.3L1144.7 301.3L1150.2 303.2L1155.5 305.1L1160.3 306.8L1164.7 308.4L1165.3 306.7L1160.9 305.1L1156.1 303.4L1150.8 301.5L1145.2 299.6L1139.7 297.7L1134.2 295.8L1128.6 293.9L1123.0 292.0L1117.5 290.2L1112.0 288.4L1106.6 286.7L1101.2 285.0L1096.0 283.4L1090.8 281.8L1085.6 280.1L1080.3 278.5L1075.1 276.8L1069.9 275.0L1064.9 273.1L1060.0 270.9L1055.2 267.9L1050.5 264.0L1045.9 259.6Z"/>
<path d="M1107.1 287.8L1117.1 285.5L1113.9 295.4Z"/>
<path d="M1003.5 251.7L1006.5 255.5L1008.4 259.7L1008.7 264.2L1007.9 269.0L1008.8 269.2L1009.6 264.2L1009.3 259.4L1007.3 255.1L1004.2 251.1Z"/>
<path d="M1273.9 331.9L1277.5 334.4L1281.5 337.0L1286.0 340.0L1291.0 343.3L1296.0 346.6L1300.9 349.9L1305.8 353.3L1310.8 356.8L1316.0 360.6L1321.1 364.4L1322.2 363.0L1317.0 359.1L1311.9 355.4L1306.8 351.8L1301.9 348.5L1297.0 345.1L1291.9 341.8L1287.0 338.5L1282.5 335.5L1278.5 332.9L1274.9 330.5Z"/>
<path d="M1315.3 358.9L1305.1 358.0L1311.2 349.6Z"/>
<path d="M1345.8 346.8L1348.4 350.1L1351.3 353.7L1354.5 357.8L1358.0 362.3L1361.5 366.9L1364.8 371.3L1368.1 375.8L1371.4 380.3L1374.7 384.8L1377.9 389.2L1380.8 393.2L1383.3 396.8L1385.6 400.0L1387.8 398.4L1385.4 395.2L1382.9 391.7L1380.0 387.7L1376.8 383.3L1373.5 378.7L1370.2 374.2L1366.9 369.8L1363.6 365.3L1360.1 360.7L1356.6 356.2L1353.3 352.1L1350.4 348.4L1347.8 345.2Z"/>
<path d="M1359.4 362.0L1369.5 366.1L1360.6 372.8Z"/>
<path d="M1294.6 326.0L1298.3 328.5L1302.4 331.1L1306.9 334.1L1311.7 337.3L1316.5 340.6L1321.1 344.0L1325.6 347.5L1329.8 350.9L1333.7 354.2L1337.2 357.2L1340.3 360.0L1341.5 358.6L1338.3 355.9L1334.9 352.9L1331.0 349.6L1326.7 346.1L1322.2 342.6L1317.5 339.2L1312.7 335.8L1307.9 332.6L1303.4 329.6L1299.3 327.0L1295.5 324.5Z"/>
<path d="M651.9 818.1L649.0 813.6L646.1 808.6L643.1 803.2L640.1 797.9L637.3 792.7L634.8 787.6L632.5 782.5L630.3 777.3L628.1 772.0L625.8 766.4L623.7 760.8L621.6 755.1L619.8 749.4L618.0 743.8L616.5 738.4L615.0 733.4L613.6 729.2L612.2 725.9L610.8 723.3L608.3 724.7L609.6 727.2L610.9 730.2L612.3 734.3L613.7 739.2L615.3 744.6L617.0 750.3L618.9 756.0L621.0 761.8L623.1 767.5L625.4 773.1L627.7 778.4L630.0 783.6L632.4 788.7L635.0 793.9L637.9 799.1L641.3 804.4L645.0 809.3L648.6 813.9L651.8 818.2Z"/>
<path d="M610.4 724.8L619.1 731.7L608.5 735.7Z"/>
<path d="M571.9 867.5L574.8 861.4L577.8 855.6L580.9 850.7L584.1 846.5L587.2 842.8L585.8 841.6L582.7 845.4L579.5 849.6L576.2 854.8L573.2 860.6L570.3 866.8Z"/>
<path d="M589.5 838.4L588.1 848.5L579.9 842.1Z"/>
<path d="M572.6 753.5L570.0 757.8L567.3 762.2L564.6 766.5L562.0 770.8L562.9 771.3L565.5 767.1L568.2 762.7L570.8 758.3L573.5 754.0Z"/>
<path d="M560.0 775.1L560.1 765.1L568.8 770.4Z"/>
<path d="M579.8 915.1L579.1 921.4L578.6 927.7L578.6 933.9L578.8 939.8L579.3 945.1L579.8 950.1L581.6 949.9L581.1 944.9L580.6 939.6L580.3 933.9L580.4 927.8L580.9 921.6L581.6 915.3Z"/>
<path d="M1252.1 253.6L1247.0 251.8L1241.6 249.5L1235.7 247.2L1229.7 245.2L1223.7 243.4L1217.8 241.6L1212.0 239.8L1206.1 238.2L1200.2 236.8L1194.3 235.3L1188.4 233.9L1182.4 232.7L1176.5 231.5L1170.5 230.4L1164.5 229.3L1158.5 228.3L1152.5 227.5L1146.5 226.8L1140.4 226.1L1134.4 225.4L1128.3 224.9L1122.3 224.4L1116.2 224.0L1110.1 223.6L1104.0 223.3L1098.0 223.1L1091.9 222.9L1085.8 222.8L1079.7 222.8L1073.7 222.8L1067.6 222.9L1061.5 223.1L1055.4 223.3L1049.4 223.6L1043.3 224.0L1037.2 224.4L1031.2 224.9L1025.1 225.5L1019.1 226.1L1013.0 226.8L1007.0 227.6L1001.0 228.4L994.9 229.3L988.9 230.3L982.9 231.3L977.0 232.4L971.0 233.5L965.0 234.7L959.1 236.0L953.2 237.3L947.3 238.8L941.4 240.2L935.5 241.8L929.6 243.4L923.8 245.0L917.9 246.8L912.1 248.5L906.3 250.4L900.6 252.3L894.8 254.3L889.1 256.3L883.4 258.4L877.7 260.6L872.0 262.8L866.4 265.1L860.8 267.5L855.2 269.9L849.7 272.3L844.1 274.9L838.6 277.5L833.2 280.1L827.7 282.8L822.3 285.6L816.9 288.4L811.6 291.3L806.2 294.2L800.9 297.2L795.7 300.3L790.5 303.4L785.3 306.6L780.1 309.8L775.0 313.1L769.9 316.4L764.9 319.8L759.9 323.2L754.9 326.7L750.0 330.3L745.1 333.9L740.2 337.6L735.4 341.3L730.6 345.0L725.9 348.9L721.2 352.7L716.6 356.6L711.9 360.6L707.4 364.6L702.9 368.7L698.4 372.8L694.0 377.0L689.6 381.2L685.2 385.4L680.9 389.8L676.7 394.1L672.5 398.5L668.4 402.9L664.3 407.4L660.2 412.0L656.2 416.5L652.2 421.2L648.3 425.8L644.5 430.5L640.7 435.3L636.9 440.1L633.2 444.9L629.6 449.8L626.0 454.7L622.5 459.6L619.0 464.6L615.6 469.6L612.2 474.7L608.9 479.8L605.6 484.9L602.4 490.1L599.2 495.3L596.1 500.5L593.1 505.8L590.1 511.1L587.2 516.4L584.3 521.7L581.5 527.1L578.8 532.6L576.1 538.0L573.5 543.5L571.1 549.1L568.7 554.7L566.3 560.3L564.0 565.9L561.9 571.6L559.8 577.3L557.7 583.0L555.7 588.7L553.9 594.5L552.2 600.5L550.3 606.5L548.6 612.6L547.2 618.7L546.0 624.4L544.7 629.7L545.2 629.9L547.0 624.8L549.3 619.4L551.7 613.6L553.9 607.7L556.0 601.8L558.4 596.1L560.7 590.6L563.0 585.0L565.3 579.5L567.7 574.0L570.2 568.5L572.6 563.0L575.1 557.6L577.7 552.1L580.4 546.8L583.0 541.4L585.7 536.0L588.4 530.7L591.2 525.3L594.0 520.1L596.9 514.8L599.8 509.6L602.8 504.4L605.9 499.2L609.0 494.1L612.1 489.0L615.4 483.9L618.6 478.9L622.0 473.9L625.3 469.0L628.8 464.1L632.3 459.2L635.8 454.4L639.4 449.6L643.0 444.8L646.7 440.1L650.5 435.4L654.3 430.8L658.1 426.2L662.0 421.6L666.0 417.1L670.0 412.6L674.0 408.2L678.1 403.8L682.3 399.5L686.4 395.2L690.7 390.9L695.0 386.7L699.3 382.6L703.6 378.5L708.1 374.4L712.5 370.4L717.0 366.4L721.6 362.5L726.1 358.7L730.8 354.8L735.4 351.1L740.2 347.4L744.9 343.7L749.7 340.1L754.5 336.5L759.4 333.0L764.3 329.6L769.2 326.2L774.2 322.8L779.2 319.5L784.3 316.3L789.3 313.1L794.5 310.0L799.6 306.9L804.8 303.9L810.0 301.0L815.3 298.1L820.5 295.2L825.8 292.4L831.2 289.7L836.6 287.0L841.9 284.4L847.4 281.9L852.8 279.4L858.3 276.9L863.8 274.6L869.3 272.2L874.9 270.0L880.5 267.8L886.1 265.7L891.7 263.6L897.4 261.6L903.0 259.6L908.7 257.7L914.4 255.9L920.2 254.1L925.9 252.4L931.7 250.8L937.5 249.2L943.3 247.7L949.1 246.3L954.9 244.9L960.8 243.5L966.6 242.3L972.5 241.1L978.4 239.9L984.3 238.9L990.2 237.9L996.1 236.9L1002.1 236.1L1008.0 235.2L1013.9 234.5L1019.9 233.8L1025.9 233.2L1031.8 232.6L1037.8 232.1L1043.8 231.7L1049.8 231.4L1055.8 231.1L1061.8 230.8L1067.7 230.7L1073.7 230.6L1079.7 230.5L1085.7 230.6L1091.7 230.6L1097.7 230.8L1103.7 231.0L1109.7 231.3L1115.7 231.7L1121.7 232.1L1127.6 232.6L1133.6 233.1L1139.6 233.7L1145.5 234.4L1151.5 235.2L1157.4 236.0L1163.4 236.8L1169.3 237.6L1175.3 238.4L1181.2 239.5L1187.1 240.5L1193.0 241.5L1198.9 242.5L1204.8 243.8L1210.7 245.0L1216.6 246.1L1222.6 247.4L1228.7 248.9L1234.8 250.4L1240.9 251.6L1246.7 252.8L1251.9 254.1Z"/>
<path d="M994.6 233.2L1006.1 223.9L1008.3 238.9Z"/>
<path d="M700.3 376.3L704.6 362.1L714.8 373.3Z"/>
<path d="M1408.0 331.7L1403.9 328.6L1399.5 325.2L1394.8 321.5L1389.9 318.0L1385.0 314.6L1380.2 311.3L1375.4 308.0L1370.5 304.9L1365.6 301.9L1360.6 298.9L1355.6 296.1L1350.6 293.2L1345.5 290.5L1340.4 287.7L1335.3 285.1L1330.1 282.5L1325.0 279.9L1319.8 277.4L1314.5 275.0L1309.3 272.6L1304.0 270.3L1298.7 268.0L1293.4 265.7L1288.0 263.6L1282.7 261.4L1277.3 259.4L1271.9 257.4L1266.4 255.4L1261.0 253.5L1255.5 251.7L1250.0 249.9L1244.5 248.2L1239.0 246.5L1233.4 245.0L1227.8 243.4L1222.3 242.0L1216.7 240.6L1211.0 239.4L1205.2 238.3L1199.4 237.1L1193.4 236.0L1187.5 235.2L1182.0 234.4L1176.9 233.6L1176.9 233.8L1181.9 234.9L1187.3 236.3L1193.0 237.8L1198.9 239.2L1204.7 240.6L1210.3 242.1L1215.9 243.7L1221.4 245.2L1226.9 246.7L1232.5 248.3L1238.0 249.9L1243.4 251.6L1248.9 253.3L1254.4 255.1L1259.8 256.9L1265.2 258.8L1270.6 260.7L1276.0 262.7L1281.4 264.8L1286.7 266.9L1292.0 269.0L1297.3 271.3L1302.6 273.5L1307.8 275.8L1313.0 278.2L1318.2 280.7L1323.4 283.1L1328.5 285.7L1333.7 288.3L1338.8 290.9L1343.8 293.6L1348.9 296.3L1353.9 299.1L1358.9 302.0L1363.8 304.8L1368.8 307.8L1373.7 310.7L1378.7 313.6L1383.7 316.5L1388.7 319.8L1393.8 323.0L1398.9 326.1L1403.6 329.0L1407.9 331.8Z"/>
<path d="M1286.1 273.2L1281.1 271.1L1275.9 268.7L1270.3 266.2L1264.4 263.9L1258.6 261.7L1252.9 259.6L1247.3 257.5L1241.6 255.6L1235.8 253.9L1230.1 252.2L1224.3 250.6L1218.5 249.0L1212.7 247.6L1206.9 246.2L1201.1 244.8L1195.2 243.5L1189.4 242.3L1183.5 241.2L1177.6 240.1L1171.7 239.0L1165.8 238.1L1159.9 237.2L1154.0 236.3L1148.0 235.6L1142.1 234.9L1136.1 234.2L1130.2 233.7L1124.2 233.1L1118.2 232.7L1112.3 232.3L1106.3 232.0L1100.3 231.7L1094.3 231.6L1088.3 231.4L1082.3 231.4L1076.4 231.4L1070.4 231.5L1064.4 231.6L1058.4 231.8L1052.4 232.1L1046.4 232.4L1040.5 232.8L1034.5 233.2L1028.5 233.8L1022.6 234.4L1016.6 235.0L1010.7 235.7L1004.7 236.5L998.8 237.4L992.9 238.3L987.0 239.3L981.1 240.3L975.2 241.4L969.3 242.6L963.5 243.8L957.6 245.1L951.8 246.5L946.0 247.9L940.2 249.4L934.4 250.9L928.6 252.5L922.9 254.2L917.2 255.9L911.5 257.7L905.8 259.6L900.1 261.5L894.4 263.5L888.8 265.5L883.2 267.6L877.6 269.8L872.1 272.0L866.5 274.3L861.0 276.7L855.5 279.1L850.1 281.5L844.7 284.1L839.3 286.6L833.9 289.3L828.5 292.0L823.2 294.7L817.9 297.6L812.7 300.4L807.5 303.4L802.3 306.3L797.1 309.4L792.0 312.5L786.9 315.6L781.9 318.8L776.8 322.1L771.9 325.4L766.9 328.8L762.0 332.2L757.1 335.7L752.3 339.2L747.5 342.8L742.7 346.4L738.0 350.1L733.3 353.9L728.7 357.6L724.1 361.5L719.5 365.4L715.0 369.3L710.6 373.3L706.1 377.3L701.8 381.4L697.4 385.5L693.1 389.7L688.9 393.9L684.7 398.2L680.5 402.5L676.4 406.9L672.4 411.3L668.3 415.7L664.4 420.2L660.5 424.7L656.6 429.3L652.8 433.9L649.0 438.6L645.3 443.3L641.6 448.0L638.0 452.8L634.5 457.6L631.0 462.4L627.5 467.3L624.1 472.2L620.8 477.2L617.5 482.2L614.2 487.2L611.1 492.3L607.9 497.4L604.9 502.6L601.8 507.7L598.9 512.9L596.0 518.2L593.1 523.4L590.3 528.7L587.6 534.1L585.0 539.4L582.4 544.8L579.8 550.2L577.4 555.7L575.2 561.3L573.0 567.0L570.7 572.8L568.5 578.6L566.6 584.5L564.8 590.0L563.1 595.1L563.3 595.1L565.3 590.2L567.7 585.0L570.3 579.4L572.8 573.6L575.3 568.0L577.9 562.5L580.6 557.2L583.1 551.8L585.7 546.4L588.3 541.1L591.0 535.8L593.7 530.5L596.5 525.2L599.3 520.0L602.2 514.8L605.1 509.6L608.1 504.5L611.2 499.4L614.3 494.3L617.4 489.3L620.7 484.3L623.9 479.3L627.3 474.4L630.6 469.5L634.1 464.6L637.5 459.8L641.1 455.0L644.7 450.3L648.3 445.6L652.0 440.9L655.7 436.3L659.5 431.7L663.4 427.2L667.2 422.7L671.2 418.2L675.2 413.8L679.2 409.4L683.3 405.1L687.4 400.8L691.6 396.6L695.8 392.4L700.0 388.3L704.4 384.2L708.7 380.1L713.1 376.1L717.5 372.1L722.0 368.2L726.5 364.4L731.1 360.6L735.7 356.8L740.4 353.1L745.0 349.4L749.8 345.8L754.5 342.3L759.3 338.8L764.2 335.3L769.1 331.9L774.0 328.6L778.9 325.3L783.9 322.0L788.9 318.8L794.0 315.7L799.1 312.6L804.2 309.6L809.3 306.7L814.5 303.8L819.7 300.9L825.0 298.1L830.3 295.4L835.6 292.7L840.9 290.1L846.3 287.5L851.7 285.0L857.1 282.5L862.5 280.2L868.0 277.8L873.5 275.6L879.0 273.3L884.6 271.2L890.1 269.1L895.7 267.1L901.3 265.1L907.0 263.2L912.6 261.4L918.3 259.6L924.0 257.8L929.7 256.2L935.4 254.6L941.2 253.0L946.9 251.6L952.7 250.2L958.5 248.8L964.3 247.5L970.1 246.3L975.9 245.1L981.8 244.0L987.6 243.0L993.5 242.0L999.4 241.1L1005.3 240.3L1011.2 239.5L1017.1 238.8L1023.0 238.1L1028.9 237.6L1034.8 237.0L1040.7 236.6L1046.7 236.2L1052.6 235.8L1058.5 235.6L1064.5 235.4L1070.4 235.2L1076.4 235.2L1082.3 235.2L1088.3 235.2L1094.2 235.3L1100.2 235.5L1106.1 235.8L1112.0 236.1L1118.0 236.5L1123.9 236.9L1129.8 237.4L1135.7 238.0L1141.7 238.6L1147.6 239.3L1153.5 240.1L1159.3 240.9L1165.2 241.8L1171.1 242.8L1176.9 243.8L1182.8 244.9L1188.6 246.0L1194.4 247.2L1200.3 248.5L1206.1 249.9L1211.8 251.3L1217.6 252.7L1223.3 254.2L1229.1 255.8L1234.8 257.4L1240.5 259.1L1246.2 260.8L1252.0 262.4L1257.8 264.1L1263.6 266.1L1269.6 268.1L1275.4 269.9L1280.9 271.6L1286.0 273.3Z"/>
<path d="M840.4 288.2L847.0 278.4L852.2 289.3Z"/>
<path d="M1266.3 271.5L1261.3 269.6L1256.1 267.6L1250.5 265.4L1244.7 263.4L1238.9 261.5L1233.3 259.6L1227.7 257.8L1222.1 256.2L1216.4 254.7L1210.7 253.2L1205.0 251.8L1199.3 250.5L1193.6 249.3L1187.9 248.1L1182.2 247.0L1176.4 245.9L1170.6 244.9L1164.9 243.9L1159.1 243.1L1153.3 242.3L1147.5 241.5L1141.7 240.8L1135.8 240.2L1130.0 239.6L1124.2 239.1L1118.4 238.7L1112.5 238.3L1106.7 238.0L1100.8 237.7L1095.0 237.5L1089.1 237.4L1083.3 237.3L1077.4 237.3L1071.6 237.4L1065.7 237.5L1059.9 237.7L1054.0 237.9L1048.2 238.2L1042.3 238.6L1036.5 239.0L1030.7 239.5L1024.8 240.1L1019.0 240.7L1013.2 241.4L1007.4 242.2L1001.6 243.0L995.8 243.8L990.0 244.8L984.3 245.8L978.5 246.8L972.8 247.9L967.0 249.1L961.3 250.4L955.6 251.7L949.9 253.0L944.2 254.5L938.6 255.9L932.9 257.5L927.3 259.1L921.7 260.8L916.1 262.5L910.5 264.3L905.0 266.1L899.4 268.0L893.9 270.0L888.4 272.0L883.0 274.1L877.5 276.3L872.1 278.5L866.7 280.7L861.3 283.0L856.0 285.4L850.7 287.8L845.4 290.3L840.1 292.9L834.8 295.5L829.6 298.1L824.4 300.8L819.3 303.6L814.2 306.4L809.1 309.3L804.0 312.2L799.0 315.2L794.0 318.3L789.0 321.3L784.1 324.5L779.2 327.7L774.3 330.9L769.5 334.2L764.7 337.6L759.9 341.0L755.2 344.5L750.5 348.0L745.9 351.5L741.2 355.1L736.7 358.8L732.1 362.5L727.7 366.3L723.2 370.1L718.8 373.9L714.4 377.8L710.1 381.7L705.8 385.7L701.6 389.8L697.4 393.8L693.2 398.0L689.1 402.1L685.1 406.4L681.0 410.6L677.1 414.9L673.1 419.2L669.3 423.6L665.4 428.1L661.7 432.5L657.9 437.0L654.2 441.6L650.6 446.2L647.0 450.8L643.5 455.4L640.0 460.1L636.5 464.9L633.1 469.6L629.8 474.5L626.5 479.3L623.3 484.2L620.1 489.1L617.0 494.0L613.9 499.0L610.9 504.0L608.0 509.1L605.1 514.2L602.2 519.3L599.5 524.5L596.9 529.7L594.3 535.1L591.7 540.6L589.1 546.1L586.7 551.7L584.6 556.9L582.5 561.7L582.6 561.8L585.0 557.1L587.6 552.1L590.4 546.8L593.2 541.3L596.0 536.0L598.9 530.8L601.8 525.7L604.6 520.6L607.5 515.6L610.4 510.5L613.4 505.5L616.4 500.5L619.4 495.6L622.6 490.7L625.7 485.8L628.9 480.9L632.2 476.1L635.5 471.3L638.9 466.6L642.3 461.9L645.8 457.2L649.3 452.5L652.9 447.9L656.5 443.4L660.2 438.9L663.9 434.4L667.6 429.9L671.4 425.5L675.3 421.2L679.2 416.9L683.2 412.6L687.2 408.4L691.2 404.2L695.3 400.0L699.4 395.9L703.6 391.9L707.8 387.8L712.1 383.9L716.4 380.0L720.7 376.1L725.1 372.2L729.5 368.5L734.0 364.7L738.5 361.0L743.0 357.4L747.6 353.8L752.2 350.3L756.9 346.8L761.6 343.4L766.3 340.0L771.1 336.6L775.9 333.3L780.8 330.1L785.6 326.9L790.5 323.8L795.5 320.7L800.5 317.7L805.5 314.7L810.5 311.8L815.6 309.0L820.7 306.1L825.8 303.4L831.0 300.7L836.1 298.0L841.4 295.5L846.6 292.9L851.9 290.5L857.2 288.0L862.5 285.7L867.8 283.4L873.2 281.1L878.6 278.9L884.0 276.8L889.5 274.7L894.9 272.7L900.4 270.8L905.9 268.9L911.4 267.0L917.0 265.3L922.5 263.5L928.1 261.9L933.7 260.3L939.3 258.7L945.0 257.3L950.6 255.9L956.3 254.5L961.9 253.2L967.6 252.0L973.3 250.8L979.1 249.7L984.8 248.6L990.5 247.6L996.3 246.7L1002.0 245.8L1007.8 245.0L1013.6 244.3L1019.3 243.6L1025.1 243.0L1030.9 242.4L1036.7 241.9L1042.5 241.5L1048.3 241.1L1054.2 240.8L1060.0 240.6L1065.8 240.4L1071.6 240.3L1077.4 240.2L1083.2 240.2L1089.1 240.3L1094.9 240.4L1100.7 240.6L1106.5 240.9L1112.3 241.2L1118.1 241.6L1124.0 242.0L1129.8 242.5L1135.5 243.1L1141.3 243.7L1147.1 244.4L1152.9 245.1L1158.7 245.9L1164.4 246.8L1170.2 247.7L1175.9 248.7L1181.6 249.8L1187.3 250.9L1193.0 252.1L1198.7 253.3L1204.4 254.6L1210.1 256.0L1215.7 257.4L1221.3 258.9L1227.0 260.3L1232.6 261.8L1238.4 263.3L1244.1 265.0L1250.0 266.8L1255.8 268.5L1261.2 270.0L1266.2 271.6Z"/>
<path d="M1072.2 238.8L1081.7 233.1L1081.7 244.4Z"/>
<path d="M631.3 474.8L632.2 463.7L641.4 470.2Z"/>
<path d="M1192.2 255.4L1187.0 254.4L1181.5 253.2L1175.6 252.0L1169.6 250.8L1163.6 249.7L1157.8 248.6L1152.0 247.6L1146.2 246.8L1140.4 246.1L1134.6 245.4L1128.7 244.9L1122.9 244.4L1117.1 243.9L1111.2 243.6L1105.4 243.2L1099.5 243.0L1093.7 242.8L1087.8 242.7L1082.0 242.7L1076.1 242.7L1070.2 242.7L1064.4 242.9L1058.5 243.1L1052.7 243.3L1046.8 243.7L1041.0 244.1L1035.2 244.5L1029.3 245.0L1023.5 245.6L1017.7 246.3L1011.9 247.0L1006.1 247.7L1000.3 248.6L994.5 249.5L988.7 250.4L982.9 251.4L977.2 252.5L971.4 253.7L965.7 254.9L960.0 256.1L954.3 257.5L948.6 258.9L942.9 260.3L937.3 261.8L931.6 263.4L926.0 265.0L920.4 266.7L914.8 268.5L909.3 270.3L903.7 272.2L898.2 274.1L892.7 276.1L887.2 278.2L881.7 280.3L876.3 282.5L870.9 284.7L865.5 287.0L860.1 289.4L854.8 291.8L849.5 294.3L844.2 296.8L839.0 299.4L833.7 302.0L828.5 304.7L823.4 307.5L818.2 310.3L813.1 313.1L808.0 316.0L803.0 319.0L798.0 322.1L793.0 325.1L788.1 328.3L783.1 331.5L778.3 334.7L773.4 338.0L768.6 341.3L763.9 344.7L759.1 348.2L754.4 351.7L749.8 355.2L745.2 358.8L740.6 362.5L736.0 366.2L731.5 370.0L727.1 373.8L722.7 377.6L718.3 381.5L714.0 385.4L709.7 389.4L705.4 393.5L701.2 397.5L697.1 401.7L693.0 405.8L688.9 410.0L684.9 414.3L680.9 418.6L677.0 423.0L673.1 427.3L669.3 431.8L665.5 436.2L661.8 440.7L658.1 445.3L654.4 449.9L650.9 454.5L647.3 459.2L643.9 463.9L640.4 468.7L637.1 473.4L633.8 478.3L630.7 483.3L627.6 488.4L624.4 493.5L621.2 498.8L618.2 504.0L615.4 508.9L612.7 513.4L612.8 513.5L615.6 509.0L618.6 504.3L621.9 499.2L625.2 494.0L628.5 489.0L632.0 484.1L635.4 479.4L638.8 474.7L642.2 469.9L645.6 465.2L649.1 460.5L652.6 455.9L656.2 451.3L659.8 446.7L663.5 442.2L667.2 437.7L671.0 433.2L674.8 428.8L678.7 424.4L682.6 420.1L686.5 415.8L690.5 411.6L694.6 407.4L698.7 403.2L702.8 399.1L707.0 395.1L711.2 391.0L715.5 387.1L719.8 383.1L724.1 379.3L728.5 375.4L733.0 371.7L737.5 367.9L742.0 364.2L746.5 360.6L751.1 357.0L755.8 353.5L760.4 350.0L765.2 346.5L769.9 343.2L774.7 339.8L779.5 336.5L784.4 333.3L789.3 330.1L794.2 327.0L799.1 324.0L804.1 320.9L809.2 318.0L814.2 315.1L819.3 312.2L824.4 309.4L829.6 306.7L834.7 304.0L839.9 301.4L845.2 298.8L850.4 296.3L855.7 293.8L861.0 291.4L866.4 289.1L871.8 286.8L877.1 284.6L882.6 282.4L888.0 280.3L893.4 278.2L898.9 276.2L904.4 274.3L910.0 272.4L915.5 270.6L921.1 268.9L926.6 267.2L932.2 265.6L937.9 264.0L943.5 262.5L949.1 261.0L954.8 259.6L960.5 258.3L966.2 257.0L971.9 255.8L977.6 254.7L983.3 253.6L989.1 252.6L994.8 251.7L1000.6 250.8L1006.4 249.9L1012.1 249.2L1017.9 248.5L1023.7 247.8L1029.5 247.2L1035.3 246.7L1041.2 246.3L1047.0 245.9L1052.8 245.6L1058.6 245.3L1064.5 245.1L1070.3 245.0L1076.1 244.9L1081.9 244.9L1087.8 244.9L1093.6 245.0L1099.4 245.2L1105.3 245.5L1111.1 245.8L1116.9 246.1L1122.7 246.6L1128.5 247.1L1134.3 247.6L1140.1 248.2L1145.9 248.9L1151.7 249.5L1157.6 250.1L1163.4 250.8L1169.4 251.7L1175.5 252.7L1181.5 253.7L1187.0 254.6L1192.2 255.5Z"/>
<path d="M1098.6 251.0L1093.5 250.8L1088.1 250.6L1082.4 250.5L1076.4 250.4L1070.6 250.4L1064.9 250.4L1059.3 250.4L1053.6 250.5L1048.0 250.8L1042.4 251.2L1036.8 251.6L1031.2 252.1L1025.6 252.6L1020.0 253.2L1014.4 253.9L1008.8 254.6L1003.3 255.4L997.7 256.2L992.2 257.1L986.6 258.1L981.1 259.1L975.6 260.1L970.1 261.3L964.6 262.5L959.1 263.7L953.6 265.0L948.1 266.4L942.7 267.8L937.3 269.3L931.9 270.8L926.5 272.4L921.1 274.0L915.7 275.7L910.4 277.5L905.1 279.3L899.8 281.2L894.5 283.1L889.2 285.1L884.0 287.1L878.8 289.2L873.6 291.4L868.4 293.6L863.2 295.8L858.1 298.2L853.0 300.5L847.9 302.9L842.9 305.4L837.8 307.9L832.8 310.5L827.9 313.2L822.9 315.8L818.0 318.6L813.1 321.4L808.3 324.2L803.5 327.1L798.7 330.0L793.9 333.0L789.2 336.1L784.5 339.2L779.8 342.3L775.2 345.5L770.6 348.7L766.0 352.0L761.5 355.4L757.0 358.7L752.5 362.2L748.1 365.6L743.7 369.2L739.4 372.7L735.1 376.4L730.8 380.0L726.6 383.7L722.4 387.5L718.2 391.3L714.1 395.1L710.0 399.0L706.0 402.9L702.0 406.9L698.1 410.9L694.2 414.9L690.3 419.0L686.5 423.1L682.7 427.3L679.0 431.5L675.3 435.8L671.7 440.1L668.1 444.4L664.6 448.8L661.1 453.2L657.8 457.8L654.5 462.4L651.1 467.2L647.6 472.0L644.4 476.8L641.3 481.2L638.5 485.4L638.6 485.5L641.5 481.4L644.7 477.0L648.1 472.4L651.7 467.6L655.2 463.0L658.8 458.5L662.4 454.2L665.9 449.9L669.5 445.5L673.1 441.2L676.7 437.0L680.4 432.8L684.1 428.6L687.9 424.4L691.7 420.3L695.5 416.2L699.4 412.2L703.4 408.2L707.3 404.2L711.3 400.3L715.4 396.5L719.5 392.6L723.6 388.9L727.8 385.1L732.0 381.4L736.3 377.8L740.6 374.2L744.9 370.6L749.3 367.1L753.7 363.7L758.1 360.2L762.6 356.9L767.1 353.6L771.7 350.3L776.3 347.1L780.9 343.9L785.5 340.7L790.2 337.7L794.9 334.6L799.7 331.6L804.4 328.7L809.2 325.8L814.1 323.0L819.0 320.2L823.8 317.5L828.8 314.8L833.7 312.2L838.7 309.6L843.7 307.1L848.7 304.7L853.8 302.2L858.9 299.9L864.0 297.6L869.1 295.3L874.3 293.1L879.5 291.0L884.7 288.9L889.9 286.9L895.1 284.9L900.4 283.0L905.7 281.1L911.0 279.3L916.3 277.5L921.7 275.8L927.0 274.2L932.4 272.6L937.8 271.1L943.2 269.6L948.6 268.2L954.0 266.8L959.5 265.5L965.0 264.3L970.4 263.1L975.9 262.0L981.4 260.9L986.9 259.9L992.5 259.0L998.0 258.1L1003.5 257.2L1009.1 256.5L1014.7 255.7L1020.2 255.1L1025.8 254.5L1031.4 253.9L1037.0 253.4L1042.5 253.0L1048.1 252.6L1053.7 252.3L1059.3 252.0L1064.9 251.6L1070.6 251.3L1076.4 251.2L1082.4 251.1L1088.1 251.1L1093.5 251.0L1098.6 251.1Z"/>
<path d="M776.3 345.8L780.7 336.5L786.6 345.2Z"/>
<path d="M1006.9 262.8L1001.8 263.5L996.4 264.3L990.7 265.2L984.8 266.2L979.0 267.3L973.3 268.3L967.8 269.5L962.2 270.7L956.7 272.0L951.2 273.3L945.7 274.7L940.2 276.2L934.8 277.7L929.3 279.3L923.9 281.0L918.5 282.7L913.1 284.5L907.8 286.3L902.4 288.2L897.1 290.1L891.8 292.1L886.5 294.2L881.2 296.3L876.0 298.5L870.8 300.7L865.6 303.0L860.4 305.3L855.3 307.7L850.2 310.2L845.1 312.7L840.0 315.2L835.0 317.8L830.0 320.5L825.0 323.2L820.1 326.0L815.2 328.8L810.3 331.7L805.4 334.6L800.6 337.6L795.8 340.7L791.1 343.8L786.4 346.9L781.7 350.1L777.0 353.3L772.4 356.6L767.8 360.0L763.3 363.3L758.8 366.8L754.3 370.3L749.9 373.8L745.5 377.4L741.1 381.0L736.8 384.7L732.5 388.4L728.3 392.2L724.1 396.0L719.9 399.9L715.8 403.8L711.8 407.7L707.8 411.7L703.8 415.8L699.9 419.9L696.0 424.1L692.0 428.5L688.1 432.9L684.2 437.4L680.7 441.5L677.4 445.4L677.5 445.4L680.8 441.6L684.5 437.6L688.4 433.3L692.4 428.9L696.4 424.6L700.4 420.4L704.4 416.4L708.4 412.4L712.4 408.4L716.5 404.4L720.6 400.6L724.7 396.7L728.9 392.9L733.2 389.1L737.4 385.4L741.7 381.8L746.1 378.1L750.5 374.6L754.9 371.0L759.4 367.5L763.9 364.1L768.4 360.7L773.0 357.4L777.6 354.1L782.2 350.9L786.9 347.7L791.6 344.6L796.4 341.5L801.1 338.4L805.9 335.5L810.8 332.5L815.7 329.7L820.6 326.8L825.5 324.1L830.5 321.3L835.5 318.7L840.5 316.1L845.5 313.5L850.6 311.0L855.7 308.6L860.8 306.2L866.0 303.8L871.2 301.6L876.4 299.3L881.6 297.2L886.8 295.1L892.1 293.0L897.4 291.0L902.7 289.1L908.1 287.2L913.4 285.4L918.8 283.6L924.2 281.9L929.6 280.2L935.0 278.7L940.5 277.1L946.0 275.6L951.4 274.2L956.9 272.8L962.4 271.5L967.9 270.3L973.5 269.0L979.1 267.9L984.9 266.7L990.7 265.7L996.5 264.6L1001.9 263.7L1006.9 262.9Z"/>
<path d="M556.3 592.6L554.3 597.6L552.0 603.0L549.6 608.7L547.5 614.7L545.5 620.6L543.4 626.4L541.5 632.2L539.8 638.0L538.2 643.8L536.7 649.7L535.3 655.5L533.9 661.4L532.6 667.3L531.4 673.3L530.3 679.2L529.2 685.1L528.2 691.1L527.2 697.1L526.3 703.0L525.5 709.0L524.7 715.0L524.0 721.0L523.3 727.0L522.8 733.0L522.3 739.1L521.8 745.1L521.4 751.1L521.1 757.2L520.9 763.2L520.7 769.3L520.6 775.3L520.5 781.3L520.5 787.4L520.6 793.4L520.8 799.5L521.0 805.5L521.2 811.6L521.6 817.6L522.0 823.6L522.5 829.6L523.0 835.7L523.6 841.7L524.2 847.7L525.0 853.7L525.8 859.7L526.6 865.7L527.6 871.6L528.5 877.6L529.6 883.6L530.7 889.5L531.9 895.4L533.1 901.3L534.4 907.2L535.8 913.1L537.3 919.0L538.7 924.9L540.3 930.7L541.9 936.5L543.6 942.3L545.4 948.1L547.2 953.9L549.1 959.6L551.0 965.3L553.0 971.1L555.1 976.7L557.2 982.4L559.4 988.0L561.6 993.6L563.9 999.2L566.3 1004.8L568.7 1010.3L571.2 1015.8L573.7 1021.3L576.4 1026.8L579.0 1032.2L581.8 1037.6L584.7 1042.9L587.8 1048.1L591.0 1053.3L594.2 1058.7L597.5 1064.1L601.0 1069.3L604.4 1074.0L607.4 1078.5L607.6 1078.4L605.0 1073.7L602.4 1068.5L599.6 1062.9L596.6 1057.3L593.7 1051.8L591.0 1046.3L588.5 1040.9L585.8 1035.5L583.1 1030.1L580.5 1024.8L578.0 1019.3L575.5 1013.9L573.0 1008.4L570.6 1002.9L568.2 997.4L566.0 991.9L563.7 986.3L561.6 980.7L559.5 975.1L557.4 969.5L555.4 963.8L553.5 958.1L551.7 952.4L549.9 946.7L548.1 941.0L546.4 935.2L544.8 929.5L543.3 923.7L541.8 917.9L540.4 912.0L539.0 906.2L537.7 900.4L536.5 894.5L535.3 888.6L534.2 882.7L533.2 876.8L532.2 870.9L531.3 865.0L530.4 859.0L529.6 853.1L528.9 847.1L528.3 841.2L527.7 835.2L527.1 829.3L526.7 823.3L526.3 817.3L525.9 811.3L525.7 805.3L525.4 799.3L525.3 793.3L525.2 787.3L525.2 781.4L525.3 775.4L525.4 769.4L525.6 763.4L525.8 757.4L526.1 751.4L526.5 745.4L526.9 739.4L527.4 733.5L528.0 727.5L528.6 721.5L529.3 715.6L530.1 709.6L530.9 703.7L531.8 697.8L532.8 691.9L533.8 686.0L534.9 680.1L536.0 674.2L537.2 668.3L538.5 662.4L539.8 656.6L541.2 650.8L542.7 644.9L544.2 639.1L545.6 633.3L547.0 627.5L548.5 621.5L550.2 615.6L552.0 609.5L553.5 603.5L555.0 597.8L556.5 592.7Z"/>
<path d="M527.8 709.2L523.0 697.7L535.6 699.5Z"/>
<path d="M559.3 981.5L549.6 973.6L561.6 969.2Z"/>
<path d="M573.6 568.3L571.5 573.2L569.1 578.4L566.6 584.0L564.3 589.8L562.1 595.6L559.8 601.2L557.7 606.8L555.8 612.4L554.0 618.1L552.2 623.8L550.5 629.5L548.8 635.2L547.3 641.0L545.8 646.8L544.3 652.5L542.9 658.3L541.6 664.2L540.4 670.0L539.2 675.8L538.0 681.7L537.0 687.6L536.0 693.4L535.0 699.3L534.2 705.2L533.3 711.1L532.6 717.0L531.9 723.0L531.3 728.9L530.7 734.8L530.2 740.8L529.8 746.7L529.5 752.7L529.2 758.6L528.9 764.6L528.8 770.5L528.7 776.5L528.6 782.5L528.6 788.4L528.7 794.4L528.9 800.4L529.1 806.3L529.4 812.3L529.7 818.2L530.1 824.2L530.6 830.1L531.2 836.0L531.8 842.0L532.4 847.9L533.2 853.8L534.0 859.7L534.8 865.6L535.7 871.5L536.7 877.4L537.8 883.3L538.9 889.1L540.1 895.0L541.3 900.8L542.6 906.6L544.0 912.4L545.4 918.2L546.9 924.0L548.4 929.7L550.1 935.5L551.7 941.2L553.5 946.9L555.3 952.6L557.1 958.3L559.1 963.9L561.0 969.5L563.1 975.1L565.2 980.7L567.4 986.3L569.6 991.8L571.9 997.3L574.2 1002.8L576.6 1008.2L579.1 1013.7L581.6 1019.1L584.2 1024.4L586.8 1029.8L589.5 1035.1L592.3 1040.4L595.1 1045.6L598.0 1050.9L601.0 1056.0L604.1 1061.1L607.4 1066.2L610.7 1071.5L614.1 1076.7L617.6 1081.7L621.0 1086.4L624.0 1090.8L624.1 1090.7L621.3 1086.2L618.4 1081.2L615.4 1075.9L612.2 1070.5L609.0 1065.2L606.1 1060.0L603.3 1054.7L600.4 1049.5L597.6 1044.3L594.8 1039.1L592.1 1033.8L589.4 1028.5L586.8 1023.2L584.2 1017.8L581.7 1012.5L579.3 1007.0L576.9 1001.6L574.5 996.2L572.3 990.7L570.1 985.2L567.9 979.7L565.8 974.1L563.8 968.5L561.8 962.9L559.9 957.3L558.0 951.7L556.2 946.0L554.5 940.4L552.8 934.7L551.2 929.0L549.7 923.2L548.2 917.5L546.8 911.7L545.4 906.0L544.1 900.2L542.9 894.4L541.7 888.6L540.6 882.7L539.6 876.9L538.6 871.1L537.7 865.2L536.8 859.3L536.0 853.5L535.3 847.6L534.6 841.7L534.0 835.8L533.5 829.9L533.0 824.0L532.6 818.0L532.3 812.1L532.0 806.2L531.8 800.3L531.6 794.3L531.5 788.4L531.5 782.5L531.6 776.5L531.7 770.6L531.8 764.7L532.1 758.8L532.4 752.8L532.7 746.9L533.1 741.0L533.6 735.1L534.2 729.2L534.8 723.3L535.5 717.4L536.2 711.5L537.0 705.6L537.9 699.8L538.8 693.9L539.8 688.1L540.9 682.2L542.0 676.4L543.2 670.6L544.4 664.8L545.8 659.0L547.1 653.2L548.6 647.5L550.1 641.7L551.6 636.0L553.2 630.3L554.9 624.6L556.6 618.9L558.4 613.3L560.2 607.6L562.0 602.0L563.9 596.2L565.9 590.4L568.1 584.5L570.0 578.7L571.9 573.3L573.8 568.3Z"/>
<path d="M536.1 864.7L529.2 856.1L540.4 854.5Z"/>
<path d="M591.9 545.1L589.6 549.8L587.1 554.7L584.4 560.0L581.8 565.5L579.3 571.0L576.9 576.4L574.6 581.7L572.4 587.0L570.4 592.4L568.3 597.9L566.4 603.3L564.5 608.8L562.7 614.2L560.9 619.7L559.2 625.3L557.5 630.8L556.0 636.4L554.4 641.9L553.0 647.5L551.5 653.1L550.2 658.8L548.9 664.4L547.7 670.1L546.5 675.7L545.4 681.4L544.3 687.1L543.3 692.8L542.4 698.5L541.5 704.2L540.7 709.9L540.0 715.6L539.3 721.4L538.7 727.1L538.1 732.9L537.6 738.6L537.2 744.4L536.8 750.2L536.5 756.0L536.2 761.7L536.0 767.5L535.9 773.3L535.8 779.1L535.8 784.9L535.8 790.6L535.9 796.4L536.1 802.2L536.3 808.0L536.6 813.7L537.0 819.5L537.4 825.3L537.9 831.0L538.4 836.8L539.0 842.6L539.7 848.3L540.4 854.0L541.2 859.8L542.0 865.5L542.9 871.2L543.9 876.9L544.9 882.6L546.0 888.3L547.2 893.9L548.4 899.6L549.6 905.2L551.0 910.8L552.3 916.5L553.8 922.1L555.3 927.6L556.9 933.2L558.5 938.8L560.2 944.3L561.9 949.8L563.7 955.3L565.6 960.8L567.5 966.2L569.5 971.7L571.5 977.1L573.6 982.5L575.7 987.8L577.9 993.2L580.2 998.5L582.5 1003.8L584.9 1009.0L587.4 1014.3L589.9 1019.5L592.6 1024.6L595.4 1029.8L598.2 1035.1L601.1 1040.4L604.2 1045.5L607.1 1050.3L609.7 1054.7L609.8 1054.7L607.4 1050.1L604.9 1045.1L602.3 1039.8L599.5 1034.4L596.9 1029.0L594.4 1023.7L592.0 1018.5L589.6 1013.3L587.1 1008.0L584.8 1002.8L582.5 997.5L580.3 992.2L578.1 986.9L576.0 981.5L573.9 976.2L571.9 970.8L569.9 965.4L568.0 959.9L566.1 954.5L564.3 949.0L562.6 943.5L560.9 938.0L559.3 932.5L557.8 927.0L556.3 921.4L554.8 915.8L553.5 910.2L552.1 904.6L550.9 899.0L549.7 893.4L548.5 887.8L547.5 882.1L546.4 876.4L545.5 870.8L544.6 865.1L543.7 859.4L543.0 853.7L542.2 848.0L541.6 842.3L541.0 836.5L540.4 830.8L540.0 825.1L539.6 819.3L539.2 813.6L538.9 807.9L538.7 802.1L538.5 796.4L538.4 790.6L538.3 784.8L538.4 779.1L538.4 773.3L538.6 767.6L538.8 761.8L539.0 756.1L539.3 750.3L539.7 744.6L540.2 738.9L540.7 733.1L541.2 727.4L541.8 721.7L542.5 716.0L543.3 710.3L544.1 704.6L544.9 698.9L545.9 693.2L546.9 687.5L547.9 681.9L549.0 676.2L550.2 670.6L551.4 665.0L552.7 659.4L554.0 653.8L555.4 648.2L556.9 642.6L558.4 637.1L560.0 631.5L561.7 626.0L563.4 620.5L565.1 615.0L566.9 609.6L568.8 604.1L570.7 598.7L572.7 593.3L574.7 587.9L576.7 582.5L578.8 577.1L580.9 571.7L583.2 566.2L585.6 560.6L587.8 555.1L589.9 549.9L592.0 545.2Z"/>
<path d="M537.3 766.9L532.1 757.4L543.2 757.8Z"/>
<path d="M583.9 582.8L582.1 587.4L580.0 592.4L577.9 597.7L575.9 603.2L573.8 608.6L571.8 613.9L569.9 619.1L568.2 624.4L566.5 629.7L564.9 635.0L563.4 640.4L561.9 645.8L560.5 651.2L559.2 656.6L557.9 662.0L556.7 667.4L555.5 672.8L554.4 678.3L553.3 683.8L552.3 689.2L551.4 694.7L550.5 700.2L549.6 705.7L548.9 711.3L548.1 716.8L547.5 722.3L546.9 727.8L546.3 733.4L545.8 738.9L545.4 744.5L545.0 750.0L544.7 755.6L544.5 761.2L544.3 766.7L544.1 772.3L544.0 777.9L544.0 783.4L544.0 789.0L544.1 794.6L544.3 800.1L544.5 805.7L544.7 811.3L545.1 816.8L545.4 822.4L545.9 827.9L546.4 833.5L546.9 839.0L547.5 844.5L548.2 850.1L548.9 855.6L549.7 861.1L550.5 866.6L551.4 872.1L552.4 877.6L553.4 883.1L554.5 888.5L555.6 894.0L556.8 899.4L558.0 904.9L559.3 910.3L560.6 915.7L562.0 921.1L563.5 926.4L565.0 931.8L566.6 937.1L568.2 942.5L569.9 947.8L571.6 953.1L573.4 958.3L575.3 963.6L577.2 968.8L579.1 974.0L581.1 979.2L583.2 984.4L585.4 989.5L587.6 994.6L589.9 999.7L592.3 1004.7L594.9 1009.8L597.4 1015.0L600.1 1020.2L602.7 1025.3L605.3 1030.0L607.6 1034.4L607.7 1034.3L605.5 1029.9L603.1 1025.1L600.7 1019.9L598.2 1014.6L595.8 1009.4L593.6 1004.2L591.5 999.0L589.4 993.9L587.2 988.8L585.1 983.6L583.1 978.5L581.1 973.3L579.2 968.1L577.3 962.9L575.4 957.6L573.6 952.4L571.9 947.1L570.2 941.8L568.6 936.5L567.0 931.2L565.5 925.9L564.1 920.5L562.7 915.2L561.3 909.8L560.0 904.4L558.8 899.0L557.6 893.5L556.5 888.1L555.5 882.7L554.5 877.2L553.5 871.8L552.6 866.3L551.8 860.8L551.0 855.3L550.3 849.8L549.6 844.3L549.0 838.8L548.5 833.3L548.0 827.7L547.5 822.2L547.2 816.7L546.8 811.1L546.6 805.6L546.4 800.1L546.2 794.5L546.1 789.0L546.1 783.4L546.1 777.9L546.2 772.3L546.4 766.8L546.6 761.2L546.8 755.7L547.1 750.2L547.5 744.6L547.9 739.1L548.4 733.6L549.0 728.1L549.6 722.5L550.2 717.0L550.9 711.5L551.7 706.0L552.6 700.6L553.4 695.1L554.4 689.6L555.4 684.2L556.4 678.7L557.6 673.3L558.7 667.9L559.9 662.5L561.2 657.1L562.6 651.7L564.0 646.3L565.4 640.9L566.9 635.6L568.4 630.3L570.0 625.0L571.6 619.6L573.2 614.3L574.8 608.9L576.6 603.4L578.6 597.9L580.5 592.5L582.3 587.5L584.0 582.8Z"/>
<path d="M570.7 946.9L562.9 939.9L573.1 936.7Z"/>
<path d="M574.3 638.2L573.0 642.9L571.6 647.9L570.1 653.2L568.7 658.7L567.4 664.2L566.1 669.5L564.9 674.8L563.8 680.1L562.7 685.4L561.6 690.7L560.6 696.0L559.7 701.3L558.9 706.7L558.1 712.0L557.4 717.4L556.8 722.8L556.2 728.1L555.6 733.5L555.1 738.9L554.7 744.3L554.3 749.7L554.0 755.1L553.8 760.5L553.6 765.9L553.4 771.3L553.3 776.7L553.3 782.1L553.3 787.5L553.4 792.9L553.5 798.3L553.7 803.7L553.9 809.1L554.2 814.5L554.6 819.9L555.0 825.3L555.4 830.7L555.9 836.1L556.5 841.5L557.1 846.9L557.8 852.2L558.6 857.6L559.3 862.9L560.2 868.3L561.1 873.6L562.0 878.9L563.1 884.2L564.1 889.5L565.2 894.8L566.4 900.1L567.6 905.4L568.9 910.6L570.3 915.9L571.6 921.1L573.1 926.3L574.6 931.5L576.1 936.7L577.8 941.8L579.5 946.9L581.3 952.0L583.2 957.1L585.0 962.2L586.9 967.3L588.9 972.4L591.0 977.6L593.2 982.9L595.4 988.0L597.5 992.7L599.4 997.2L599.5 997.1L597.7 992.7L595.7 987.8L593.6 982.7L591.5 977.4L589.5 972.2L587.6 967.0L585.8 961.9L584.0 956.8L582.3 951.7L580.7 946.6L579.2 941.4L577.6 936.2L576.1 931.1L574.6 925.9L573.1 920.7L571.8 915.5L570.4 910.2L569.2 905.0L567.9 899.8L566.8 894.5L565.6 889.2L564.6 883.9L563.6 878.6L562.6 873.3L561.7 868.0L560.9 862.7L560.1 857.4L559.4 852.0L558.7 846.7L558.1 841.3L557.5 835.9L557.0 830.6L556.5 825.2L556.1 819.8L555.8 814.5L555.5 809.1L555.2 803.7L555.1 798.3L554.9 792.9L554.9 787.5L554.8 782.1L554.9 776.7L555.0 771.3L555.1 765.9L555.3 760.6L555.6 755.2L555.9 749.8L556.3 744.4L556.7 739.0L557.2 733.7L557.7 728.3L558.3 722.9L558.9 717.6L559.6 712.2L560.4 706.9L561.2 701.6L562.0 696.2L562.8 690.9L563.7 685.6L564.7 680.3L565.8 675.0L566.8 669.7L568.0 664.3L569.3 658.9L570.6 653.4L571.9 648.0L573.2 642.9L574.4 638.2Z"/>
<path d="M597.2 1062.0L599.8 1066.6L602.4 1071.7L605.3 1077.1L608.4 1082.5L611.6 1087.7L614.7 1092.9L617.9 1098.0L621.1 1102.9L624.6 1107.8L628.0 1112.6L631.5 1117.4L635.1 1122.2L638.7 1126.9L642.4 1131.6L646.1 1136.2L649.9 1140.8L653.7 1145.3L657.6 1149.8L661.5 1154.3L665.5 1158.7L669.5 1163.1L673.5 1167.5L677.6 1171.8L681.8 1176.0L686.0 1180.2L690.2 1184.4L694.5 1188.5L698.8 1192.6L703.2 1196.6L707.6 1200.6L712.1 1204.5L716.6 1208.4L721.1 1212.2L725.7 1216.0L730.3 1219.8L735.0 1223.4L739.7 1227.1L744.4 1230.7L749.2 1234.2L754.0 1237.7L758.8 1241.1L763.7 1244.5L768.6 1247.9L773.6 1251.1L778.6 1254.4L783.6 1257.6L788.6 1260.7L793.7 1263.7L798.9 1266.8L804.0 1269.7L809.2 1272.6L814.4 1275.5L819.7 1278.3L824.9 1281.0L830.2 1283.7L835.6 1286.3L840.9 1288.9L846.3 1291.4L851.7 1293.8L857.2 1296.2L862.6 1298.6L868.1 1300.9L873.6 1303.1L879.2 1305.2L884.7 1307.3L890.3 1309.4L895.9 1311.4L901.5 1313.3L907.2 1315.2L912.8 1317.0L918.5 1318.7L924.2 1320.4L929.9 1322.0L935.6 1323.6L941.4 1325.1L947.2 1326.5L952.9 1327.9L958.7 1329.2L964.5 1330.5L970.4 1331.7L976.2 1332.8L982.0 1333.9L987.9 1334.9L993.8 1335.8L999.7 1336.6L1005.6 1337.1L1011.6 1337.7L1017.7 1338.2L1024.0 1338.7L1030.1 1338.9L1035.8 1339.1L1041.1 1339.4L1041.1 1339.1L1035.9 1338.5L1030.2 1337.6L1024.2 1336.7L1018.0 1335.8L1011.9 1335.0L1006.0 1334.0L1000.2 1332.9L994.4 1332.0L988.5 1331.0L982.7 1330.0L976.9 1328.9L971.1 1327.8L965.4 1326.6L959.6 1325.3L953.8 1324.0L948.1 1322.6L942.4 1321.2L936.7 1319.7L931.0 1318.2L925.3 1316.5L919.7 1314.9L914.0 1313.1L908.4 1311.3L902.8 1309.5L897.2 1307.6L891.7 1305.6L886.1 1303.6L880.6 1301.5L875.1 1299.3L869.6 1297.1L864.2 1294.9L858.8 1292.6L853.4 1290.2L848.0 1287.7L842.6 1285.2L837.3 1282.7L832.0 1280.1L826.8 1277.4L821.5 1274.7L816.3 1271.9L811.1 1269.1L806.0 1266.2L800.9 1263.3L795.8 1260.3L790.7 1257.2L785.7 1254.1L780.7 1251.0L775.8 1247.8L770.9 1244.5L766.0 1241.2L761.1 1237.9L756.3 1234.4L751.5 1231.0L746.8 1227.5L742.1 1223.9L737.4 1220.3L732.8 1216.6L728.2 1212.9L723.7 1209.1L719.2 1205.3L714.7 1201.5L710.3 1197.6L705.9 1193.6L701.6 1189.6L697.3 1185.6L693.0 1181.5L688.8 1177.4L684.7 1173.2L680.5 1169.0L676.5 1164.7L672.4 1160.4L668.4 1156.0L664.5 1151.6L660.6 1147.2L656.8 1142.7L653.0 1138.2L649.2 1133.7L645.5 1129.1L641.9 1124.4L638.3 1119.8L634.7 1115.1L631.2 1110.3L627.7 1105.5L624.3 1100.7L620.9 1095.9L617.4 1091.2L613.9 1086.3L610.5 1081.2L607.0 1076.0L603.5 1071.0L600.3 1066.3L597.4 1061.8Z"/>
<path d="M691.4 1182.8L679.8 1179.9L688.4 1171.2Z"/>
<path d="M896.3 1309.4L884.5 1311.7L888.7 1300.2Z"/>
<path d="M613.1 1075.0L615.9 1079.5L618.8 1084.5L621.9 1089.7L625.3 1095.0L628.8 1100.1L632.1 1105.2L635.5 1110.1L639.0 1114.9L642.6 1119.7L646.3 1124.4L650.0 1129.1L653.7 1133.7L657.5 1138.3L661.4 1142.8L665.3 1147.3L669.3 1151.8L673.3 1156.2L677.3 1160.6L681.4 1164.9L685.6 1169.2L689.8 1173.4L694.0 1177.6L698.3 1181.8L702.6 1185.9L707.0 1189.9L711.4 1193.9L715.9 1197.9L720.4 1201.8L724.9 1205.7L729.5 1209.5L734.1 1213.2L738.8 1217.0L743.5 1220.6L748.2 1224.2L753.0 1227.8L757.8 1231.3L762.7 1234.8L767.6 1238.2L772.5 1241.5L777.5 1244.8L782.5 1248.0L787.5 1251.2L792.6 1254.4L797.7 1257.4L802.9 1260.5L808.0 1263.4L813.2 1266.3L818.5 1269.2L823.7 1272.0L829.0 1274.7L834.4 1277.4L839.7 1280.0L845.1 1282.6L850.5 1285.1L855.9 1287.6L861.4 1290.0L866.9 1292.3L872.4 1294.6L877.9 1296.8L883.5 1298.9L889.1 1301.0L894.7 1303.0L900.3 1305.0L906.0 1306.9L911.6 1308.8L917.3 1310.6L923.0 1312.3L928.8 1314.0L934.5 1315.6L940.3 1317.1L946.0 1318.6L951.8 1320.0L957.6 1321.3L963.5 1322.6L969.3 1323.8L975.2 1325.0L981.0 1326.0L987.0 1326.9L993.0 1327.7L999.1 1328.5L1005.3 1329.3L1011.4 1329.8L1017.1 1330.2L1022.4 1330.8L1022.5 1330.6L1017.2 1329.8L1011.5 1328.8L1005.5 1327.8L999.3 1326.8L993.3 1325.8L987.3 1324.6L981.5 1323.4L975.7 1322.2L969.9 1321.1L964.1 1319.8L958.3 1318.5L952.5 1317.2L946.7 1315.8L941.0 1314.3L935.3 1312.8L929.6 1311.2L923.9 1309.5L918.2 1307.8L912.5 1306.0L906.9 1304.2L901.3 1302.3L895.7 1300.3L890.1 1298.3L884.5 1296.2L879.0 1294.1L873.5 1291.9L868.0 1289.6L862.6 1287.3L857.1 1284.9L851.7 1282.5L846.3 1280.0L841.0 1277.4L835.7 1274.8L830.4 1272.1L825.1 1269.4L819.9 1266.6L814.6 1263.8L809.5 1260.9L804.3 1257.9L799.2 1254.9L794.1 1251.9L789.1 1248.8L784.1 1245.6L779.1 1242.4L774.1 1239.1L769.2 1235.8L764.4 1232.4L759.5 1228.9L754.7 1225.5L750.0 1221.9L745.3 1218.3L740.6 1214.7L735.9 1211.0L731.3 1207.2L726.8 1203.5L722.2 1199.6L717.8 1195.7L713.3 1191.8L708.9 1187.8L704.6 1183.8L700.3 1179.7L696.0 1175.6L691.8 1171.4L687.6 1167.2L683.5 1162.9L679.4 1158.6L675.4 1154.3L671.4 1149.9L667.5 1145.4L663.6 1141.0L659.7 1136.4L656.0 1131.9L652.2 1127.3L648.5 1122.6L644.8 1118.0L641.2 1113.3L637.6 1108.5L634.0 1103.8L630.4 1099.0L626.8 1094.0L623.2 1088.9L619.6 1083.9L616.2 1079.3L613.2 1074.9Z"/>
<path d="M782.7 1246.5L771.6 1246.0L777.8 1236.5Z"/>
<path d="M600.5 1038.2L602.9 1042.8L605.4 1047.8L608.1 1053.1L611.1 1058.5L614.1 1063.8L617.0 1068.9L620.0 1073.9L623.1 1078.9L626.3 1083.8L629.5 1088.6L632.8 1093.5L636.1 1098.2L639.5 1103.0L642.9 1107.7L646.4 1112.3L650.0 1117.0L653.6 1121.5L657.2 1126.1L660.9 1130.6L664.7 1135.1L668.5 1139.5L672.3 1143.9L676.2 1148.2L680.1 1152.5L684.1 1156.8L688.1 1161.0L692.2 1165.2L696.3 1169.3L700.5 1173.4L704.7 1177.4L708.9 1181.4L713.2 1185.4L717.5 1189.3L721.9 1193.2L726.3 1197.0L730.8 1200.7L735.3 1204.5L739.8 1208.1L744.4 1211.7L749.0 1215.3L753.6 1218.8L758.3 1222.3L763.0 1225.7L767.8 1229.1L772.6 1232.4L777.4 1235.7L782.3 1238.9L787.2 1242.1L792.1 1245.2L797.1 1248.2L802.1 1251.2L807.1 1254.2L812.1 1257.1L817.2 1259.9L822.4 1262.7L827.5 1265.4L832.7 1268.1L837.9 1270.7L843.1 1273.3L848.4 1275.8L853.7 1278.3L859.0 1280.6L864.3 1283.0L869.7 1285.3L875.1 1287.5L880.5 1289.7L885.9 1291.8L891.4 1293.8L896.9 1295.8L902.4 1297.7L907.9 1299.6L913.4 1301.4L919.0 1303.2L924.6 1304.9L930.2 1306.5L935.8 1308.1L941.4 1309.6L947.1 1311.0L952.7 1312.4L958.4 1313.7L964.1 1314.9L969.9 1316.0L975.7 1316.9L981.7 1318.0L987.7 1318.9L993.7 1319.7L999.2 1320.3L1004.4 1321.0L1004.4 1320.8L999.3 1319.9L993.8 1318.8L988.0 1317.5L982.0 1316.3L976.1 1315.2L970.3 1313.8L964.6 1312.5L959.0 1311.1L953.4 1309.8L947.7 1308.4L942.1 1306.9L936.5 1305.4L930.9 1303.8L925.4 1302.2L919.8 1300.5L914.3 1298.8L908.8 1297.0L903.3 1295.1L897.8 1293.2L892.4 1291.2L886.9 1289.2L881.5 1287.1L876.1 1284.9L870.8 1282.7L865.4 1280.4L860.1 1278.1L854.8 1275.7L849.6 1273.3L844.3 1270.8L839.1 1268.2L834.0 1265.6L828.8 1263.0L823.7 1260.2L818.6 1257.5L813.5 1254.6L808.5 1251.8L803.5 1248.8L798.5 1245.8L793.6 1242.8L788.7 1239.7L783.8 1236.6L779.0 1233.4L774.2 1230.1L769.4 1226.8L764.7 1223.5L760.0 1220.1L755.3 1216.6L750.7 1213.1L746.1 1209.5L741.5 1205.9L737.0 1202.3L732.6 1198.6L728.1 1194.9L723.7 1191.1L719.4 1187.2L715.1 1183.3L710.8 1179.4L706.6 1175.4L702.4 1171.4L698.3 1167.3L694.2 1163.2L690.1 1159.1L686.1 1154.9L682.2 1150.6L678.3 1146.4L674.4 1142.0L670.6 1137.7L666.8 1133.3L663.1 1128.8L659.4 1124.3L655.8 1119.8L652.2 1115.3L648.7 1110.7L645.2 1106.0L641.8 1101.3L638.4 1096.6L635.0 1091.9L631.7 1087.1L628.5 1082.3L625.3 1077.5L622.1 1072.6L618.9 1067.8L615.7 1062.8L612.5 1057.7L609.4 1052.4L606.2 1047.4L603.3 1042.6L600.6 1038.1Z"/>
<path d="M669.1 1138.1L658.7 1134.5L667.3 1127.3Z"/>
<path d="M952.4 1311.0L941.9 1314.1L944.6 1303.2Z"/>
<path d="M618.4 1049.7L620.9 1054.1L623.6 1058.8L626.5 1063.8L629.6 1068.9L632.7 1073.9L635.6 1078.8L638.6 1083.6L641.7 1088.3L645.0 1092.9L648.3 1097.5L651.6 1102.0L655.0 1106.6L658.4 1111.0L661.9 1115.5L665.4 1119.9L669.0 1124.2L672.6 1128.5L676.3 1132.8L680.0 1137.1L683.8 1141.3L687.6 1145.4L691.4 1149.6L695.3 1153.7L699.3 1157.7L703.2 1161.7L707.3 1165.7L711.3 1169.6L715.4 1173.4L719.6 1177.3L723.7 1181.1L728.0 1184.8L732.2 1188.5L736.5 1192.2L740.9 1195.8L745.2 1199.3L749.7 1202.8L754.1 1206.3L758.6 1209.7L763.1 1213.1L767.7 1216.4L772.3 1219.7L776.9 1222.9L781.6 1226.1L786.3 1229.2L791.0 1232.3L795.7 1235.3L800.5 1238.3L805.4 1241.2L810.2 1244.1L815.1 1246.9L820.0 1249.7L825.0 1252.4L829.9 1255.1L834.9 1257.7L840.0 1260.3L845.0 1262.8L850.1 1265.2L855.2 1267.6L860.3 1270.0L865.5 1272.3L870.7 1274.5L875.9 1276.7L881.1 1278.8L886.3 1280.9L891.6 1282.9L896.9 1284.8L902.2 1286.7L907.5 1288.6L912.9 1290.3L918.4 1291.8L923.9 1293.3L929.5 1294.9L935.3 1296.5L940.9 1297.9L946.1 1299.2L951.0 1300.4L951.1 1300.3L946.2 1298.9L941.0 1297.4L935.5 1295.7L929.8 1294.1L924.2 1292.3L918.8 1290.4L913.5 1288.5L908.2 1286.6L902.9 1284.7L897.6 1282.8L892.4 1280.8L887.1 1278.8L881.9 1276.8L876.7 1274.6L871.5 1272.5L866.4 1270.2L861.2 1267.9L856.1 1265.6L851.0 1263.2L846.0 1260.8L841.0 1258.3L835.9 1255.7L831.0 1253.1L826.0 1250.5L821.1 1247.8L816.2 1245.0L811.3 1242.2L806.5 1239.3L801.7 1236.4L796.9 1233.4L792.2 1230.4L787.5 1227.4L782.8 1224.2L778.2 1221.1L773.6 1217.9L769.0 1214.6L764.4 1211.3L759.9 1207.9L755.5 1204.5L751.0 1201.1L746.6 1197.6L742.3 1194.0L738.0 1190.4L733.7 1186.8L729.4 1183.1L725.2 1179.4L721.1 1175.6L716.9 1171.8L712.9 1168.0L708.8 1164.1L704.8 1160.1L700.8 1156.1L696.9 1152.1L693.1 1148.0L689.2 1143.9L685.4 1139.8L681.7 1135.6L678.0 1131.4L674.3 1127.1L670.7 1122.8L667.2 1118.5L663.6 1114.1L660.2 1109.7L656.7 1105.2L653.4 1100.7L650.0 1096.2L646.7 1091.7L643.5 1087.1L640.2 1082.5L636.9 1077.9L633.6 1073.3L630.3 1068.4L627.2 1063.4L624.0 1058.5L621.1 1054.0L618.5 1049.7Z"/>
<path d="M754.3 1205.0L743.8 1203.7L750.5 1195.2Z"/>
<path d="M659.3 1088.9L662.2 1092.8L665.2 1097.1L668.6 1101.6L672.0 1106.1L675.5 1110.6L678.9 1115.0L682.2 1119.3L685.7 1123.5L689.3 1127.7L692.9 1131.8L696.5 1135.8L700.2 1139.8L704.0 1143.8L707.8 1147.7L711.6 1151.6L715.5 1155.4L719.4 1159.2L723.4 1163.0L727.4 1166.7L731.4 1170.3L735.5 1174.0L739.6 1177.6L743.8 1181.1L747.9 1184.6L752.2 1188.1L756.4 1191.5L760.7 1194.8L765.0 1198.1L769.4 1201.4L773.8 1204.7L778.2 1207.8L782.7 1211.0L787.2 1214.1L791.7 1217.1L796.3 1220.1L800.9 1223.0L805.5 1225.9L810.1 1228.8L814.8 1231.6L819.5 1234.4L824.3 1237.1L829.0 1239.7L833.8 1242.3L838.6 1244.9L843.5 1247.4L848.4 1249.8L853.3 1252.2L858.2 1254.6L863.1 1256.8L868.1 1259.1L873.1 1261.2L878.2 1263.4L883.2 1265.4L888.4 1267.2L893.6 1269.1L898.9 1271.0L904.3 1272.9L909.7 1274.7L914.7 1276.3L919.3 1277.8L919.3 1277.7L914.7 1276.1L909.8 1274.2L904.6 1272.3L899.2 1270.3L893.9 1268.2L888.9 1266.0L883.9 1263.8L878.9 1261.7L873.9 1259.5L868.9 1257.3L864.0 1255.1L859.0 1252.8L854.1 1250.4L849.3 1248.0L844.4 1245.6L839.6 1243.1L834.8 1240.5L830.0 1238.0L825.2 1235.3L820.5 1232.6L815.8 1229.9L811.2 1227.1L806.5 1224.2L801.9 1221.4L797.4 1218.4L792.8 1215.4L788.3 1212.4L783.8 1209.3L779.4 1206.2L775.0 1203.0L770.6 1199.8L766.2 1196.6L761.9 1193.2L757.7 1189.9L753.4 1186.5L749.2 1183.1L745.0 1179.6L740.9 1176.0L736.8 1172.5L732.8 1168.8L728.7 1165.2L724.8 1161.5L720.8 1157.8L716.9 1154.0L713.1 1150.1L709.2 1146.3L705.4 1142.4L701.7 1138.4L698.0 1134.5L694.3 1130.5L690.7 1126.4L687.1 1122.3L683.5 1118.3L679.9 1114.2L676.2 1110.0L672.6 1105.7L669.1 1101.2L665.6 1096.8L662.3 1092.7L659.4 1088.8Z"/>
<path d="M838.6 1243.8L828.2 1244.2L833.3 1234.9Z"/>
<path d="M1021.7 1338.2L1026.8 1338.8L1032.2 1339.5L1038.1 1340.3L1044.1 1340.8L1050.1 1341.3L1055.9 1341.7L1061.6 1342.1L1067.4 1342.4L1073.1 1342.5L1078.9 1342.5L1084.6 1342.6L1090.3 1342.5L1096.1 1342.4L1101.8 1342.2L1107.6 1341.9L1113.3 1341.6L1119.0 1341.2L1124.7 1340.8L1130.5 1340.3L1136.2 1339.8L1141.9 1339.2L1147.6 1338.5L1153.3 1337.8L1159.0 1337.0L1164.7 1336.1L1170.3 1335.2L1176.0 1334.3L1181.7 1333.3L1187.3 1332.2L1192.9 1331.1L1198.6 1329.9L1204.2 1328.6L1209.7 1327.3L1215.3 1326.0L1220.9 1324.6L1226.4 1323.1L1232.0 1321.5L1237.5 1320.0L1243.0 1318.3L1248.5 1316.6L1254.0 1314.9L1259.4 1313.0L1264.8 1311.2L1270.2 1309.2L1275.6 1307.3L1281.0 1305.2L1286.4 1303.1L1291.7 1301.0L1297.0 1298.8L1302.3 1296.5L1307.5 1294.2L1312.8 1291.9L1318.0 1289.5L1323.2 1287.0L1328.3 1284.5L1333.4 1281.9L1338.5 1279.2L1343.6 1276.5L1348.6 1273.8L1353.7 1271.0L1358.6 1268.1L1363.5 1265.0L1368.4 1261.9L1373.5 1258.7L1378.5 1255.4L1383.3 1252.0L1387.8 1248.8L1392.1 1245.9L1392.0 1245.7L1387.6 1248.4L1382.8 1251.2L1377.7 1254.2L1372.6 1257.3L1367.5 1260.3L1362.4 1263.1L1357.3 1265.8L1352.3 1268.6L1347.3 1271.4L1342.3 1274.1L1337.2 1276.7L1332.1 1279.3L1327.0 1281.9L1321.9 1284.4L1316.7 1286.8L1311.6 1289.2L1306.3 1291.6L1301.1 1293.9L1295.9 1296.1L1290.6 1298.3L1285.3 1300.4L1280.0 1302.5L1274.6 1304.5L1269.3 1306.5L1263.9 1308.4L1258.5 1310.3L1253.1 1312.1L1247.6 1313.8L1242.2 1315.5L1236.7 1317.2L1231.2 1318.8L1225.7 1320.3L1220.2 1321.8L1214.6 1323.2L1209.1 1324.5L1203.5 1325.8L1197.9 1327.1L1192.3 1328.2L1186.7 1329.4L1181.1 1330.4L1175.5 1331.4L1169.9 1332.4L1164.2 1333.3L1158.6 1334.1L1152.9 1334.9L1147.3 1335.6L1141.6 1336.3L1135.9 1336.9L1130.2 1337.4L1124.5 1337.9L1118.8 1338.3L1113.1 1338.7L1107.4 1339.0L1101.7 1339.3L1096.0 1339.5L1090.3 1339.6L1084.6 1339.7L1078.9 1339.7L1073.1 1339.7L1067.4 1339.6L1061.7 1339.6L1056.0 1339.5L1050.2 1339.4L1044.2 1339.1L1038.2 1338.8L1032.3 1338.6L1026.8 1338.4L1021.7 1338.1Z"/>
<path d="M1164.0 1334.8L1155.3 1341.8L1153.7 1330.6Z"/>
<path d="M1311.7 1290.8L1305.3 1299.8L1300.7 1289.5Z"/>
<path d="M1003.0 1331.4L1008.1 1332.1L1013.5 1333.1L1019.3 1334.0L1025.3 1334.8L1031.3 1335.4L1037.1 1336.1L1042.8 1336.7L1048.5 1337.1L1054.3 1337.4L1060.0 1337.7L1065.8 1337.9L1071.5 1338.0L1077.3 1338.1L1083.0 1338.1L1088.8 1338.0L1094.5 1337.9L1100.3 1337.7L1106.0 1337.5L1111.8 1337.2L1117.5 1336.8L1123.2 1336.4L1129.0 1335.9L1134.7 1335.4L1140.4 1334.8L1146.1 1334.1L1151.8 1333.4L1157.5 1332.6L1163.2 1331.8L1168.9 1330.9L1174.6 1330.0L1180.2 1329.0L1185.9 1327.9L1191.5 1326.8L1197.1 1325.6L1202.8 1324.3L1208.4 1323.0L1213.9 1321.7L1219.5 1320.3L1225.1 1318.8L1230.6 1317.3L1236.1 1315.7L1241.7 1314.0L1247.1 1312.3L1252.6 1310.6L1258.1 1308.7L1263.5 1306.9L1268.9 1304.9L1274.3 1303.0L1279.7 1300.9L1285.1 1298.8L1290.4 1296.7L1295.7 1294.5L1301.0 1292.2L1306.2 1289.8L1311.5 1287.4L1316.7 1285.0L1321.8 1282.4L1326.9 1279.7L1332.0 1277.0L1337.3 1274.1L1342.6 1271.2L1347.6 1268.1L1352.3 1265.2L1356.8 1262.6L1356.7 1262.5L1352.2 1264.9L1347.2 1267.3L1341.9 1269.9L1336.5 1272.6L1331.2 1275.3L1325.9 1277.8L1320.7 1280.1L1315.5 1282.5L1310.3 1284.9L1305.1 1287.3L1299.8 1289.5L1294.6 1291.8L1289.3 1294.0L1284.0 1296.1L1278.7 1298.2L1273.3 1300.2L1267.9 1302.2L1262.6 1304.1L1257.1 1306.0L1251.7 1307.8L1246.3 1309.6L1240.8 1311.2L1235.3 1312.9L1229.8 1314.5L1224.3 1316.0L1218.8 1317.5L1213.2 1318.9L1207.7 1320.2L1202.1 1321.5L1196.5 1322.7L1190.9 1323.9L1185.3 1325.0L1179.7 1326.1L1174.1 1327.1L1168.4 1328.1L1162.8 1328.9L1157.1 1329.8L1151.5 1330.5L1145.8 1331.3L1140.1 1331.9L1134.4 1332.5L1128.7 1333.0L1123.0 1333.5L1117.3 1333.9L1111.6 1334.3L1105.9 1334.6L1100.2 1334.8L1094.4 1335.0L1088.7 1335.1L1083.0 1335.2L1077.3 1335.2L1071.6 1335.1L1065.9 1335.0L1060.1 1334.9L1054.4 1334.7L1048.7 1334.4L1043.0 1334.1L1037.2 1333.9L1031.4 1333.6L1025.5 1333.1L1019.5 1332.5L1013.6 1332.1L1008.1 1331.7L1003.0 1331.2Z"/>
<path d="M1082.5 1336.7L1073.0 1342.3L1073.0 1331.0Z"/>
<path d="M985.0 1322.0L990.0 1322.9L995.3 1324.0L1001.1 1325.2L1007.0 1326.2L1012.8 1327.0L1018.5 1327.9L1024.2 1328.7L1029.8 1329.3L1035.5 1329.8L1041.1 1330.3L1046.8 1330.7L1052.5 1331.0L1058.2 1331.3L1063.8 1331.5L1069.5 1331.6L1075.2 1331.7L1080.9 1331.7L1086.6 1331.7L1092.3 1331.6L1097.9 1331.4L1103.6 1331.2L1109.3 1330.9L1115.0 1330.6L1120.6 1330.2L1126.3 1329.7L1132.0 1329.2L1137.6 1328.7L1143.3 1328.0L1148.9 1327.4L1154.6 1326.6L1160.2 1325.8L1165.8 1325.0L1171.4 1324.0L1177.0 1323.1L1182.6 1322.0L1188.2 1320.9L1193.7 1319.8L1199.3 1318.6L1204.8 1317.3L1210.4 1316.0L1215.9 1314.6L1221.4 1313.2L1226.9 1311.7L1232.3 1310.1L1237.8 1308.5L1243.2 1306.9L1248.6 1305.1L1254.0 1303.4L1259.4 1301.5L1264.8 1299.6L1270.1 1297.7L1275.4 1295.7L1280.7 1293.6L1286.0 1291.5L1291.3 1289.3L1296.5 1287.1L1301.7 1284.7L1306.8 1282.2L1311.9 1279.6L1317.2 1277.0L1322.5 1274.3L1327.6 1271.4L1332.4 1268.7L1336.8 1266.2L1336.8 1266.1L1332.2 1268.3L1327.2 1270.5L1321.8 1272.9L1316.4 1275.4L1311.1 1277.8L1305.8 1280.0L1300.5 1282.2L1295.3 1284.4L1290.1 1286.6L1284.9 1288.7L1279.6 1290.8L1274.3 1292.8L1269.0 1294.8L1263.7 1296.7L1258.4 1298.6L1253.1 1300.4L1247.7 1302.2L1242.3 1303.9L1236.9 1305.5L1231.5 1307.1L1226.0 1308.7L1220.6 1310.1L1215.1 1311.6L1209.6 1312.9L1204.1 1314.3L1198.6 1315.5L1193.1 1316.7L1187.6 1317.9L1182.0 1319.0L1176.5 1320.0L1170.9 1321.0L1165.3 1321.9L1159.7 1322.7L1154.1 1323.5L1148.5 1324.3L1142.9 1324.9L1137.3 1325.6L1131.7 1326.1L1126.1 1326.6L1120.4 1327.1L1114.8 1327.5L1109.1 1327.8L1103.5 1328.1L1097.8 1328.3L1092.2 1328.4L1086.5 1328.5L1080.9 1328.6L1075.2 1328.6L1069.6 1328.5L1063.9 1328.3L1058.3 1328.1L1052.6 1327.9L1047.0 1327.6L1041.4 1327.3L1035.7 1326.9L1030.1 1326.4L1024.5 1325.9L1018.8 1325.5L1013.1 1325.0L1007.2 1324.3L1001.3 1323.6L995.5 1323.0L990.1 1322.5L985.0 1321.8Z"/>
<path d="M1237.0 1307.1L1229.3 1315.4L1226.1 1304.3Z"/>
<path d="M1014.1 1320.2L1019.1 1320.8L1024.5 1321.5L1030.2 1322.2L1036.1 1322.8L1041.9 1323.3L1047.6 1323.9L1053.3 1324.4L1058.9 1324.8L1064.5 1325.0L1070.2 1325.1L1075.8 1325.2L1081.5 1325.3L1087.1 1325.2L1092.7 1325.1L1098.4 1324.9L1104.0 1324.7L1109.6 1324.4L1115.3 1324.1L1120.9 1323.7L1126.5 1323.3L1132.1 1322.7L1137.7 1322.2L1143.4 1321.5L1148.9 1320.9L1154.5 1320.1L1160.1 1319.3L1165.7 1318.4L1171.3 1317.5L1176.8 1316.5L1182.4 1315.5L1187.9 1314.4L1193.4 1313.3L1198.9 1312.0L1204.4 1310.8L1209.9 1309.5L1215.4 1308.1L1220.8 1306.6L1226.3 1305.2L1231.7 1303.6L1237.1 1302.0L1242.5 1300.3L1247.8 1298.6L1253.2 1296.8L1258.5 1294.9L1263.8 1293.0L1269.0 1290.8L1274.3 1288.6L1279.7 1286.4L1285.2 1284.1L1290.5 1281.7L1295.4 1279.5L1300.1 1277.5L1300.0 1277.4L1295.4 1279.3L1290.3 1281.3L1284.9 1283.4L1279.4 1285.6L1273.9 1287.6L1268.5 1289.4L1263.2 1291.2L1257.8 1293.0L1252.5 1294.8L1247.2 1296.5L1241.8 1298.2L1236.4 1299.9L1231.1 1301.5L1225.7 1303.0L1220.2 1304.5L1214.8 1305.9L1209.4 1307.3L1203.9 1308.6L1198.4 1309.9L1192.9 1311.1L1187.4 1312.2L1181.9 1313.3L1176.4 1314.3L1170.9 1315.3L1165.3 1316.2L1159.8 1317.1L1154.2 1317.9L1148.7 1318.6L1143.1 1319.3L1137.5 1320.0L1131.9 1320.5L1126.3 1321.0L1120.7 1321.5L1115.1 1321.9L1109.5 1322.2L1103.9 1322.5L1098.3 1322.7L1092.7 1322.9L1087.1 1323.0L1081.4 1323.0L1075.8 1323.0L1070.2 1323.0L1064.6 1322.9L1059.0 1322.7L1053.4 1322.5L1047.7 1322.4L1042.0 1322.3L1036.2 1321.9L1030.3 1321.4L1024.5 1321.0L1019.1 1320.6L1014.1 1320.1Z"/>
<path d="M992.5 1279.6L997.2 1280.4L1002.3 1281.3L1007.8 1282.2L1013.4 1283.1L1018.9 1283.9L1024.3 1284.7L1029.7 1285.5L1035.0 1286.0L1040.4 1286.5L1045.8 1286.9L1051.1 1287.3L1056.5 1287.6L1061.9 1287.8L1067.3 1288.0L1072.7 1288.1L1078.0 1288.1L1083.4 1288.1L1088.8 1288.1L1094.2 1287.9L1099.6 1287.8L1105.0 1287.5L1110.3 1287.2L1115.7 1286.9L1121.1 1286.5L1126.4 1286.0L1131.8 1285.4L1137.2 1284.8L1142.5 1284.2L1147.8 1283.4L1153.2 1282.5L1158.5 1281.4L1164.0 1280.5L1169.6 1279.4L1175.0 1278.3L1180.1 1277.2L1184.8 1276.2L1184.8 1276.1L1180.0 1277.0L1174.9 1277.9L1169.5 1278.8L1163.9 1279.7L1158.4 1280.5L1153.0 1281.2L1147.6 1281.8L1142.3 1282.4L1136.9 1283.0L1131.6 1283.5L1126.3 1284.0L1120.9 1284.5L1115.6 1284.9L1110.2 1285.2L1104.9 1285.5L1099.5 1285.8L1094.1 1285.9L1088.8 1286.1L1083.4 1286.1L1078.0 1286.1L1072.7 1286.1L1067.3 1286.0L1062.0 1285.8L1056.6 1285.6L1051.2 1285.3L1045.9 1285.0L1040.5 1284.7L1035.2 1284.2L1029.8 1283.8L1024.5 1283.4L1019.0 1283.0L1013.5 1282.3L1007.9 1281.6L1002.4 1280.9L997.3 1280.2L992.5 1279.5Z"/>
<path d="M902.4 1222.8L906.6 1224.5L911.1 1226.5L915.8 1228.6L920.8 1230.5L925.7 1232.3L930.6 1234.1L935.3 1235.9L940.2 1237.5L945.0 1239.0L949.8 1240.4L954.7 1241.9L959.6 1243.2L964.5 1244.5L969.4 1245.7L974.4 1246.8L979.3 1247.9L984.3 1249.0L989.3 1250.0L994.3 1250.9L999.2 1251.8L1004.2 1252.6L1009.3 1253.4L1014.3 1254.1L1019.3 1254.8L1024.3 1255.4L1029.4 1256.0L1034.4 1256.5L1039.5 1257.0L1044.5 1257.4L1049.6 1257.7L1054.7 1258.0L1059.7 1258.3L1064.8 1258.5L1069.9 1258.6L1074.9 1258.7L1080.0 1258.7L1085.1 1258.7L1090.1 1258.6L1095.2 1258.5L1100.3 1258.3L1105.3 1258.0L1110.4 1257.7L1115.5 1257.4L1120.5 1257.0L1125.6 1256.5L1130.6 1256.0L1135.7 1255.4L1140.7 1254.8L1145.7 1254.1L1150.7 1253.4L1155.8 1252.6L1160.8 1251.8L1165.7 1250.9L1170.7 1250.0L1175.7 1249.0L1180.7 1247.9L1185.6 1246.8L1190.6 1245.7L1195.5 1244.5L1200.4 1243.2L1205.3 1241.9L1210.2 1240.4L1215.0 1239.0L1219.8 1237.5L1224.7 1235.9L1229.4 1234.1L1234.3 1232.3L1239.2 1230.5L1244.2 1228.6L1248.9 1226.5L1253.4 1224.5L1257.6 1222.8L1257.5 1222.6L1253.3 1224.1L1248.6 1225.6L1243.7 1227.2L1238.6 1228.9L1233.7 1230.6L1228.7 1232.0L1223.9 1233.4L1219.0 1234.9L1214.2 1236.3L1209.4 1237.6L1204.5 1238.9L1199.6 1240.2L1194.7 1241.4L1189.8 1242.6L1184.9 1243.8L1180.0 1244.9L1175.1 1245.9L1170.1 1246.9L1165.2 1247.8L1160.2 1248.7L1155.3 1249.6L1150.3 1250.3L1145.3 1251.1L1140.3 1251.7L1135.3 1252.3L1130.3 1252.9L1125.3 1253.4L1120.3 1253.9L1115.2 1254.3L1110.2 1254.6L1105.2 1254.9L1100.1 1255.2L1095.1 1255.3L1090.1 1255.5L1085.0 1255.6L1080.0 1255.6L1075.0 1255.6L1069.9 1255.5L1064.9 1255.3L1059.9 1255.2L1054.8 1254.9L1049.8 1254.6L1044.8 1254.3L1039.7 1253.9L1034.7 1253.4L1029.7 1252.9L1024.7 1252.3L1019.7 1251.7L1014.7 1251.1L1009.7 1250.3L1004.7 1249.6L999.8 1248.7L994.8 1247.8L989.9 1246.9L984.9 1245.9L980.0 1244.9L975.1 1243.8L970.2 1242.6L965.3 1241.4L960.4 1240.2L955.5 1238.9L950.6 1237.6L945.8 1236.3L941.0 1234.9L936.1 1233.4L931.3 1232.0L926.3 1230.6L921.4 1228.9L916.3 1227.2L911.4 1225.6L906.7 1224.1L902.5 1222.6Z"/>
<path d="M1200.3 1241.7L1192.3 1249.6L1189.5 1238.4Z"/>
<path d="M1374.9 1255.2L1379.5 1252.3L1384.4 1249.2L1389.6 1245.9L1394.8 1242.4L1400.0 1238.9L1405.1 1235.5L1410.1 1232.1L1414.9 1228.6L1419.7 1225.0L1424.5 1221.3L1429.2 1217.6L1433.8 1213.8L1438.5 1210.0L1443.0 1206.1L1447.6 1202.1L1452.1 1198.1L1456.5 1194.1L1460.9 1190.0L1465.3 1185.9L1469.6 1181.7L1473.9 1177.5L1478.1 1173.2L1482.3 1168.9L1486.4 1164.5L1490.5 1160.1L1494.6 1155.7L1498.5 1151.2L1502.5 1146.7L1506.4 1142.1L1510.2 1137.5L1514.0 1132.8L1517.8 1128.1L1521.5 1123.4L1525.1 1118.6L1528.7 1113.8L1532.2 1108.9L1535.7 1104.0L1539.1 1099.1L1542.5 1094.1L1545.8 1089.1L1549.1 1084.1L1552.3 1079.0L1555.5 1073.9L1558.6 1068.8L1561.7 1063.6L1564.6 1058.4L1567.6 1053.1L1570.5 1047.9L1573.3 1042.6L1576.1 1037.2L1578.8 1031.9L1581.4 1026.5L1584.0 1021.1L1586.5 1015.6L1589.0 1010.1L1591.4 1004.6L1593.8 999.1L1596.1 993.6L1598.3 988.0L1600.5 982.4L1602.5 976.7L1604.4 971.0L1606.3 965.2L1608.2 959.3L1610.1 953.2L1611.9 947.3L1613.5 941.8L1615.0 936.6L1614.9 936.6L1613.3 941.7L1611.5 947.2L1609.5 953.1L1607.5 959.0L1605.5 964.9L1603.3 970.6L1601.1 976.2L1598.9 981.8L1596.7 987.3L1594.5 992.9L1592.2 998.4L1589.8 1003.9L1587.4 1009.4L1584.9 1014.9L1582.4 1020.3L1579.8 1025.7L1577.2 1031.1L1574.5 1036.4L1571.7 1041.7L1568.9 1047.0L1566.0 1052.3L1563.1 1057.5L1560.1 1062.7L1557.1 1067.9L1554.0 1073.0L1550.8 1078.1L1547.6 1083.1L1544.4 1088.2L1541.0 1093.1L1537.7 1098.1L1534.3 1103.0L1530.8 1107.9L1527.3 1112.7L1523.7 1117.5L1520.0 1122.3L1516.4 1127.0L1512.6 1131.7L1508.9 1136.4L1505.0 1141.0L1501.1 1145.5L1497.2 1150.0L1493.2 1154.5L1489.2 1158.9L1485.1 1163.3L1481.0 1167.7L1476.8 1172.0L1472.6 1176.2L1468.4 1180.4L1464.1 1184.6L1459.7 1188.7L1455.3 1192.8L1450.9 1196.8L1446.4 1200.8L1441.9 1204.7L1437.3 1208.6L1432.7 1212.4L1428.1 1216.2L1423.4 1219.9L1418.7 1223.6L1413.9 1227.2L1409.1 1230.9L1404.4 1234.6L1399.5 1238.2L1394.4 1241.8L1389.2 1245.4L1384.1 1248.9L1379.4 1252.1L1374.9 1255.1Z"/>
<path d="M1508.8 1137.8L1507.1 1147.9L1499.2 1141.2Z"/>
<path d="M1387.3 1238.8L1391.6 1235.9L1396.2 1232.8L1401.1 1229.5L1406.0 1225.9L1410.9 1222.4L1415.6 1219.1L1420.3 1215.7L1424.9 1212.1L1429.4 1208.5L1433.8 1204.8L1438.2 1201.1L1442.6 1197.4L1446.9 1193.5L1451.2 1189.7L1455.4 1185.8L1459.6 1181.8L1463.7 1177.8L1467.9 1173.8L1471.9 1169.7L1476.0 1165.6L1479.9 1161.4L1483.9 1157.2L1487.8 1152.9L1491.6 1148.7L1495.4 1144.3L1499.2 1140.0L1502.9 1135.5L1506.6 1131.1L1510.2 1126.6L1513.8 1122.1L1517.3 1117.5L1520.8 1112.9L1524.2 1108.3L1527.6 1103.6L1530.9 1098.9L1534.2 1094.2L1537.4 1089.4L1540.6 1084.6L1543.7 1079.8L1546.8 1074.9L1549.8 1070.0L1552.8 1065.0L1555.7 1060.1L1558.6 1055.1L1561.4 1050.1L1564.2 1045.0L1566.9 1039.9L1569.6 1034.8L1572.2 1029.7L1574.7 1024.5L1577.2 1019.3L1579.6 1014.1L1581.9 1008.8L1584.1 1003.4L1586.2 998.0L1588.5 992.4L1590.7 986.8L1592.7 981.2L1594.6 976.0L1596.4 971.2L1596.3 971.1L1594.4 975.9L1592.3 981.0L1590.0 986.5L1587.7 992.1L1585.4 997.6L1582.9 1002.9L1580.4 1008.1L1577.9 1013.3L1575.5 1018.5L1573.0 1023.6L1570.4 1028.8L1567.8 1033.9L1565.1 1039.0L1562.4 1044.1L1559.7 1049.1L1556.9 1054.1L1554.0 1059.1L1551.1 1064.0L1548.1 1068.9L1545.1 1073.8L1542.0 1078.7L1538.9 1083.5L1535.7 1088.3L1532.5 1093.0L1529.3 1097.8L1525.9 1102.5L1522.6 1107.1L1519.2 1111.7L1515.7 1116.3L1512.2 1120.9L1508.6 1125.4L1505.0 1129.8L1501.4 1134.3L1497.7 1138.7L1493.9 1143.0L1490.1 1147.3L1486.3 1151.6L1482.4 1155.8L1478.5 1160.0L1474.5 1164.2L1470.5 1168.3L1466.4 1172.4L1462.4 1176.4L1458.2 1180.4L1454.0 1184.3L1449.8 1188.2L1445.6 1192.0L1441.3 1195.9L1436.9 1199.6L1432.5 1203.3L1428.1 1207.0L1423.7 1210.7L1419.2 1214.3L1414.8 1218.0L1410.3 1221.7L1405.5 1225.3L1400.7 1228.9L1395.9 1232.4L1391.4 1235.7L1387.2 1238.7Z"/>
<path d="M1568.3 1035.1L1568.8 1045.5L1559.5 1040.5Z"/>
<path d="M1609.3 955.2L1610.9 950.0L1612.7 944.5L1614.6 938.6L1616.4 932.5L1618.1 926.5L1619.8 920.7L1621.4 914.9L1622.9 909.0L1624.2 903.1L1625.5 897.3L1626.7 891.4L1627.9 885.4L1628.9 879.5L1629.9 873.6L1630.9 867.6L1631.8 861.7L1632.6 855.7L1633.3 849.7L1634.0 843.8L1634.6 837.8L1635.2 831.8L1635.7 825.8L1636.1 819.8L1636.5 813.8L1636.8 807.7L1637.0 801.7L1637.2 795.7L1637.3 789.7L1637.3 783.7L1637.3 777.6L1637.2 771.6L1637.0 765.6L1636.8 759.6L1636.5 753.6L1636.2 747.6L1635.8 741.6L1635.3 735.5L1634.7 729.6L1634.1 723.6L1633.4 717.6L1632.7 711.6L1631.9 705.6L1631.0 699.7L1630.1 693.7L1629.1 687.8L1628.0 681.9L1626.9 675.9L1625.7 670.0L1624.5 664.2L1623.1 658.3L1621.8 652.4L1620.3 646.6L1618.8 640.7L1617.2 634.9L1615.6 629.1L1613.9 623.4L1612.2 617.6L1610.3 611.9L1608.5 606.1L1606.5 600.4L1604.5 594.8L1602.4 589.1L1600.3 583.5L1598.1 577.9L1595.9 572.3L1593.6 566.7L1591.2 561.2L1588.8 555.7L1586.3 550.2L1583.7 544.7L1581.1 539.3L1578.5 533.9L1575.7 528.5L1572.9 523.2L1570.1 517.9L1567.2 512.6L1564.2 507.4L1561.0 502.3L1557.7 497.1L1554.4 491.8L1551.0 486.5L1547.6 481.3L1544.4 476.5L1541.4 472.0L1541.3 472.0L1544.2 476.6L1547.3 481.5L1550.5 486.8L1553.8 492.2L1557.0 497.5L1560.0 502.9L1562.8 508.2L1565.7 513.5L1568.6 518.7L1571.4 524.0L1574.2 529.3L1576.9 534.7L1579.5 540.1L1582.1 545.5L1584.7 550.9L1587.1 556.4L1589.6 561.9L1591.9 567.4L1594.2 573.0L1596.5 578.5L1598.6 584.1L1600.8 589.7L1602.8 595.4L1604.8 601.0L1606.8 606.7L1608.6 612.4L1610.5 618.1L1612.2 623.9L1613.9 629.6L1615.5 635.4L1617.1 641.2L1618.6 647.0L1620.0 652.8L1621.4 658.7L1622.7 664.5L1624.0 670.4L1625.2 676.3L1626.3 682.2L1627.3 688.1L1628.3 694.0L1629.3 699.9L1630.1 705.9L1630.9 711.8L1631.7 717.8L1632.4 723.8L1633.0 729.7L1633.5 735.7L1634.0 741.7L1634.4 747.7L1634.8 753.7L1635.0 759.7L1635.3 765.7L1635.4 771.7L1635.5 777.7L1635.5 783.7L1635.5 789.7L1635.4 795.7L1635.2 801.7L1635.0 807.7L1634.7 813.7L1634.3 819.6L1633.9 825.6L1633.4 831.6L1632.9 837.6L1632.3 843.6L1631.6 849.5L1630.8 855.5L1630.0 861.4L1629.1 867.4L1628.2 873.3L1627.2 879.2L1626.1 885.1L1625.0 891.0L1623.8 896.9L1622.5 902.8L1621.2 908.6L1619.9 914.5L1618.6 920.4L1617.3 926.3L1615.7 932.3L1614.0 938.4L1612.3 944.4L1610.7 950.0L1609.2 955.2Z"/>
<path d="M1632.7 718.8L1638.8 727.0L1628.5 728.1Z"/>
<path d="M1597.4 971.5L1599.1 966.7L1601.0 961.5L1603.0 955.9L1604.9 950.2L1606.7 944.6L1608.6 939.1L1610.4 933.6L1612.0 928.1L1613.5 922.6L1614.9 917.0L1616.3 911.5L1617.6 905.9L1618.9 900.3L1620.1 894.7L1621.2 889.1L1622.3 883.5L1623.3 877.8L1624.2 872.2L1625.1 866.5L1625.9 860.9L1626.7 855.2L1627.4 849.5L1628.1 843.8L1628.7 838.1L1629.2 832.4L1629.7 826.7L1630.1 821.0L1630.5 815.3L1630.8 809.5L1631.1 803.8L1631.2 798.1L1631.4 792.4L1631.4 786.6L1631.4 780.9L1631.4 775.2L1631.3 769.5L1631.1 763.7L1630.9 758.0L1630.6 752.3L1630.2 746.6L1629.8 740.8L1629.3 735.1L1628.8 729.4L1628.2 723.7L1627.6 718.0L1626.9 712.4L1626.1 706.7L1625.3 701.0L1624.4 695.4L1623.5 689.7L1622.5 684.1L1621.4 678.4L1620.3 672.8L1619.1 667.2L1617.9 661.6L1616.6 656.0L1615.2 650.5L1613.8 644.9L1612.4 639.4L1610.8 633.8L1609.3 628.3L1607.6 622.9L1605.9 617.4L1604.2 611.9L1602.4 606.5L1600.5 601.1L1598.6 595.7L1596.6 590.3L1594.6 584.9L1592.5 579.6L1590.3 574.3L1588.1 569.0L1585.9 563.7L1583.6 558.5L1581.2 553.3L1578.8 548.1L1576.2 543.0L1573.5 537.9L1570.7 532.8L1567.9 527.6L1565.0 522.3L1562.1 517.1L1559.3 512.4L1556.8 507.9L1556.7 508.0L1559.1 512.5L1561.7 517.4L1564.4 522.6L1567.2 527.9L1569.9 533.2L1572.3 538.5L1574.7 543.7L1577.0 548.9L1579.4 554.1L1581.8 559.3L1584.1 564.5L1586.3 569.8L1588.5 575.1L1590.6 580.3L1592.7 585.7L1594.7 591.0L1596.7 596.4L1598.6 601.7L1600.5 607.1L1602.3 612.5L1604.0 618.0L1605.7 623.4L1607.3 628.9L1608.9 634.4L1610.4 639.9L1611.9 645.4L1613.3 650.9L1614.6 656.5L1615.9 662.1L1617.1 667.6L1618.3 673.2L1619.4 678.8L1620.5 684.4L1621.5 690.0L1622.4 695.7L1623.3 701.3L1624.1 707.0L1624.9 712.6L1625.6 718.3L1626.2 724.0L1626.8 729.6L1627.3 735.3L1627.8 741.0L1628.2 746.7L1628.6 752.4L1628.9 758.1L1629.1 763.8L1629.3 769.5L1629.4 775.2L1629.4 780.9L1629.4 786.6L1629.4 792.3L1629.2 798.0L1629.1 803.7L1628.8 809.4L1628.5 815.1L1628.1 820.8L1627.7 826.5L1627.2 832.2L1626.7 837.9L1626.1 843.6L1625.5 849.3L1624.7 854.9L1624.0 860.6L1623.1 866.2L1622.2 871.9L1621.3 877.5L1620.3 883.1L1619.2 888.7L1618.1 894.3L1616.9 899.9L1615.7 905.5L1614.4 911.0L1613.0 916.6L1611.6 922.1L1610.2 927.6L1608.7 933.1L1607.3 938.7L1605.8 944.3L1604.1 950.0L1602.3 955.7L1600.5 961.4L1598.9 966.6L1597.2 971.5Z"/>
<path d="M1625.6 855.8L1629.6 865.4L1619.1 864.0Z"/>
<path d="M1596.0 591.4L1604.0 598.0L1594.0 601.6Z"/>
<path d="M1607.4 914.7L1608.6 909.7L1609.9 904.3L1611.3 898.6L1612.6 892.7L1613.9 886.8L1615.1 881.1L1616.3 875.5L1617.3 869.8L1618.2 864.1L1619.0 858.4L1619.8 852.8L1620.5 847.0L1621.2 841.3L1621.7 835.6L1622.3 829.9L1622.7 824.2L1623.1 818.4L1623.5 812.7L1623.8 806.9L1624.0 801.2L1624.1 795.4L1624.2 789.7L1624.3 783.9L1624.3 778.2L1624.2 772.5L1624.0 766.7L1623.8 761.0L1623.6 755.2L1623.2 749.5L1622.8 743.7L1622.4 738.0L1621.9 732.3L1621.3 726.6L1620.7 720.8L1620.0 715.1L1619.3 709.4L1618.4 703.7L1617.6 698.1L1616.6 692.4L1615.7 686.7L1614.6 681.1L1613.5 675.4L1612.3 669.8L1611.1 664.2L1609.8 658.6L1608.5 653.0L1607.1 647.4L1605.6 641.8L1604.1 636.3L1602.5 630.8L1600.9 625.3L1599.2 619.8L1597.4 614.3L1595.6 608.8L1593.7 603.4L1591.8 598.0L1589.8 592.6L1587.8 587.2L1585.7 581.9L1583.5 576.5L1581.3 571.2L1579.0 565.9L1576.7 560.7L1574.3 555.4L1571.9 550.2L1569.4 545.1L1566.8 539.9L1564.2 534.8L1561.5 529.7L1558.7 524.7L1555.7 519.7L1552.7 514.5L1549.7 509.3L1546.6 504.3L1543.6 499.6L1541.0 495.2L1540.9 495.2L1543.5 499.6L1546.2 504.4L1549.2 509.6L1552.2 514.8L1555.0 520.1L1557.7 525.2L1560.2 530.4L1562.8 535.5L1565.4 540.6L1567.9 545.8L1570.4 550.9L1572.8 556.1L1575.2 561.4L1577.5 566.6L1579.8 571.9L1582.0 577.2L1584.1 582.5L1586.2 587.8L1588.2 593.2L1590.2 598.6L1592.1 604.0L1594.0 609.4L1595.8 614.8L1597.6 620.3L1599.3 625.7L1600.9 631.2L1602.5 636.8L1604.0 642.3L1605.4 647.8L1606.8 653.4L1608.2 659.0L1609.5 664.5L1610.7 670.1L1611.9 675.8L1613.0 681.4L1614.0 687.0L1615.0 692.7L1615.9 698.3L1616.8 704.0L1617.6 709.7L1618.3 715.3L1619.0 721.0L1619.7 726.7L1620.2 732.4L1620.7 738.1L1621.2 743.9L1621.6 749.6L1621.9 755.3L1622.2 761.0L1622.4 766.8L1622.5 772.5L1622.6 778.2L1622.6 783.9L1622.6 789.7L1622.5 795.4L1622.3 801.1L1622.1 806.9L1621.8 812.6L1621.5 818.3L1621.1 824.0L1620.6 829.7L1620.1 835.5L1619.5 841.2L1618.9 846.9L1618.2 852.5L1617.4 858.2L1616.6 863.9L1615.7 869.6L1614.9 875.2L1614.0 880.9L1613.1 886.7L1612.0 892.5L1610.8 898.4L1609.6 904.2L1608.4 909.6L1607.3 914.7Z"/>
<path d="M1610.5 665.3L1617.4 672.7L1607.3 674.9Z"/>
<path d="M1612.1 839.1L1612.6 834.3L1613.1 829.0L1613.6 823.5L1614.1 817.7L1614.4 812.1L1614.8 806.6L1615.0 801.1L1615.2 795.7L1615.3 790.2L1615.4 784.8L1615.4 779.3L1615.3 773.9L1615.2 768.4L1615.0 763.0L1614.8 757.5L1614.5 752.1L1614.1 746.6L1613.7 741.2L1613.3 735.8L1612.8 730.3L1612.2 724.9L1611.6 719.5L1610.9 714.1L1610.2 708.7L1609.4 703.3L1608.5 697.9L1607.7 692.5L1606.7 687.2L1605.7 681.8L1604.6 676.5L1603.5 671.1L1602.4 665.8L1601.1 660.5L1599.9 655.2L1598.5 649.9L1597.1 644.6L1595.7 639.4L1594.2 634.1L1592.6 628.9L1591.0 623.7L1589.4 618.5L1587.6 613.3L1585.8 608.1L1583.8 602.8L1581.8 597.4L1579.8 592.2L1577.9 587.3L1576.1 582.8L1576.0 582.8L1577.7 587.4L1579.5 592.3L1581.4 597.6L1583.4 603.0L1585.3 608.3L1587.0 613.5L1588.6 618.7L1590.3 623.9L1591.9 629.1L1593.4 634.4L1594.9 639.6L1596.3 644.9L1597.7 650.1L1599.0 655.4L1600.3 660.7L1601.5 666.0L1602.7 671.3L1603.8 676.6L1604.8 682.0L1605.8 687.3L1606.8 692.7L1607.7 698.0L1608.5 703.4L1609.3 708.8L1610.0 714.2L1610.7 719.6L1611.3 725.0L1611.9 730.4L1612.4 735.8L1612.9 741.3L1613.3 746.7L1613.6 752.1L1613.9 757.6L1614.1 763.0L1614.3 768.4L1614.4 773.9L1614.5 779.3L1614.5 784.8L1614.5 790.2L1614.4 795.6L1614.3 801.1L1614.1 806.5L1613.9 812.1L1613.6 817.7L1613.2 823.4L1612.8 829.0L1612.4 834.2L1612.0 839.1Z"/>
<path d="M1552.8 487.8L1550.1 483.4L1547.2 478.6L1544.2 473.5L1540.9 468.4L1537.6 463.5L1534.3 458.6L1531.1 453.8L1527.7 449.2L1524.3 444.5L1520.8 440.0L1517.2 435.4L1513.6 430.9L1510.0 426.5L1506.3 422.1L1502.5 417.7L1498.7 413.3L1494.9 409.0L1491.0 404.8L1487.1 400.6L1483.1 396.4L1479.1 392.2L1475.0 388.2L1471.0 384.1L1466.8 380.1L1462.6 376.1L1458.4 372.2L1454.2 368.3L1449.9 364.5L1445.5 360.7L1441.1 356.9L1436.7 353.2L1432.3 349.6L1427.8 346.0L1423.2 342.4L1418.7 338.9L1414.0 335.5L1409.4 332.1L1404.6 328.9L1399.7 325.6L1394.8 322.3L1389.7 319.0L1384.6 316.0L1379.8 313.1L1375.4 310.4L1375.3 310.6L1379.6 313.5L1384.1 316.7L1388.9 320.2L1393.9 323.6L1398.7 327.1L1403.4 330.5L1408.0 334.0L1412.5 337.5L1417.1 341.0L1421.6 344.5L1426.1 348.1L1430.6 351.7L1435.0 355.3L1439.4 359.0L1443.8 362.7L1448.1 366.5L1452.4 370.3L1456.6 374.2L1460.8 378.1L1465.0 382.0L1469.1 386.0L1473.2 390.0L1477.2 394.1L1481.2 398.2L1485.1 402.4L1489.0 406.6L1492.9 410.8L1496.7 415.1L1500.5 419.4L1504.2 423.8L1507.9 428.2L1511.5 432.6L1515.1 437.1L1518.7 441.6L1522.2 446.1L1525.7 450.7L1529.2 455.2L1532.7 459.8L1536.1 464.5L1539.6 469.3L1543.0 474.3L1546.5 479.1L1549.7 483.6L1552.6 487.9Z"/>
<path d="M1490.4 406.1L1500.9 409.3L1492.6 416.8Z"/>
<path d="M1558.1 507.2L1555.6 502.9L1552.9 498.2L1550.1 493.3L1547.0 488.3L1544.0 483.3L1541.1 478.5L1538.2 473.7L1535.1 469.1L1531.9 464.5L1528.7 459.9L1525.5 455.4L1522.1 451.0L1518.8 446.5L1515.4 442.1L1511.9 437.8L1508.4 433.4L1504.9 429.1L1501.3 424.9L1497.6 420.6L1494.0 416.5L1490.3 412.3L1486.5 408.2L1482.7 404.1L1478.9 400.1L1475.0 396.1L1471.1 392.1L1467.1 388.2L1463.1 384.3L1459.1 380.5L1455.0 376.7L1450.9 372.9L1446.7 369.2L1442.6 365.6L1438.3 361.9L1434.1 358.3L1429.8 354.8L1425.4 351.3L1421.1 347.8L1416.7 344.4L1412.2 341.1L1407.8 337.7L1403.3 334.5L1398.7 331.3L1394.1 328.1L1389.5 325.0L1384.7 322.1L1379.9 319.2L1374.9 316.2L1369.9 313.1L1365.0 310.3L1360.3 307.6L1356.0 305.1L1356.0 305.2L1360.2 307.8L1364.7 310.7L1369.6 313.8L1374.5 316.9L1379.3 320.1L1383.9 323.3L1388.4 326.6L1393.0 329.8L1397.5 333.0L1402.0 336.2L1406.5 339.5L1410.9 342.8L1415.3 346.2L1419.7 349.6L1424.1 353.0L1428.4 356.5L1432.6 360.1L1436.9 363.6L1441.1 367.2L1445.3 370.9L1449.4 374.6L1453.5 378.3L1457.6 382.1L1461.6 385.9L1465.6 389.8L1469.5 393.7L1473.4 397.6L1477.3 401.6L1481.1 405.6L1484.9 409.7L1488.6 413.8L1492.3 417.9L1496.0 422.1L1499.6 426.3L1503.1 430.6L1506.7 434.8L1510.2 439.1L1513.6 443.5L1517.0 447.9L1520.4 452.3L1523.7 456.7L1527.0 461.2L1530.2 465.7L1533.4 470.2L1536.6 474.8L1539.9 479.3L1543.1 483.9L1546.3 488.7L1549.4 493.6L1552.5 498.5L1555.4 503.0L1558.0 507.2Z"/>
<path d="M1416.5 345.6L1426.9 347.0L1420.3 355.5Z"/>
<path d="M1532.7 477.9L1529.9 473.7L1526.9 469.3L1523.7 464.6L1520.3 459.8L1516.9 455.1L1513.6 450.5L1510.3 446.0L1507.0 441.6L1503.5 437.2L1499.9 432.9L1496.4 428.6L1492.7 424.4L1489.1 420.2L1485.4 416.1L1481.6 412.0L1477.8 407.9L1474.0 403.9L1470.1 399.9L1466.1 395.9L1462.2 392.0L1458.2 388.1L1454.1 384.3L1450.1 380.5L1445.9 376.8L1441.8 373.1L1437.6 369.4L1433.4 365.8L1429.1 362.2L1424.8 358.7L1420.4 355.2L1416.1 351.8L1411.7 348.4L1407.2 345.0L1402.7 341.7L1398.2 338.4L1393.7 335.2L1389.1 332.1L1384.5 328.9L1379.8 325.9L1375.1 322.9L1370.4 320.0L1365.6 317.2L1360.6 314.4L1355.6 311.5L1350.5 308.7L1345.5 305.9L1340.7 303.4L1336.4 301.1L1336.3 301.2L1340.6 303.6L1345.3 306.3L1350.2 309.2L1355.3 312.2L1360.2 315.2L1364.9 318.2L1369.6 321.3L1374.2 324.3L1378.9 327.4L1383.5 330.5L1388.0 333.6L1392.6 336.8L1397.1 340.0L1401.6 343.2L1406.1 346.5L1410.5 349.9L1414.9 353.2L1419.3 356.7L1423.6 360.2L1427.9 363.7L1432.1 367.2L1436.4 370.8L1440.5 374.5L1444.7 378.2L1448.8 381.9L1452.8 385.7L1456.9 389.5L1460.9 393.4L1464.8 397.3L1468.7 401.2L1472.6 405.2L1476.4 409.2L1480.2 413.3L1483.9 417.3L1487.7 421.5L1491.3 425.6L1494.9 429.8L1498.5 434.1L1502.1 438.3L1505.6 442.6L1509.1 447.0L1512.6 451.2L1516.2 455.6L1519.7 460.2L1523.1 464.9L1526.6 469.5L1529.7 473.8L1532.6 477.9Z"/>
<path d="M1506.7 442.6L1516.3 446.4L1508.0 452.8Z"/>
<path d="M1480.6 422.5L1477.1 418.7L1473.4 414.6L1469.4 410.3L1465.2 405.9L1461.0 401.6L1456.9 397.5L1452.8 393.4L1448.6 389.4L1444.4 385.5L1440.2 381.6L1435.9 377.8L1431.5 374.0L1427.1 370.3L1422.7 366.6L1418.2 363.0L1413.7 359.4L1409.2 355.9L1404.6 352.4L1400.0 349.0L1395.4 345.6L1390.7 342.2L1386.0 338.9L1381.2 335.7L1376.4 332.5L1371.6 329.4L1366.7 326.3L1361.8 323.3L1356.9 320.3L1351.9 317.4L1346.9 314.6L1341.8 311.8L1336.5 308.9L1331.2 306.1L1325.9 303.5L1320.9 301.0L1316.3 298.7L1316.3 298.8L1320.8 301.2L1325.7 303.8L1330.9 306.6L1336.3 309.4L1341.5 312.3L1346.5 315.2L1351.5 318.1L1356.4 321.1L1361.4 324.1L1366.2 327.1L1371.1 330.2L1375.9 333.3L1380.7 336.5L1385.4 339.7L1390.1 343.0L1394.8 346.4L1399.4 349.7L1404.1 353.2L1408.6 356.6L1413.2 360.2L1417.6 363.8L1422.1 367.4L1426.5 371.1L1430.9 374.8L1435.2 378.5L1439.5 382.3L1443.8 386.2L1448.0 390.1L1452.2 394.0L1456.4 398.0L1460.6 402.0L1464.8 406.3L1469.0 410.6L1473.1 414.8L1477.0 418.8L1480.5 422.6Z"/>
</g>
<g fill="none" stroke="#fff" stroke-width="1.2" stroke-dasharray="4 4.5" opacity=".55">
<circle cx="1080.0" cy="783.2" r="540.9"/>
<circle cx="1080.0" cy="783.2" r="485.0"/>
<circle cx="1080.0" cy="783.2" r="396.0"/>
<circle cx="1080.0" cy="783.2" r="280.0"/>
<circle cx="1080.0" cy="783.2" r="144.9"/>
<path d="M1092.0 783.2L1640.0 783.2"/>
<path d="M1090.4 789.2L1565.0 1063.2"/>
<path d="M1086.0 793.6L1360.0 1268.2"/>
<path d="M1080.0 795.2L1080.0 1343.2"/>
<path d="M1074.0 793.6L800.0 1268.2"/>
<path d="M1069.6 789.2L595.0 1063.2"/>
<path d="M1068.0 783.2L520.0 783.2"/>
<path d="M1069.6 777.2L595.0 503.2"/>
<path d="M1074.0 772.8L800.0 298.2"/>
<path d="M1080.0 771.2L1080.0 223.2"/>
<path d="M1086.0 772.8L1360.0 298.2"/>
<path d="M1090.4 777.2L1565.0 503.2"/>
</g>
<circle cx="1080.0" cy="783.2" r="2.6" fill="#fff" opacity=".9"/>
<g id="coast" fill="none" stroke="#fff" stroke-width="2.7" stroke-linejoin="round" stroke-linecap="round">
<path d="M1040.9 610.0L1044.4 604.2L1047.9 607.7L1052.5 601.9L1057.1 605.4L1061.7 598.5L1067.5 601.9L1070.9 596.2L1075.6 597.3L1077.9 603.1L1082.5 604.2L1089.4 598.5L1098.7 594.3L1107.9 594.3L1117.1 596.2L1128.7 599.6L1140.2 603.1L1151.8 608.9L1163.3 612.3L1174.9 614.6L1186.4 617.0L1191.0 613.5L1194.5 614.6L1196.8 622.7L1200.3 628.5L1202.6 633.1L1209.5 628.5L1221.1 628.5L1232.6 633.1L1239.5 640.0L1246.5 647.0L1255.7 644.7L1262.6 647.0L1267.3 653.9L1268.4 660.8L1267.3 670.1L1271.9 677.0L1274.2 688.5L1276.5 700.1L1278.8 709.3L1271.9 712.8L1264.9 716.3L1258.0 720.9L1260.3 725.5L1267.3 732.4L1274.2 737.0L1281.1 741.7L1288.0 748.6L1292.7 755.5L1297.3 764.8L1299.6 776.3L1301.9 787.9L1301.9 799.4L1303.0 810.9L1301.9 822.5L1300.7 834.0L1297.3 843.3L1292.7 852.5L1289.2 859.4L1290.3 866.4L1291.5 873.3L1285.7 880.2L1278.8 887.2L1271.9 896.4L1264.9 903.3L1260.3 910.3L1253.4 919.5L1248.8 926.4L1251.1 933.3L1248.8 940.0L1247.9 923.1L1250.6 928.6L1252.5 932.3L1248.8 937.9L1243.2 943.4L1235.8 947.1L1228.5 950.8L1221.1 954.5L1213.7 958.2L1206.3 960.0L1200.7 958.2L1195.2 958.2L1189.7 960.0L1184.1 961.9L1176.7 963.7L1169.3 967.4L1161.9 963.7L1158.2 967.4L1150.9 968.3L1143.5 967.4L1139.8 960.0L1136.1 958.2L1132.4 963.7L1126.8 963.7L1121.3 961.9L1113.9 960.0L1108.4 957.3L1106.5 950.8L1109.3 943.4L1113.9 939.7L1117.6 934.2L1115.8 928.6L1119.4 921.2L1121.3 913.8L1119.4 906.5L1115.8 899.1L1112.1 893.5L1106.5 891.7L1110.2 886.1L1114.8 880.6L1113.0 873.2L1110.2 865.8L1106.5 858.4L1101.0 851.0L1093.6 846.4L1086.2 845.5L1080.6 841.8L1077.0 836.2L1071.4 830.7L1065.9 825.2L1060.3 821.5L1054.8 820.5L1052.0 825.2L1053.9 832.5L1051.1 839.9L1047.4 847.3L1043.7 854.7L1040.0 858.4"/>
<path d="M1040.9 610.0L1043.2 614.6L1036.3 623.9L1029.4 635.4L1023.6 649.3L1019.0 663.1L1015.5 677.0L1012.1 690.9L1008.6 700.1L1001.7 707.0L992.4 711.6L983.2 713.9L973.9 718.6L968.2 727.8L963.6 734.7L960.1 727.8L955.5 718.6L948.5 711.6L941.6 705.9L932.4 700.1L923.1 695.5L913.9 693.2L904.7 693.2L897.7 694.3L890.8 695.5L883.9 690.9L879.3 683.9L874.6 674.7L870.0 665.5L867.7 656.2L865.4 647.0L867.7 640.0L871.2 647.0L873.5 656.2L872.3 665.5L877.0 672.4L880.4 681.6L883.9 688.5L879.3 693.2L874.6 695.5L877.0 702.4L883.9 704.7L890.8 709.3L895.4 716.3L889.7 718.6L897.7 720.9L907.0 719.7L916.2 716.3L923.1 718.6L927.8 725.5L926.6 737.0L920.8 741.7L918.5 757.8L916.2 771.7L913.9 783.2L911.6 794.8L909.3 801.7L907.0 808.6L909.3 815.6L916.2 813.3L919.7 806.3L923.1 810.9L932.4 810.9L937.0 820.2L941.6 829.4L939.3 836.4L946.2 841.0L950.9 847.9L943.9 852.5L939.3 854.8L943.9 864.1L946.2 872.1L953.2 868.7L962.4 867.5L971.6 864.1L973.9 873.3L975.1 884.8L983.2 888.3L992.4 889.5L1001.7 894.1L1008.6 896.4L1010.9 889.5L1017.8 886.0L1024.8 888.3L1029.4 896.4L1034.0 899.9L1036.3 889.5L1036.3 889.5L1034.0 875.6L1030.5 864.1L1028.2 857.1L1036.3 854.8L1043.2 852.5L1047.9 847.9L1051.3 838.7L1052.5 829.4L1054.8 822.5L1059.4 821.3L1066.3 824.8L1070.9 831.7L1077.9 838.7L1087.1 845.6L1094.0 850.2L1101.0 857.1L1107.9 866.4L1112.5 875.6L1116.0 882.5L1112.5 888.3L1107.9 891.8L1112.5 898.7L1117.1 907.9L1120.6 917.2L1121.8 926.4L1119.4 933.3L1117.1 940.0"/>
<path d="M853.9 644.7L856.2 656.2L855.0 649.3"/>
<path d="M893.1 732.4L896.6 729.0L900.0 732.4L896.6 736.6Z"/>
<path d="M902.4 732.4L909.3 741.7L916.2 739.4L920.8 741.7L916.2 727.8L909.3 725.5L900.0 720.9"/>
<path d="M1045.5 877.9L1047.9 872.1L1051.3 877.9L1049.0 886.0L1045.5 884.8Z"/>
<path d="M1101.0 903.3L1106.7 899.9L1107.9 905.6Z"/>
<path d="M1045.5 875.0L1048.3 872.3L1051.1 876.9L1049.2 886.1L1045.5 888.0L1044.1 882.4Z"/>
<path d="M1101.0 902.8L1107.4 900.0L1108.7 905.5Z"/>
<path d="M531.7 686.9L535.0 676.9L540.0 666.9L546.7 658.5L553.4 650.2L560.0 640.2L565.0 626.9L570.0 616.9L575.0 608.5L580.0 604.2L588.4 604.2L596.7 608.5L606.7 616.9L616.7 623.5L626.7 630.2L636.7 635.2L646.7 643.5L653.4 651.9L688.0 672.0L695.4 675.7L702.8 677.6L706.5 683.1L713.9 685.0L719.4 688.7L726.8 690.5L736.1 692.4L743.5 693.3L750.9 693.3L758.2 691.4L765.6 687.7L773.0 683.1L778.6 677.6L783.2 670.2L786.0 662.8L787.8 653.6L786.9 647.1L782.3 651.7L776.7 656.3L769.3 659.1L761.9 659.1L756.4 658.2L750.9 656.3L747.2 651.7L745.3 646.2L742.5 640.6L739.8 633.2L736.1 627.7L730.5 626.8L726.8 631.4L723.1 635.1L719.4 633.2L717.6 627.7L716.7 620.3L713.9 614.8L710.2 611.1L708.4 605.5L704.7 602.7L699.1 605.5L695.4 602.7L697.3 596.3L701.0 590.7L704.7 587.0L705.6 581.5L702.8 577.8L697.3 579.7L695.4 576.0L701.0 570.4L704.7 563.0L707.4 555.6L706.9 544.5L704.7 536.2L695.4 537.2L686.2 539.9L684.3 538.1L693.6 534.4L699.1 526.1L704.7 513.1L706.5 494.7L709.3 476.2L709.3 457.7L704.7 448.5L710.2 430.0L713.4 426.8L720.1 413.4L730.1 400.1L738.4 390.1L741.8 373.4L740.1 360.1L746.8 346.7L753.5 333.4L763.5 326.7"/>
<path d="M760.1 657.3L761.9 668.3L758.2 679.4L760.1 688.7L767.5 683.1L771.2 675.7L767.5 668.3L769.3 660.9Z"/>
<path d="M679.7 658.2L688.0 660.9L695.4 665.6L701.9 670.2L701.0 673.0L693.6 670.2L686.2 666.5L679.7 662.8Z"/>
<path d="M776.7 607.4L780.4 598.1L786.0 596.3L787.8 601.8L786.0 608.3L782.3 615.7L777.6 614.8Z"/>
<path d="M1194.2 235.7L1201.6 240.3L1208.0 244.9L1211.7 249.6L1208.0 252.3L1198.8 253.3L1191.4 256.0L1187.7 260.6L1191.4 266.2L1198.8 273.6L1205.3 281.0L1209.0 288.4L1209.9 297.6L1213.6 305.0L1219.1 312.4L1222.8 319.8L1226.5 329.0L1228.4 334.5L1224.7 338.2L1226.5 343.8L1232.1 348.4L1239.4 351.2L1248.7 353.0L1257.9 356.7L1267.2 360.4L1276.4 364.1L1285.6 366.9L1294.9 368.7L1306.0 369.3L1317.0 368.7L1328.1 367.8L1337.4 366.9L1344.8 366.0L1350.3 363.2L1353.1 359.5L1357.7 361.3L1365.1 365.0L1372.5 366.9L1378.0 364.1L1379.9 359.5L1378.9 353.0L1381.7 351.2L1389.1 353.0L1398.3 356.7L1407.6 361.3L1416.8 366.9L1426.1 371.5L1433.4 373.3L1435.3 367.8L1437.1 364.1L1433.4 358.6L1431.6 353.0L1435.3 351.2"/>
<path d="M1432.5 412.1L1435.3 406.6L1442.7 405.7L1449.1 404.8L1451.0 399.2L1457.5 398.3L1464.8 402.9L1472.2 408.5L1479.6 414.0L1487.0 419.5L1492.6 423.2L1497.2 428.8L1497.2 436.2L1495.3 439.9L1490.7 434.3L1481.5 435.2L1470.4 435.2L1461.2 437.1L1453.8 438.0L1446.4 434.3L1439.0 428.8L1434.4 421.4Z"/>
<path d="M1414.9 1220.0L1419.1 1214.9L1416.6 1209.9L1414.9 1203.2L1415.8 1196.6L1419.9 1191.6L1428.3 1188.2L1436.6 1183.2L1444.9 1178.2L1453.2 1174.9L1458.2 1171.6L1463.2 1166.6L1469.9 1161.6L1476.6 1156.6L1483.2 1151.6L1489.9 1144.9L1496.6 1139.9L1498.2 1134.9L1496.6 1128.3L1499.9 1123.3L1504.9 1117.4L1509.9 1113.3L1514.9 1106.6L1519.9 1099.9L1523.2 1093.3L1524.0 1086.6L1524.9 1079.9L1528.2 1076.6L1531.5 1071.6L1530.7 1066.6L1529.9 1060.0L1531.5 1053.3L1534.9 1046.6L1538.2 1040.0L1541.5 1033.3L1544.9 1026.6L1547.4 1020.0L1549.9 1013.3L1550.7 1006.6L1551.5 1000.0L1554.9 995.8L1553.2 991.7L1549.9 986.7L1543.2 985.8L1538.2 983.3L1531.5 986.7L1524.9 990.0L1518.2 989.2L1511.6 990.8L1504.9 990.0L1500.7 986.7L1502.4 981.7L1498.2 980.0L1493.2 983.3L1488.2 990.0L1484.9 998.3L1483.2 1006.6L1481.6 1013.3L1478.2 1021.6L1473.2 1030.0L1468.2 1038.3L1466.6 1043.3L1468.2 1046.6L1464.9 1055.0L1461.6 1063.3L1456.6 1071.6L1451.6 1079.9L1446.6 1088.3L1439.9 1094.9L1433.3 1101.6L1426.6 1106.6L1419.9 1111.6L1414.9 1113.3L1408.3 1110.8L1401.6 1111.6L1398.3 1119.9L1396.6 1128.3L1394.9 1131.6L1392.4 1126.6L1390.8 1118.3L1388.3 1113.3L1384.9 1118.3L1383.3 1124.1L1378.3 1124.9L1371.6 1124.1L1365.0 1123.3L1358.3 1124.9L1351.6 1128.3L1345.0 1130.8L1340.0 1133.3L1336.6 1139.9L1334.1 1144.9L1330.0 1143.2L1325.0 1143.2L1320.0 1144.9L1318.3 1149.9L1315.0 1154.9L1310.0 1159.9L1305.0 1163.2L1301.7 1166.6L1303.3 1171.6L1305.8 1176.6L1305.0 1183.2L1303.3 1189.9L1301.7 1196.6L1299.2 1201.6L1297.5 1206.6L1296.7 1213.2L1297.5 1220.0L1297.7 1220.2L1301.4 1225.7L1306.9 1231.3L1314.3 1233.1L1323.6 1234.0L1332.8 1233.1L1340.2 1230.3L1349.4 1230.3L1358.7 1228.5L1367.9 1225.7L1377.1 1224.8L1384.5 1227.6L1391.9 1226.7L1401.2 1223.9L1410.4 1221.1L1415.9 1218.3Z"/>
<path d="M1296.7 1129.9L1299.2 1124.9L1303.3 1120.8L1309.1 1119.9L1315.0 1122.4L1320.0 1126.6L1324.1 1129.9L1320.0 1133.3L1313.3 1134.1L1308.3 1138.3L1304.2 1143.2L1300.0 1141.6L1297.5 1136.6Z"/>
<path d="M1124.0 1199.9L1127.7 1188.8L1133.3 1181.4L1139.7 1174.0L1146.2 1166.6L1153.6 1162.0L1159.1 1157.4L1161.0 1153.7L1163.7 1159.2L1169.3 1160.1L1171.1 1164.8L1166.5 1172.1L1161.0 1177.7L1155.4 1183.2L1149.9 1188.8L1144.3 1194.3L1138.8 1200.8L1133.3 1204.5L1127.7 1203.6Z"/>
<path d="M1089.8 1223.0L1096.3 1216.5L1105.5 1207.3L1111.1 1201.7L1114.8 1200.8L1118.5 1205.4L1120.3 1210.9L1125.9 1213.7L1127.7 1215.6L1120.3 1218.3L1118.5 1223.9L1122.2 1229.4L1127.7 1235.0L1133.3 1238.7L1137.9 1241.4L1131.4 1239.6L1125.9 1236.8L1120.3 1231.3L1116.6 1229.4L1112.9 1231.3L1107.4 1227.6L1100.0 1225.7L1094.5 1224.8Z"/>
</g>
<g fill="#fff" stroke="none">
<ellipse cx="883.5" cy="521.8" rx="9" ry="3.5" transform="rotate(-5 883.5 521.8)"/>
<ellipse cx="1358.6" cy="302.2" rx="9" ry="4" transform="rotate(45 1358.6 302.2)"/>
<ellipse cx="1390.4" cy="332.7" rx="5" ry="8" transform="rotate(-10 1390.4 332.7)"/>
<ellipse cx="1509.2" cy="486.1" rx="3.5" ry="4" transform="rotate(0 1509.2 486.1)"/>
<ellipse cx="1522.1" cy="500.8" rx="3" ry="3" transform="rotate(0 1522.1 500.8)"/>
<ellipse cx="1422.0" cy="656.0" rx="5" ry="7" transform="rotate(-20 1422.0 656.0)"/>
<ellipse cx="883.0" cy="590.7" rx="4" ry="3" transform="rotate(-20 883.0 590.7)"/>
<ellipse cx="807.0" cy="1242.0" rx="2.5" ry="2.5" transform="rotate(0 807.0 1242.0)"/>
<ellipse cx="1055.0" cy="1185.0" rx="3" ry="3" transform="rotate(0 1055.0 1185.0)"/>
<rect x="1080" y="1083" width="4.4" height="262"/>
<rect x="1080.7" y="898" width="1.8" height="186" opacity=".85"/>
<rect x="1086" y="1313" width="18" height="3.5"/>
<rect x="1000" y="1321" width="14" height="3"/>
<rect x="1190" y="1286" width="20" height="3"/>
<rect x="1203" y="1302" width="14" height="3"/>
<rect x="1100" y="1326" width="10" height="2.5"/>
</g>
</g>
<g id="colorbar">
<rect x="1692" y="487.5" width="27.5" height="587.5" fill="#8a8a8a"/>
<rect x="1694" y="489.5" width="25" height="2" fill="#f0f0f0"/>
<rect x="1694" y="491" width="25" height="583" fill="url(#cbg)"/>
<rect x="1718.6" y="489" width="1.2" height="586" fill="#555" opacity=".7"/>
<path d="M1692 546.6h6M1713 546.6h6" stroke="#3a1020" stroke-width="1.6" opacity=".8"/><path d="M1692 605.3h6M1713 605.3h6" stroke="#3a1020" stroke-width="1.6" opacity=".8"/><path d="M1692 664.0h6M1713 664.0h6" stroke="#3a1020" stroke-width="1.6" opacity=".8"/><path d="M1692 722.6h6M1713 722.6h6" stroke="#3a1020" stroke-width="1.6" opacity=".8"/><path d="M1692 781.2h6M1713 781.2h6" stroke="#3a1020" stroke-width="1.6" opacity=".8"/><path d="M1692 839.9h6M1713 839.9h6" stroke="#3a1020" stroke-width="1.6" opacity=".8"/><path d="M1692 898.5h6M1713 898.5h6" stroke="#3a1020" stroke-width="1.6" opacity=".8"/><path d="M1692 957.2h6M1713 957.2h6" stroke="#3a1020" stroke-width="1.6" opacity=".8"/><path d="M1692 1015.9h6M1713 1015.9h6" stroke="#3a1020" stroke-width="1.6" opacity=".8"/>
<text transform="translate(1737.8 500.7) scale(.937 1)" class="cb">0.0010</text><text transform="translate(1737.8 559.4) scale(.937 1)" class="cb">0.00091</text><text transform="translate(1737.8 618.0) scale(.937 1)" class="cb">0.00080</text><text transform="translate(1737.8 676.7) scale(.937 1)" class="cb">0.00070</text><text transform="translate(1737.8 735.3) scale(.937 1)" class="cb">0.00059</text><text transform="translate(1737.8 794.0) scale(.937 1)" class="cb">0.00049</text><text transform="translate(1737.8 852.6) scale(.937 1)" class="cb">0.00039</text><text transform="translate(1737.8 911.2) scale(.937 1)" class="cb">0.00028</text><text transform="translate(1737.8 969.9) scale(.937 1)" class="cb">0.00018</text><text transform="translate(1737.8 1028.5) scale(.937 1)" class="cb">7.4e-05</text><text transform="translate(1737.8 1087.2) scale(.937 1)" class="cb">-3.0e-05</text>
</g>
<g id="legend">
<rect x="319.5" y="1344.5" width="303" height="91" fill="#fff" stroke="#8c3a3a" stroke-width="1.3"/>
<text x="471" y="1367" class="lg" text-anchor="middle">m/s</text>
<g fill="#6b0a0a">
<text x="361" y="1389" class="lg lgr" text-anchor="middle">5</text>
<text x="416" y="1389" class="lg lgr" text-anchor="middle">55</text>
<text x="471" y="1389" class="lg lgr" text-anchor="middle">105</text>
<text x="532" y="1389" class="lg lgr" text-anchor="middle">55</text>
<text x="592" y="1389" class="lg lgr" text-anchor="middle">5</text>
</g>
<g fill="#620000" stroke="none">
<rect x="327" y="1411.7" width="289" height="1.3"/>
<rect x="384" y="1407.9" width="174.3" height="8.8"/>
<rect x="442" y="1403.7" width="59" height="17.3"/>
<path d="M351 1406l11 6.3l-11 6.3z"/>
<path d="M409 1403.4l19 8.9l-19 8.9z"/>
<path d="M463.3 1395.3l31 17l-31 17z"/>
<path d="M525 1403.4l19 8.9l-19 8.9z"/>
<path d="M581 1406l11.5 6.3l-11.5 6.3z"/>
</g>
</g>
<text transform="translate(1688.2 1398.8) scale(.966 1)" class="an">Analysis</text>
<text x="130" y="1483" class="ft">Tue Oct 28 00:22:02 2025</text>
<text x="1516" y="1483" class="ft">Paul A. Newman &amp; Leslie R. Lait (NASA/GSFC)</text>
</svg>
</body></html>
